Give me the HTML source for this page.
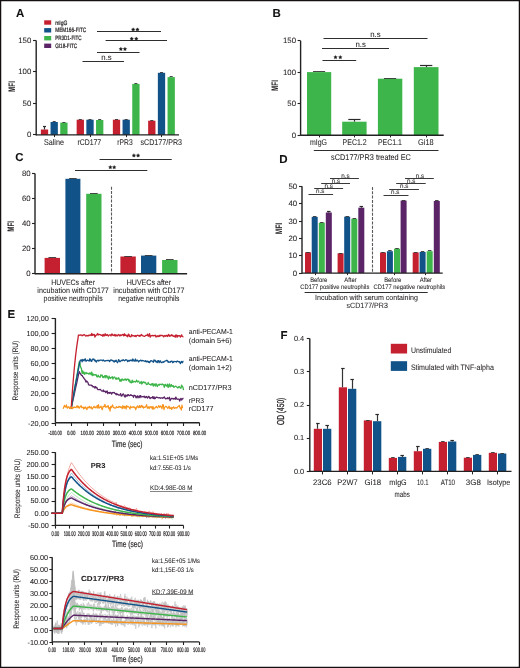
<!DOCTYPE html>
<html><head><meta charset="utf-8"><style>
html,body{margin:0;padding:0;background:#fff;}
body{width:520px;height:668px;overflow:hidden;}
svg{display:block;will-change:transform;text-rendering:geometricPrecision;font-family:"Liberation Sans",sans-serif;}
</style></head><body>
<svg width="520" height="668" viewBox="0 0 520 668">
<rect x="0" y="0" width="520" height="668" fill="#fff"/>
<text x="16" y="16.8" font-size="11.5" font-weight="bold" fill="#111" stroke="#111" stroke-width="0.06">A</text>
<rect x="44.2" y="20.3" width="7" height="4.4" fill="#c4202f"/>
<text x="55.2" y="24.6" font-size="6.3" textLength="12.2" lengthAdjust="spacingAndGlyphs" fill="#231f20" stroke="#231f20" stroke-width="0.22">mIgG</text>
<rect x="44.2" y="28.1" width="7" height="4.4" fill="#115288"/>
<text x="55.2" y="32.4" font-size="6.3" textLength="31" lengthAdjust="spacingAndGlyphs" fill="#231f20" stroke="#231f20" stroke-width="0.22">MEM166-FITC</text>
<rect x="44.2" y="36" width="7" height="4.4" fill="#3db54a"/>
<text x="55.2" y="40.3" font-size="6.3" textLength="26.3" lengthAdjust="spacingAndGlyphs" fill="#231f20" stroke="#231f20" stroke-width="0.22">PR3D1-FITC</text>
<rect x="44.2" y="43.6" width="7" height="4.4" fill="#5a2466"/>
<text x="55.2" y="47.9" font-size="6.3" textLength="22" lengthAdjust="spacingAndGlyphs" fill="#231f20" stroke="#231f20" stroke-width="0.22">GI18-FITC</text>
<line x1="36.2" y1="40.4" x2="36.2" y2="135.4" stroke="#222" stroke-width="1.4"/>
<line x1="33" y1="40.5" x2="36.2" y2="40.5" stroke="#222" stroke-width="1.1"/>
<text x="31.3" y="42.6" font-size="7.8" text-anchor="end" fill="#231f20" stroke="#231f20" stroke-width="0.06">150</text>
<line x1="33" y1="71.5" x2="36.2" y2="71.5" stroke="#222" stroke-width="1.1"/>
<text x="31.3" y="74.1" font-size="7.8" text-anchor="end" fill="#231f20" stroke="#231f20" stroke-width="0.06">100</text>
<line x1="33" y1="103.5" x2="36.2" y2="103.5" stroke="#222" stroke-width="1.1"/>
<text x="31.3" y="105.6" font-size="7.8" text-anchor="end" fill="#231f20" stroke="#231f20" stroke-width="0.06">50</text>
<line x1="33" y1="134.5" x2="36.2" y2="134.5" stroke="#222" stroke-width="1.1"/>
<text x="31.3" y="137.1" font-size="7.8" text-anchor="end" fill="#231f20" stroke="#231f20" stroke-width="0.06">0</text>
<text transform="translate(11.5 86.5) rotate(-90)" x="0" y="3.23" font-size="9.4" text-anchor="middle" font-weight="bold" textLength="10.8" lengthAdjust="spacingAndGlyphs" fill="#231f20" stroke="#231f20" stroke-width="0.06">MFI</text>
<rect x="40.85" y="129.5" width="7.3" height="5.4" fill="#c4202f"/>
<line x1="44.5" y1="129.5" x2="44.5" y2="126.4" stroke="#333" stroke-width="1.2"/>
<line x1="43" y1="126.5" x2="46" y2="126.5" stroke="#2a2a2a" stroke-width="1.2"/>
<rect x="50.55" y="122" width="7.3" height="12.9" fill="#115288"/>
<line x1="52.7" y1="121.5" x2="55.7" y2="121.5" stroke="#333" stroke-width="0.9"/>
<rect x="60.25" y="122.6" width="7.3" height="12.3" fill="#3db54a"/>
<line x1="62.4" y1="122.5" x2="65.4" y2="122.5" stroke="#333" stroke-width="0.9"/>
<line x1="54.5" y1="134.9" x2="54.5" y2="137.1" stroke="#222" stroke-width="1"/>
<text x="53.9" y="145.3" font-size="8.3" text-anchor="middle" textLength="20" lengthAdjust="spacingAndGlyphs" fill="#231f20" stroke="#231f20" stroke-width="0.06">Saline</text>
<rect x="76.65" y="119.7" width="7.3" height="15.2" fill="#c4202f"/>
<line x1="78.8" y1="119.5" x2="81.8" y2="119.5" stroke="#333" stroke-width="0.9"/>
<rect x="86.35" y="119.7" width="7.3" height="15.2" fill="#115288"/>
<line x1="88.5" y1="119.5" x2="91.5" y2="119.5" stroke="#333" stroke-width="0.9"/>
<rect x="96.05" y="120" width="7.3" height="14.9" fill="#3db54a"/>
<line x1="98.2" y1="119.5" x2="101.2" y2="119.5" stroke="#333" stroke-width="0.9"/>
<line x1="90.5" y1="134.9" x2="90.5" y2="137.1" stroke="#222" stroke-width="1"/>
<text x="89.3" y="145.3" font-size="8.3" text-anchor="middle" textLength="23.8" lengthAdjust="spacingAndGlyphs" fill="#231f20" stroke="#231f20" stroke-width="0.06">rCD177</text>
<rect x="112.85" y="119.7" width="7.3" height="15.2" fill="#c4202f"/>
<line x1="115" y1="119.5" x2="118" y2="119.5" stroke="#333" stroke-width="0.9"/>
<rect x="122.55" y="119.7" width="7.3" height="15.2" fill="#115288"/>
<line x1="124.7" y1="119.5" x2="127.7" y2="119.5" stroke="#333" stroke-width="0.9"/>
<rect x="132.25" y="83.9" width="7.3" height="51" fill="#3db54a"/>
<line x1="134.4" y1="83.5" x2="137.4" y2="83.5" stroke="#333" stroke-width="0.9"/>
<line x1="126.5" y1="134.9" x2="126.5" y2="137.1" stroke="#222" stroke-width="1"/>
<text x="125" y="145.3" font-size="8.3" text-anchor="middle" textLength="15.3" lengthAdjust="spacingAndGlyphs" fill="#231f20" stroke="#231f20" stroke-width="0.06">rPR3</text>
<rect x="148.15" y="120.7" width="7.3" height="14.2" fill="#c4202f"/>
<line x1="150.3" y1="120.5" x2="153.3" y2="120.5" stroke="#333" stroke-width="0.9"/>
<rect x="157.85" y="72.8" width="7.3" height="62.1" fill="#115288"/>
<line x1="160" y1="72.5" x2="163" y2="72.5" stroke="#333" stroke-width="0.9"/>
<rect x="167.55" y="77.1" width="7.3" height="57.8" fill="#3db54a"/>
<line x1="169.7" y1="76.5" x2="172.7" y2="76.5" stroke="#333" stroke-width="0.9"/>
<line x1="161.5" y1="134.9" x2="161.5" y2="137.1" stroke="#222" stroke-width="1"/>
<text x="161.3" y="145.3" font-size="8.3" text-anchor="middle" textLength="41.5" lengthAdjust="spacingAndGlyphs" fill="#231f20" stroke="#231f20" stroke-width="0.06">sCD177/PR3</text>
<line x1="36.2" y1="134.9" x2="179" y2="134.9" stroke="#222" stroke-width="1.4"/>
<line x1="97" y1="31.5" x2="161" y2="31.5" stroke="#2e2e2e" stroke-width="1.1"/>
<path d="M133.18 27.75 L133.74 28.82 L134.93 29.03 L134.09 29.9 L134.26 31.1 L133.18 30.56 L132.09 31.1 L132.26 29.9 L131.42 29.03 L132.61 28.82 Z" fill="#1a1a1a" stroke="#1a1a1a" stroke-width="0.35" stroke-linejoin="round"/>
<path d="M137.43 27.75 L137.99 28.82 L139.18 29.03 L138.34 29.9 L138.51 31.1 L137.43 30.56 L136.34 31.1 L136.51 29.9 L135.67 29.03 L136.86 28.82 Z" fill="#1a1a1a" stroke="#1a1a1a" stroke-width="0.35" stroke-linejoin="round"/>
<line x1="105.6" y1="40.5" x2="167" y2="40.5" stroke="#2e2e2e" stroke-width="1.1"/>
<path d="M131.7 36.95 L132.27 38.02 L133.46 38.23 L132.61 39.1 L132.79 40.3 L131.7 39.76 L130.61 40.3 L130.79 39.1 L129.94 38.23 L131.13 38.02 Z" fill="#1a1a1a" stroke="#1a1a1a" stroke-width="0.35" stroke-linejoin="round"/>
<path d="M136.3 36.95 L136.87 38.02 L138.06 38.23 L137.21 39.1 L137.39 40.3 L136.3 39.76 L135.21 40.3 L135.39 39.1 L134.54 38.23 L135.73 38.02 Z" fill="#1a1a1a" stroke="#1a1a1a" stroke-width="0.35" stroke-linejoin="round"/>
<line x1="97" y1="52.5" x2="139.5" y2="52.5" stroke="#2e2e2e" stroke-width="1.1"/>
<path d="M120.85 47.25 L121.42 48.32 L122.61 48.53 L121.76 49.4 L121.94 50.6 L120.85 50.06 L119.76 50.6 L119.94 49.4 L119.09 48.53 L120.28 48.32 Z" fill="#1a1a1a" stroke="#1a1a1a" stroke-width="0.35" stroke-linejoin="round"/>
<path d="M124.95 47.25 L125.52 48.32 L126.71 48.53 L125.86 49.4 L126.04 50.6 L124.95 50.06 L123.86 50.6 L124.04 49.4 L123.19 48.53 L124.38 48.32 Z" fill="#1a1a1a" stroke="#1a1a1a" stroke-width="0.35" stroke-linejoin="round"/>
<line x1="82.5" y1="61.5" x2="124" y2="61.5" stroke="#2e2e2e" stroke-width="1.1"/>
<text x="106.5" y="59.6" font-size="8" text-anchor="middle" textLength="10.4" lengthAdjust="spacingAndGlyphs" fill="#231f20" stroke="#231f20" stroke-width="0.06">n.s</text>
<text x="272.4" y="16.8" font-size="11.5" font-weight="bold" fill="#111" stroke="#111" stroke-width="0.06">B</text>
<line x1="300.6" y1="40.8" x2="300.6" y2="135.7" stroke="#222" stroke-width="1.4"/>
<line x1="297.6" y1="40.5" x2="300.6" y2="40.5" stroke="#222" stroke-width="1.1"/>
<text x="296" y="43.4" font-size="7.8" text-anchor="end" fill="#231f20" stroke="#231f20" stroke-width="0.06">150</text>
<line x1="297.6" y1="72.5" x2="300.6" y2="72.5" stroke="#222" stroke-width="1.1"/>
<text x="296" y="74.87" font-size="7.8" text-anchor="end" fill="#231f20" stroke="#231f20" stroke-width="0.06">100</text>
<line x1="297.6" y1="103.5" x2="300.6" y2="103.5" stroke="#222" stroke-width="1.1"/>
<text x="296" y="106.33" font-size="7.8" text-anchor="end" fill="#231f20" stroke="#231f20" stroke-width="0.06">50</text>
<line x1="297.6" y1="135.5" x2="300.6" y2="135.5" stroke="#222" stroke-width="1.1"/>
<text x="296" y="137.8" font-size="7.8" text-anchor="end" fill="#231f20" stroke="#231f20" stroke-width="0.06">0</text>
<text transform="translate(274.7 85.5) rotate(-90)" x="0" y="3.23" font-size="9.4" text-anchor="middle" font-weight="bold" textLength="10.8" lengthAdjust="spacingAndGlyphs" fill="#231f20" stroke="#231f20" stroke-width="0.06">MFI</text>
<rect x="307" y="72.1" width="24.2" height="63.1" fill="#3db54a"/>
<line x1="313.05" y1="71.5" x2="325.15" y2="71.5" stroke="#333" stroke-width="0.9"/>
<line x1="319.5" y1="135.2" x2="319.5" y2="137.4" stroke="#222" stroke-width="1"/>
<text x="318.5" y="145.4" font-size="8.3" text-anchor="middle" textLength="17" lengthAdjust="spacingAndGlyphs" fill="#231f20" stroke="#231f20" stroke-width="0.06">mIgG</text>
<rect x="342.2" y="121.7" width="24.4" height="13.5" fill="#3db54a"/>
<line x1="354.5" y1="121.7" x2="354.5" y2="119.2" stroke="#333" stroke-width="1.2"/>
<line x1="348.3" y1="119.5" x2="360.5" y2="119.5" stroke="#2a2a2a" stroke-width="1.2"/>
<line x1="354.5" y1="135.2" x2="354.5" y2="137.4" stroke="#222" stroke-width="1"/>
<text x="354.6" y="145.4" font-size="8.3" text-anchor="middle" textLength="24" lengthAdjust="spacingAndGlyphs" fill="#231f20" stroke="#231f20" stroke-width="0.06">PEC1.2</text>
<rect x="377.9" y="78.7" width="24.4" height="56.5" fill="#3db54a"/>
<line x1="384" y1="78.5" x2="396.2" y2="78.5" stroke="#333" stroke-width="0.9"/>
<line x1="390.5" y1="135.2" x2="390.5" y2="137.4" stroke="#222" stroke-width="1"/>
<text x="389.9" y="145.4" font-size="8.3" text-anchor="middle" textLength="24" lengthAdjust="spacingAndGlyphs" fill="#231f20" stroke="#231f20" stroke-width="0.06">PEC1.1</text>
<rect x="413.8" y="67.1" width="24.7" height="68.1" fill="#3db54a"/>
<line x1="426.5" y1="67.1" x2="426.5" y2="65.6" stroke="#333" stroke-width="1.2"/>
<line x1="419.97" y1="65.5" x2="432.32" y2="65.5" stroke="#2a2a2a" stroke-width="1.2"/>
<line x1="426.5" y1="135.2" x2="426.5" y2="137.4" stroke="#222" stroke-width="1"/>
<text x="425.9" y="145.4" font-size="8.3" text-anchor="middle" textLength="15.6" lengthAdjust="spacingAndGlyphs" fill="#231f20" stroke="#231f20" stroke-width="0.06">Gi18</text>
<line x1="300.6" y1="135.2" x2="443.7" y2="135.2" stroke="#222" stroke-width="1.4"/>
<line x1="313.8" y1="150.5" x2="438.5" y2="150.5" stroke="#2e2e2e" stroke-width="1.1"/>
<text x="371" y="159.9" font-size="8.3" text-anchor="middle" textLength="79.8" lengthAdjust="spacingAndGlyphs" fill="#231f20" stroke="#231f20" stroke-width="0.06">sCD177/PR3 treated EC</text>
<line x1="323.5" y1="38.5" x2="427.5" y2="38.5" stroke="#2e2e2e" stroke-width="1.1"/>
<text x="375.4" y="36.9" font-size="8" text-anchor="middle" textLength="10.4" lengthAdjust="spacingAndGlyphs" fill="#231f20" stroke="#231f20" stroke-width="0.06">n.s</text>
<line x1="322" y1="48.5" x2="389" y2="48.5" stroke="#2e2e2e" stroke-width="1.1"/>
<text x="360.6" y="47.1" font-size="8" text-anchor="middle" textLength="10.4" lengthAdjust="spacingAndGlyphs" fill="#231f20" stroke="#231f20" stroke-width="0.06">n.s</text>
<line x1="322.5" y1="60.5" x2="356.2" y2="60.5" stroke="#2e2e2e" stroke-width="1.1"/>
<path d="M335.5 55.45 L336.07 56.52 L337.26 56.73 L336.41 57.6 L336.59 58.8 L335.5 58.26 L334.41 58.8 L334.59 57.6 L333.74 56.73 L334.93 56.52 Z" fill="#1a1a1a" stroke="#1a1a1a" stroke-width="0.35" stroke-linejoin="round"/>
<path d="M340.3 55.45 L340.87 56.52 L342.06 56.73 L341.21 57.6 L341.39 58.8 L340.3 58.26 L339.21 58.8 L339.39 57.6 L338.54 56.73 L339.73 56.52 Z" fill="#1a1a1a" stroke="#1a1a1a" stroke-width="0.35" stroke-linejoin="round"/>
<text x="15.3" y="160.6" font-size="11.5" font-weight="bold" fill="#111" stroke="#111" stroke-width="0.06">C</text>
<line x1="35" y1="173.6" x2="35" y2="274.3" stroke="#222" stroke-width="1.4"/>
<line x1="32" y1="173.5" x2="35" y2="173.5" stroke="#222" stroke-width="1.1"/>
<text x="30.7" y="176.2" font-size="7.8" text-anchor="end" fill="#231f20" stroke="#231f20" stroke-width="0.06">80</text>
<line x1="32" y1="198.5" x2="35" y2="198.5" stroke="#222" stroke-width="1.1"/>
<text x="30.7" y="201.25" font-size="7.8" text-anchor="end" fill="#231f20" stroke="#231f20" stroke-width="0.06">60</text>
<line x1="32" y1="223.5" x2="35" y2="223.5" stroke="#222" stroke-width="1.1"/>
<text x="30.7" y="226.3" font-size="7.8" text-anchor="end" fill="#231f20" stroke="#231f20" stroke-width="0.06">40</text>
<line x1="32" y1="248.5" x2="35" y2="248.5" stroke="#222" stroke-width="1.1"/>
<text x="30.7" y="251.35" font-size="7.8" text-anchor="end" fill="#231f20" stroke="#231f20" stroke-width="0.06">20</text>
<line x1="32" y1="273.5" x2="35" y2="273.5" stroke="#222" stroke-width="1.1"/>
<text x="30.7" y="276.4" font-size="7.8" text-anchor="end" fill="#231f20" stroke="#231f20" stroke-width="0.06">0</text>
<text transform="translate(10.8 226.3) rotate(-90)" x="0" y="3.23" font-size="9.4" text-anchor="middle" font-weight="bold" textLength="10.8" lengthAdjust="spacingAndGlyphs" fill="#231f20" stroke="#231f20" stroke-width="0.06">MFI</text>
<rect x="44.6" y="257.9" width="15.4" height="15.9" fill="#c4202f"/>
<line x1="48.45" y1="257.5" x2="56.15" y2="257.5" stroke="#333" stroke-width="0.9"/>
<rect x="65.4" y="178.8" width="15" height="95" fill="#115288"/>
<line x1="69.15" y1="178.5" x2="76.65" y2="178.5" stroke="#333" stroke-width="0.9"/>
<rect x="86.2" y="193.8" width="15.3" height="80" fill="#3db54a"/>
<line x1="90.02" y1="193.5" x2="97.67" y2="193.5" stroke="#333" stroke-width="0.9"/>
<rect x="120.4" y="256.5" width="15.4" height="17.3" fill="#c4202f"/>
<line x1="124.25" y1="256.5" x2="131.95" y2="256.5" stroke="#333" stroke-width="0.9"/>
<rect x="141" y="255.6" width="15.3" height="18.2" fill="#115288"/>
<line x1="144.82" y1="255.5" x2="152.48" y2="255.5" stroke="#333" stroke-width="0.9"/>
<rect x="162.1" y="260" width="15.4" height="13.8" fill="#3db54a"/>
<line x1="165.95" y1="259.5" x2="173.65" y2="259.5" stroke="#333" stroke-width="0.9"/>
<line x1="35" y1="273.8" x2="187.1" y2="273.8" stroke="#222" stroke-width="1.4"/>
<line x1="111.5" y1="186.7" x2="111.5" y2="273" stroke="#5a5a5a" stroke-width="1.1" stroke-dasharray="3 1.3"/>
<line x1="99.6" y1="159.5" x2="171.7" y2="159.5" stroke="#2e2e2e" stroke-width="1.1"/>
<path d="M133.9 153.65 L134.47 154.72 L135.66 154.93 L134.81 155.8 L134.99 157 L133.9 156.46 L132.81 157 L132.99 155.8 L132.14 154.93 L133.33 154.72 Z" fill="#1a1a1a" stroke="#1a1a1a" stroke-width="0.35" stroke-linejoin="round"/>
<path d="M138.1 153.65 L138.67 154.72 L139.86 154.93 L139.01 155.8 L139.19 157 L138.1 156.46 L137.01 157 L137.19 155.8 L136.34 154.93 L137.53 154.72 Z" fill="#1a1a1a" stroke="#1a1a1a" stroke-width="0.35" stroke-linejoin="round"/>
<line x1="75" y1="170.5" x2="147.3" y2="170.5" stroke="#2e2e2e" stroke-width="1.1"/>
<path d="M110.3 165.45 L110.87 166.52 L112.06 166.73 L111.21 167.6 L111.39 168.8 L110.3 168.26 L109.21 168.8 L109.39 167.6 L108.54 166.73 L109.73 166.52 Z" fill="#1a1a1a" stroke="#1a1a1a" stroke-width="0.35" stroke-linejoin="round"/>
<path d="M114.2 165.45 L114.77 166.52 L115.96 166.73 L115.11 167.6 L115.29 168.8 L114.2 168.26 L113.11 168.8 L113.29 167.6 L112.44 166.73 L113.63 166.52 Z" fill="#1a1a1a" stroke="#1a1a1a" stroke-width="0.35" stroke-linejoin="round"/>
<text x="73.1" y="284.9" font-size="7.8" text-anchor="middle" textLength="43.8" lengthAdjust="spacingAndGlyphs" fill="#231f20" stroke="#231f20" stroke-width="0.06">HUVECs after</text>
<text x="73.1" y="293.15" font-size="7.8" text-anchor="middle" textLength="71.5" lengthAdjust="spacingAndGlyphs" fill="#231f20" stroke="#231f20" stroke-width="0.06">incubation with CD177</text>
<text x="73.1" y="301.4" font-size="7.8" text-anchor="middle" textLength="59" lengthAdjust="spacingAndGlyphs" fill="#231f20" stroke="#231f20" stroke-width="0.06">positive neutrophils</text>
<text x="148.9" y="284.9" font-size="7.8" text-anchor="middle" textLength="44.5" lengthAdjust="spacingAndGlyphs" fill="#231f20" stroke="#231f20" stroke-width="0.06">HUVECs after</text>
<text x="148.9" y="293.15" font-size="7.8" text-anchor="middle" textLength="71.1" lengthAdjust="spacingAndGlyphs" fill="#231f20" stroke="#231f20" stroke-width="0.06">incubation with CD177</text>
<text x="148.9" y="301.4" font-size="7.8" text-anchor="middle" textLength="61.3" lengthAdjust="spacingAndGlyphs" fill="#231f20" stroke="#231f20" stroke-width="0.06">negative neutrophils</text>
<text x="279.2" y="162.6" font-size="11.5" font-weight="bold" fill="#111" stroke="#111" stroke-width="0.06">D</text>
<line x1="302" y1="186.3" x2="302" y2="273.6" stroke="#222" stroke-width="1.4"/>
<line x1="299" y1="186.5" x2="302" y2="186.5" stroke="#222" stroke-width="1.1"/>
<text x="297.2" y="188.9" font-size="7.8" text-anchor="end" fill="#231f20" stroke="#231f20" stroke-width="0.06">50</text>
<line x1="299" y1="203.5" x2="302" y2="203.5" stroke="#222" stroke-width="1.1"/>
<text x="297.2" y="206.26" font-size="7.8" text-anchor="end" fill="#231f20" stroke="#231f20" stroke-width="0.06">40</text>
<line x1="299" y1="221.5" x2="302" y2="221.5" stroke="#222" stroke-width="1.1"/>
<text x="297.2" y="223.62" font-size="7.8" text-anchor="end" fill="#231f20" stroke="#231f20" stroke-width="0.06">30</text>
<line x1="299" y1="238.5" x2="302" y2="238.5" stroke="#222" stroke-width="1.1"/>
<text x="297.2" y="240.98" font-size="7.8" text-anchor="end" fill="#231f20" stroke="#231f20" stroke-width="0.06">20</text>
<line x1="299" y1="255.5" x2="302" y2="255.5" stroke="#222" stroke-width="1.1"/>
<text x="297.2" y="258.34" font-size="7.8" text-anchor="end" fill="#231f20" stroke="#231f20" stroke-width="0.06">10</text>
<line x1="299" y1="273.5" x2="302" y2="273.5" stroke="#222" stroke-width="1.1"/>
<text x="297.2" y="275.7" font-size="7.8" text-anchor="end" fill="#231f20" stroke="#231f20" stroke-width="0.06">0</text>
<text transform="translate(278.5 228.6) rotate(-90)" x="0" y="3.23" font-size="9.4" text-anchor="middle" font-weight="bold" textLength="11.2" lengthAdjust="spacingAndGlyphs" fill="#231f20" stroke="#231f20" stroke-width="0.06">MFI</text>
<rect x="305" y="252.3" width="6" height="20.8" fill="#c4202f"/>
<line x1="306.25" y1="252.5" x2="309.75" y2="252.5" stroke="#333" stroke-width="0.9"/>
<rect x="311.7" y="216.9" width="6" height="56.2" fill="#115288"/>
<line x1="312.95" y1="216.5" x2="316.45" y2="216.5" stroke="#333" stroke-width="0.9"/>
<rect x="318.8" y="222.7" width="6" height="50.4" fill="#3db54a"/>
<line x1="320.05" y1="222.5" x2="323.55" y2="222.5" stroke="#333" stroke-width="0.9"/>
<rect x="325.8" y="212.5" width="6" height="60.6" fill="#5a2466"/>
<line x1="328.5" y1="212.5" x2="328.5" y2="211.3" stroke="#333" stroke-width="1.2"/>
<line x1="327.05" y1="211.5" x2="330.55" y2="211.5" stroke="#2a2a2a" stroke-width="1.2"/>
<rect x="337.6" y="253.3" width="6" height="19.8" fill="#c4202f"/>
<line x1="338.85" y1="253.5" x2="342.35" y2="253.5" stroke="#333" stroke-width="0.9"/>
<rect x="344.2" y="216.7" width="6" height="56.4" fill="#115288"/>
<line x1="345.45" y1="216.5" x2="348.95" y2="216.5" stroke="#333" stroke-width="0.9"/>
<rect x="351.3" y="218.7" width="6" height="54.4" fill="#3db54a"/>
<line x1="352.55" y1="218.5" x2="356.05" y2="218.5" stroke="#333" stroke-width="0.9"/>
<rect x="358.3" y="207.7" width="6" height="65.4" fill="#5a2466"/>
<line x1="361.5" y1="207.7" x2="361.5" y2="206" stroke="#333" stroke-width="1.2"/>
<line x1="359.55" y1="206.5" x2="363.05" y2="206.5" stroke="#2a2a2a" stroke-width="1.2"/>
<rect x="380" y="252.5" width="6" height="20.6" fill="#c4202f"/>
<line x1="381.25" y1="252.5" x2="384.75" y2="252.5" stroke="#333" stroke-width="0.9"/>
<rect x="386.9" y="251.2" width="6" height="21.9" fill="#115288"/>
<line x1="388.15" y1="250.5" x2="391.65" y2="250.5" stroke="#333" stroke-width="0.9"/>
<rect x="394" y="248.7" width="6" height="24.4" fill="#3db54a"/>
<line x1="395.25" y1="248.5" x2="398.75" y2="248.5" stroke="#333" stroke-width="0.9"/>
<rect x="400.6" y="200.6" width="6" height="72.5" fill="#5a2466"/>
<line x1="401.85" y1="200.5" x2="405.35" y2="200.5" stroke="#333" stroke-width="0.9"/>
<rect x="412.7" y="252.5" width="6" height="20.6" fill="#c4202f"/>
<line x1="413.95" y1="252.5" x2="417.45" y2="252.5" stroke="#333" stroke-width="0.9"/>
<rect x="419.6" y="252" width="6" height="21.1" fill="#115288"/>
<line x1="420.85" y1="251.5" x2="424.35" y2="251.5" stroke="#333" stroke-width="0.9"/>
<rect x="426.7" y="251.2" width="6" height="21.9" fill="#3db54a"/>
<line x1="427.95" y1="250.5" x2="431.45" y2="250.5" stroke="#333" stroke-width="0.9"/>
<rect x="433.8" y="201" width="6" height="72.1" fill="#5a2466"/>
<line x1="435.05" y1="200.5" x2="438.55" y2="200.5" stroke="#333" stroke-width="0.9"/>
<line x1="302" y1="273.1" x2="442.7" y2="273.1" stroke="#222" stroke-width="1.4"/>
<line x1="315.5" y1="273.1" x2="315.5" y2="275.1" stroke="#222" stroke-width="1"/>
<line x1="347.5" y1="273.1" x2="347.5" y2="275.1" stroke="#222" stroke-width="1"/>
<line x1="394.5" y1="273.1" x2="394.5" y2="275.1" stroke="#222" stroke-width="1"/>
<line x1="425.5" y1="273.1" x2="425.5" y2="275.1" stroke="#222" stroke-width="1"/>
<line x1="372.5" y1="187" x2="372.5" y2="273" stroke="#5a5a5a" stroke-width="1.1" stroke-dasharray="3 1.3"/>
<line x1="308.5" y1="194.5" x2="333.1" y2="194.5" stroke="#2e2e2e" stroke-width="0.95"/>
<text x="320.2" y="193.2" font-size="6.6" text-anchor="middle" textLength="8.4" lengthAdjust="spacingAndGlyphs" fill="#231f20" stroke="#231f20" stroke-width="0.06">n.s</text>
<line x1="314.2" y1="188.5" x2="343.1" y2="188.5" stroke="#2e2e2e" stroke-width="0.95"/>
<text x="328.7" y="188" font-size="6.6" text-anchor="middle" textLength="8.4" lengthAdjust="spacingAndGlyphs" fill="#231f20" stroke="#231f20" stroke-width="0.06">n.s</text>
<line x1="321.2" y1="183.5" x2="350" y2="183.5" stroke="#2e2e2e" stroke-width="0.95"/>
<text x="336" y="182.7" font-size="6.6" text-anchor="middle" textLength="8.4" lengthAdjust="spacingAndGlyphs" fill="#231f20" stroke="#231f20" stroke-width="0.06">n.s</text>
<line x1="330" y1="178.5" x2="358.9" y2="178.5" stroke="#2e2e2e" stroke-width="0.95"/>
<text x="345.4" y="177.5" font-size="6.6" text-anchor="middle" textLength="8.4" lengthAdjust="spacingAndGlyphs" fill="#231f20" stroke="#231f20" stroke-width="0.06">n.s</text>
<line x1="383.5" y1="195.5" x2="408.5" y2="195.5" stroke="#2e2e2e" stroke-width="0.95"/>
<text x="395.1" y="194.3" font-size="6.6" text-anchor="middle" textLength="8.4" lengthAdjust="spacingAndGlyphs" fill="#231f20" stroke="#231f20" stroke-width="0.06">n.s</text>
<line x1="389.2" y1="189.5" x2="418.9" y2="189.5" stroke="#2e2e2e" stroke-width="0.95"/>
<text x="404.2" y="188.4" font-size="6.6" text-anchor="middle" textLength="8.4" lengthAdjust="spacingAndGlyphs" fill="#231f20" stroke="#231f20" stroke-width="0.06">n.s</text>
<line x1="396.2" y1="183.5" x2="425.7" y2="183.5" stroke="#2e2e2e" stroke-width="0.95"/>
<text x="411.2" y="182.7" font-size="6.6" text-anchor="middle" textLength="8.4" lengthAdjust="spacingAndGlyphs" fill="#231f20" stroke="#231f20" stroke-width="0.06">n.s</text>
<line x1="405" y1="178.5" x2="433.8" y2="178.5" stroke="#2e2e2e" stroke-width="0.95"/>
<text x="420" y="177.7" font-size="6.6" text-anchor="middle" textLength="8.4" lengthAdjust="spacingAndGlyphs" fill="#231f20" stroke="#231f20" stroke-width="0.06">n.s</text>
<text x="318.75" y="282" font-size="6.6" text-anchor="middle" textLength="17.2" lengthAdjust="spacingAndGlyphs" fill="#231f20" stroke="#231f20" stroke-width="0.06">Before</text>
<text x="350.5" y="282" font-size="6.6" text-anchor="middle" textLength="12.3" lengthAdjust="spacingAndGlyphs" fill="#231f20" stroke="#231f20" stroke-width="0.06">After</text>
<text x="334.8" y="289" font-size="6.4" text-anchor="middle" textLength="69" lengthAdjust="spacingAndGlyphs" fill="#231f20" stroke="#231f20" stroke-width="0.06">CD177 positive neutrophils</text>
<text x="392.75" y="282" font-size="6.6" text-anchor="middle" textLength="17.2" lengthAdjust="spacingAndGlyphs" fill="#231f20" stroke="#231f20" stroke-width="0.06">Before</text>
<text x="425.8" y="282" font-size="6.6" text-anchor="middle" textLength="12.3" lengthAdjust="spacingAndGlyphs" fill="#231f20" stroke="#231f20" stroke-width="0.06">After</text>
<text x="409.4" y="289" font-size="6.4" text-anchor="middle" textLength="71.6" lengthAdjust="spacingAndGlyphs" fill="#231f20" stroke="#231f20" stroke-width="0.06">CD177 negative neutrophils</text>
<line x1="304.6" y1="292.5" x2="427.7" y2="292.5" stroke="#2e2e2e" stroke-width="1.1"/>
<text x="366.5" y="300.3" font-size="7.6" text-anchor="middle" textLength="103" lengthAdjust="spacingAndGlyphs" fill="#231f20" stroke="#231f20" stroke-width="0.06">Incubation with serum containing</text>
<text x="367.2" y="308" font-size="7.6" text-anchor="middle" textLength="41.3" lengthAdjust="spacingAndGlyphs" fill="#231f20" stroke="#231f20" stroke-width="0.06">sCD177/PR3</text>
<text x="280.5" y="338.8" font-size="11.5" font-weight="bold" fill="#111" stroke="#111" stroke-width="0.06">F</text>
<line x1="309.8" y1="338.6" x2="309.8" y2="471.9" stroke="#222" stroke-width="1.4"/>
<line x1="306.8" y1="338.5" x2="309.8" y2="338.5" stroke="#222" stroke-width="1.1"/>
<text x="304.2" y="340.8" font-size="7.4" text-anchor="end" fill="#231f20" stroke="#231f20" stroke-width="0.06">0.4</text>
<line x1="306.8" y1="371.5" x2="309.8" y2="371.5" stroke="#222" stroke-width="1.1"/>
<text x="304.2" y="374" font-size="7.4" text-anchor="end" fill="#231f20" stroke="#231f20" stroke-width="0.06">0.3</text>
<line x1="306.8" y1="405.5" x2="309.8" y2="405.5" stroke="#222" stroke-width="1.1"/>
<text x="304.2" y="407.2" font-size="7.4" text-anchor="end" fill="#231f20" stroke="#231f20" stroke-width="0.06">0.2</text>
<line x1="306.8" y1="438.5" x2="309.8" y2="438.5" stroke="#222" stroke-width="1.1"/>
<text x="304.2" y="440.4" font-size="7.4" text-anchor="end" fill="#231f20" stroke="#231f20" stroke-width="0.06">0.1</text>
<line x1="306.8" y1="471.5" x2="309.8" y2="471.5" stroke="#222" stroke-width="1.1"/>
<text x="304.2" y="473.6" font-size="7.4" text-anchor="end" fill="#231f20" stroke="#231f20" stroke-width="0.06">0.0</text>
<text transform="translate(280.5 411.3) rotate(-90)" x="0" y="3.44" font-size="10" text-anchor="middle" textLength="27.2" lengthAdjust="spacingAndGlyphs" fill="#231f20" stroke="#231f20" stroke-width="0.3">OD (450)</text>
<rect x="313.8" y="428.8" width="8.2" height="42.6" fill="#c4202f"/>
<line x1="317.5" y1="428.8" x2="317.5" y2="423.1" stroke="#333" stroke-width="1.2"/>
<line x1="316.15" y1="423.5" x2="319.65" y2="423.5" stroke="#2a2a2a" stroke-width="1.2"/>
<rect x="323" y="428.8" width="8.3" height="42.6" fill="#115288"/>
<line x1="327.5" y1="428.8" x2="327.5" y2="425.6" stroke="#333" stroke-width="1.2"/>
<line x1="325.4" y1="425.5" x2="328.9" y2="425.5" stroke="#2a2a2a" stroke-width="1.2"/>
<line x1="322.5" y1="471.4" x2="322.5" y2="474.4" stroke="#222" stroke-width="1"/>
<text x="322.3" y="484.6" font-size="8" text-anchor="middle" textLength="18.5" lengthAdjust="spacingAndGlyphs" fill="#231f20" stroke="#231f20" stroke-width="0.06">23C6</text>
<rect x="338.8" y="387.3" width="8.2" height="84.1" fill="#c4202f"/>
<line x1="342.5" y1="387.3" x2="342.5" y2="368.7" stroke="#333" stroke-width="1.2"/>
<line x1="341.15" y1="368.5" x2="344.65" y2="368.5" stroke="#2a2a2a" stroke-width="1.2"/>
<rect x="348" y="388.8" width="8.3" height="82.6" fill="#115288"/>
<line x1="352.5" y1="388.8" x2="352.5" y2="379.2" stroke="#333" stroke-width="1.2"/>
<line x1="350.4" y1="379.5" x2="353.9" y2="379.5" stroke="#2a2a2a" stroke-width="1.2"/>
<line x1="347.5" y1="471.4" x2="347.5" y2="474.4" stroke="#222" stroke-width="1"/>
<text x="347.45" y="484.6" font-size="8" text-anchor="middle" textLength="20.3" lengthAdjust="spacingAndGlyphs" fill="#231f20" stroke="#231f20" stroke-width="0.06">P2W7</text>
<rect x="363.8" y="420.4" width="8.2" height="51" fill="#c4202f"/>
<line x1="366.15" y1="420.5" x2="369.65" y2="420.5" stroke="#333" stroke-width="0.9"/>
<rect x="373" y="421.2" width="8.3" height="50.2" fill="#115288"/>
<line x1="377.5" y1="421.2" x2="377.5" y2="414.4" stroke="#333" stroke-width="1.2"/>
<line x1="375.4" y1="414.5" x2="378.9" y2="414.5" stroke="#2a2a2a" stroke-width="1.2"/>
<line x1="372.5" y1="471.4" x2="372.5" y2="474.4" stroke="#222" stroke-width="1"/>
<text x="372.85" y="484.6" font-size="8" text-anchor="middle" textLength="16.5" lengthAdjust="spacingAndGlyphs" fill="#231f20" stroke="#231f20" stroke-width="0.06">Gi18</text>
<rect x="388.8" y="457.9" width="8.2" height="13.5" fill="#c4202f"/>
<line x1="391.15" y1="457.5" x2="394.65" y2="457.5" stroke="#333" stroke-width="0.9"/>
<rect x="398" y="456.9" width="8.3" height="14.5" fill="#115288"/>
<line x1="402.5" y1="456.9" x2="402.5" y2="455.4" stroke="#333" stroke-width="1.2"/>
<line x1="400.4" y1="455.5" x2="403.9" y2="455.5" stroke="#2a2a2a" stroke-width="1.2"/>
<line x1="397.5" y1="471.4" x2="397.5" y2="474.4" stroke="#222" stroke-width="1"/>
<text x="397.95" y="484.6" font-size="8" text-anchor="middle" textLength="17.5" lengthAdjust="spacingAndGlyphs" fill="#231f20" stroke="#231f20" stroke-width="0.06">mIgG</text>
<rect x="413.8" y="451.2" width="8.2" height="20.2" fill="#c4202f"/>
<line x1="417.5" y1="451.2" x2="417.5" y2="446.7" stroke="#333" stroke-width="1.2"/>
<line x1="416.15" y1="446.5" x2="419.65" y2="446.5" stroke="#2a2a2a" stroke-width="1.2"/>
<rect x="423" y="448.8" width="8.3" height="22.6" fill="#115288"/>
<line x1="425.4" y1="448.5" x2="428.9" y2="448.5" stroke="#333" stroke-width="0.9"/>
<line x1="422.5" y1="471.4" x2="422.5" y2="474.4" stroke="#222" stroke-width="1"/>
<text x="422.75" y="484.6" font-size="8" text-anchor="middle" textLength="11.5" lengthAdjust="spacingAndGlyphs" fill="#231f20" stroke="#231f20" stroke-width="0.06">10.1</text>
<rect x="438.8" y="441.9" width="8.2" height="29.5" fill="#c4202f"/>
<line x1="441.15" y1="441.5" x2="444.65" y2="441.5" stroke="#333" stroke-width="0.9"/>
<rect x="448" y="441.5" width="8.3" height="29.9" fill="#115288"/>
<line x1="452.5" y1="441.5" x2="452.5" y2="440.4" stroke="#333" stroke-width="1.2"/>
<line x1="450.4" y1="440.5" x2="453.9" y2="440.5" stroke="#2a2a2a" stroke-width="1.2"/>
<line x1="447.5" y1="471.4" x2="447.5" y2="474.4" stroke="#222" stroke-width="1"/>
<text x="447.9" y="484.6" font-size="8" text-anchor="middle" textLength="14.3" lengthAdjust="spacingAndGlyphs" fill="#231f20" stroke="#231f20" stroke-width="0.06">AT10</text>
<rect x="463.8" y="457.7" width="8.2" height="13.7" fill="#c4202f"/>
<line x1="466.15" y1="457.5" x2="469.65" y2="457.5" stroke="#333" stroke-width="0.9"/>
<rect x="473" y="454.9" width="8.3" height="16.5" fill="#115288"/>
<line x1="475.4" y1="454.5" x2="478.9" y2="454.5" stroke="#333" stroke-width="0.9"/>
<line x1="472.5" y1="471.4" x2="472.5" y2="474.4" stroke="#222" stroke-width="1"/>
<text x="473.3" y="484.6" font-size="8" text-anchor="middle" textLength="15" lengthAdjust="spacingAndGlyphs" fill="#231f20" stroke="#231f20" stroke-width="0.06">3G8</text>
<rect x="488.8" y="452.8" width="8.2" height="18.6" fill="#c4202f"/>
<line x1="491.15" y1="452.5" x2="494.65" y2="452.5" stroke="#333" stroke-width="0.9"/>
<rect x="498" y="453.5" width="8.3" height="17.9" fill="#115288"/>
<line x1="500.4" y1="453.5" x2="503.9" y2="453.5" stroke="#333" stroke-width="0.9"/>
<line x1="497.5" y1="471.4" x2="497.5" y2="474.4" stroke="#222" stroke-width="1"/>
<text x="498.7" y="484.6" font-size="8" text-anchor="middle" textLength="23.4" lengthAdjust="spacingAndGlyphs" fill="#231f20" stroke="#231f20" stroke-width="0.06">Isotype</text>
<line x1="309.8" y1="471.4" x2="511.5" y2="471.4" stroke="#222" stroke-width="1.4"/>
<text x="402.2" y="496.7" font-size="8" text-anchor="middle" textLength="15.2" lengthAdjust="spacingAndGlyphs" fill="#231f20" stroke="#231f20" stroke-width="0.06">mabs</text>
<rect x="390.8" y="343.8" width="16.3" height="9.7" fill="#c4202f"/>
<rect x="390.8" y="361.2" width="16.3" height="9.7" fill="#115288"/>
<text x="410.9" y="352.5" font-size="8" textLength="40.4" lengthAdjust="spacingAndGlyphs" fill="#231f20" stroke="#231f20" stroke-width="0.06">Unstimulated</text>
<text x="410.9" y="369.7" font-size="8" textLength="83" lengthAdjust="spacingAndGlyphs" fill="#231f20" stroke="#231f20" stroke-width="0.06">Stimulated with TNF-alpha</text>
<text x="7.6" y="318.1" font-size="11.5" font-weight="bold" fill="#111" stroke="#111" stroke-width="0.06">E</text>
<line x1="55.4" y1="318.18" x2="55.4" y2="422.8" stroke="#222" stroke-width="1.4"/>
<line x1="51.6" y1="318.5" x2="55.4" y2="318.5" stroke="#222" stroke-width="1.1"/>
<text x="48.8" y="320.68" font-size="7.3" text-anchor="end" fill="#231f20" stroke="#231f20" stroke-width="0.06">120,00</text>
<line x1="51.6" y1="333.5" x2="55.4" y2="333.5" stroke="#222" stroke-width="1.1"/>
<text x="48.8" y="335.7" font-size="7.3" text-anchor="end" fill="#231f20" stroke="#231f20" stroke-width="0.06">100,00</text>
<line x1="51.6" y1="348.5" x2="55.4" y2="348.5" stroke="#222" stroke-width="1.1"/>
<text x="48.8" y="350.72" font-size="7.3" text-anchor="end" fill="#231f20" stroke="#231f20" stroke-width="0.06">80,00</text>
<line x1="51.6" y1="363.5" x2="55.4" y2="363.5" stroke="#222" stroke-width="1.1"/>
<text x="48.8" y="365.74" font-size="7.3" text-anchor="end" fill="#231f20" stroke="#231f20" stroke-width="0.06">60,00</text>
<line x1="51.6" y1="378.5" x2="55.4" y2="378.5" stroke="#222" stroke-width="1.1"/>
<text x="48.8" y="380.76" font-size="7.3" text-anchor="end" fill="#231f20" stroke="#231f20" stroke-width="0.06">40,00</text>
<line x1="51.6" y1="393.5" x2="55.4" y2="393.5" stroke="#222" stroke-width="1.1"/>
<text x="48.8" y="395.78" font-size="7.3" text-anchor="end" fill="#231f20" stroke="#231f20" stroke-width="0.06">20,00</text>
<line x1="51.6" y1="408.5" x2="55.4" y2="408.5" stroke="#222" stroke-width="1.1"/>
<text x="48.8" y="410.8" font-size="7.3" text-anchor="end" fill="#231f20" stroke="#231f20" stroke-width="0.06">0,00</text>
<line x1="51.6" y1="423.5" x2="55.4" y2="423.5" stroke="#222" stroke-width="1.1"/>
<text x="48.8" y="425.82" font-size="7.3" text-anchor="end" fill="#231f20" stroke="#231f20" stroke-width="0.06">-20,00</text>
<line x1="55.4" y1="422.8" x2="199.6" y2="422.8" stroke="#222" stroke-width="1.4"/>
<line x1="55.5" y1="422.8" x2="55.5" y2="426" stroke="#222" stroke-width="1.1"/>
<text x="55.15" y="434.8" font-size="6.2" text-anchor="middle" textLength="13.4" lengthAdjust="spacingAndGlyphs" fill="#231f20" stroke="#231f20" stroke-width="0.2">-100.00</text>
<line x1="71.5" y1="422.8" x2="71.5" y2="426" stroke="#222" stroke-width="1.1"/>
<text x="71.2" y="434.8" font-size="6.2" text-anchor="middle" textLength="8.6" lengthAdjust="spacingAndGlyphs" fill="#231f20" stroke="#231f20" stroke-width="0.2">0.00</text>
<line x1="87.5" y1="422.8" x2="87.5" y2="426" stroke="#222" stroke-width="1.1"/>
<text x="87.25" y="434.8" font-size="6.2" text-anchor="middle" textLength="13.4" lengthAdjust="spacingAndGlyphs" fill="#231f20" stroke="#231f20" stroke-width="0.2">100.00</text>
<line x1="103.5" y1="422.8" x2="103.5" y2="426" stroke="#222" stroke-width="1.1"/>
<text x="103.3" y="434.8" font-size="6.2" text-anchor="middle" textLength="13.4" lengthAdjust="spacingAndGlyphs" fill="#231f20" stroke="#231f20" stroke-width="0.2">200.00</text>
<line x1="119.5" y1="422.8" x2="119.5" y2="426" stroke="#222" stroke-width="1.1"/>
<text x="119.35" y="434.8" font-size="6.2" text-anchor="middle" textLength="13.4" lengthAdjust="spacingAndGlyphs" fill="#231f20" stroke="#231f20" stroke-width="0.2">300.00</text>
<line x1="135.5" y1="422.8" x2="135.5" y2="426" stroke="#222" stroke-width="1.1"/>
<text x="135.4" y="434.8" font-size="6.2" text-anchor="middle" textLength="13.4" lengthAdjust="spacingAndGlyphs" fill="#231f20" stroke="#231f20" stroke-width="0.2">400.00</text>
<line x1="151.5" y1="422.8" x2="151.5" y2="426" stroke="#222" stroke-width="1.1"/>
<text x="151.45" y="434.8" font-size="6.2" text-anchor="middle" textLength="13.4" lengthAdjust="spacingAndGlyphs" fill="#231f20" stroke="#231f20" stroke-width="0.2">500.00</text>
<line x1="167.5" y1="422.8" x2="167.5" y2="426" stroke="#222" stroke-width="1.1"/>
<text x="167.5" y="434.8" font-size="6.2" text-anchor="middle" textLength="13.4" lengthAdjust="spacingAndGlyphs" fill="#231f20" stroke="#231f20" stroke-width="0.2">600.00</text>
<line x1="183.5" y1="422.8" x2="183.5" y2="426" stroke="#222" stroke-width="1.1"/>
<text x="183.55" y="434.8" font-size="6.2" text-anchor="middle" textLength="13.4" lengthAdjust="spacingAndGlyphs" fill="#231f20" stroke="#231f20" stroke-width="0.2">700.00</text>
<line x1="199.5" y1="422.8" x2="199.5" y2="426" stroke="#222" stroke-width="1.1"/>
<text x="199.6" y="434.8" font-size="6.2" text-anchor="middle" textLength="13.4" lengthAdjust="spacingAndGlyphs" fill="#231f20" stroke="#231f20" stroke-width="0.2">800.00</text>
<text x="127.1" y="446.8" font-size="9" text-anchor="middle" textLength="30.8" lengthAdjust="spacingAndGlyphs" fill="#231f20" stroke="#231f20" stroke-width="0.2">Time (sec)</text>
<text transform="translate(15.7 370.7) rotate(-90)" x="0" y="2.75" font-size="8" text-anchor="middle" textLength="59.5" lengthAdjust="spacingAndGlyphs" fill="#231f20" stroke="#231f20" stroke-width="0.06">Response units (RU)</text>
<path d="M71.2 408.3 L71.68 406.09 L72.16 403.88 L72.64 401.68 L73.13 399.47 L73.61 397.26 L74.09 395.05 L74.57 392.84 L75.05 390.64 L75.53 388.43 L76.02 386.22 L76.5 384.01 L76.98 381.8 L77.46 379.6 L77.94 377.39 L78.42 375.18 L78.9 373.03 L79.39 371.68 L79.87 372.71 L80.35 373.56 L80.83 374.48 L81.47 375.44 L82.11 375.39 L82.76 376.8 L83.4 377.19 L84.04 378.58 L84.68 379.23 L85.32 380.11 L85.97 382.18 L86.61 380.93 L87.25 381.8 L87.89 382.39 L88.53 384.59 L89.18 385.15 L89.82 385.01 L90.46 385.16 L91.1 385.04 L91.74 385.73 L92.39 385.71 L93.03 386.98 L93.67 386.64 L94.31 386.93 L94.95 388.06 L95.6 386.6 L96.24 387.78 L96.88 387.6 L97.52 389.25 L98.16 389.61 L98.81 389.58 L99.45 389.66 L100.09 389.34 L100.73 389.87 L101.37 390.61 L102.02 391.21 L102.66 391.09 L103.3 389.99 L103.94 391.7 L104.58 391.1 L105.23 391.15 L105.87 392.76 L106.51 391.77 L107.15 390.99 L107.79 393.65 L108.44 392.53 L109.08 392.52 L109.72 393.2 L110.36 392.35 L111 392.91 L111.65 394.09 L112.29 392.5 L112.93 392.75 L113.57 392.66 L114.21 392.41 L114.86 393.34 L115.5 393.64 L116.14 394.81 L116.78 393.48 L117.42 394.51 L118.07 394.5 L118.71 395.21 L119.35 395.08 L119.99 394.85 L120.63 393.58 L121.28 396.17 L121.92 395.83 L122.56 394.64 L123.2 393.83 L123.84 394.56 L124.49 396.51 L125.13 397.05 L125.77 394.97 L126.41 395.88 L127.05 396.24 L127.7 394.74 L128.34 394.73 L128.98 395.51 L129.62 395.52 L130.26 395.45 L130.91 394.64 L131.55 395.45 L132.19 395.59 L132.83 395.63 L133.47 397.29 L134.12 395.21 L134.76 395.52 L135.4 395.9 L136.04 397.85 L136.68 396.9 L137.33 395.85 L137.97 397.9 L138.61 396.74 L139.25 395.89 L139.89 397.7 L140.54 395.56 L141.18 396.41 L141.82 396.99 L142.46 396.69 L143.1 396.5 L143.75 396.94 L144.39 396.23 L145.03 397.63 L145.67 397.5 L146.31 396.45 L146.96 397.26 L147.6 397.99 L148.24 396.66 L148.88 396.32 L149.52 397.8 L150.17 398.55 L150.81 397.66 L151.45 397.71 L152.09 397.86 L152.73 396.63 L153.38 398.5 L154.02 396.82 L154.66 398.76 L155.3 398.44 L155.94 397.41 L156.59 397.08 L157.23 397.32 L157.87 397.74 L158.51 397.93 L159.15 397.96 L159.8 397.68 L160.44 398.28 L161.08 397.97 L161.72 397.78 L162.36 398.25 L163.01 397.71 L163.65 397.89 L164.29 396.84 L164.93 398.14 L165.57 398.73 L166.22 398.73 L166.86 398.49 L167.5 397.81 L168.14 398.79 L168.78 398.28 L169.43 397.22 L170.07 400.55 L170.71 399.5 L171.35 398.5 L171.99 398.41 L172.64 398.56 L173.28 399.09 L173.92 398.3 L174.56 398.61 L175.2 399.24 L175.85 397.05 L176.49 398.63 L177.13 399.34 L177.77 399.02 L178.41 399.14 L179.06 399.04 L179.7 401.07 L180.34 399.41 L180.98 398.31 L181.62 399.97 L182.27 399.16 L182.91 398.42 L183.55 398.51" fill="none" stroke="#5a2466" stroke-width="1.3" stroke-linejoin="round"/>
<path d="M71.2 408.3 L71.68 405.53 L72.16 402.75 L72.64 399.98 L73.13 397.21 L73.61 394.44 L74.09 391.66 L74.57 388.89 L75.05 386.12 L75.53 383.34 L76.02 380.57 L76.5 377.8 L76.98 375.02 L77.46 372.25 L77.94 369.48 L78.42 366.71 L78.9 363.53 L79.39 361.62 L79.87 362.48 L80.35 365.68 L80.83 367.65 L81.47 368.81 L82.11 373.45 L82.76 370.85 L83.4 373.67 L84.04 372.12 L84.68 374.35 L85.32 373.06 L85.97 372.32 L86.61 373.68 L87.25 373.52 L87.89 373.1 L88.53 373.82 L89.18 374.15 L89.82 372.81 L90.46 373.36 L91.1 374.69 L91.74 372.07 L92.39 375.69 L93.03 373.95 L93.67 375.13 L94.31 374.88 L94.95 374.48 L95.6 375.03 L96.24 374.77 L96.88 376.83 L97.52 376.93 L98.16 375.13 L98.81 376.66 L99.45 376.83 L100.09 377.34 L100.73 374.98 L101.37 375.56 L102.02 375.02 L102.66 377.3 L103.3 376.56 L103.94 377.7 L104.58 376.09 L105.23 375.46 L105.87 377.8 L106.51 375.7 L107.15 376.32 L107.79 377.48 L108.44 379.2 L109.08 376.26 L109.72 377.72 L110.36 378.28 L111 377.48 L111.65 377.58 L112.29 376.7 L112.93 379.08 L113.57 377.24 L114.21 377.02 L114.86 377.16 L115.5 378.73 L116.14 379.34 L116.78 377.85 L117.42 378.77 L118.07 378.86 L118.71 377.79 L119.35 379.41 L119.99 381.35 L120.63 379.72 L121.28 381.14 L121.92 378.84 L122.56 379.39 L123.2 380.32 L123.84 379.88 L124.49 379.22 L125.13 379.99 L125.77 378.96 L126.41 380.31 L127.05 379.42 L127.7 379.11 L128.34 379.09 L128.98 381.25 L129.62 379.94 L130.26 382.52 L130.91 381.9 L131.55 382.79 L132.19 380.15 L132.83 382.32 L133.47 381.31 L134.12 381.57 L134.76 381.51 L135.4 382.11 L136.04 381.46 L136.68 380.15 L137.33 381.81 L137.97 381.46 L138.61 381.13 L139.25 382.3 L139.89 383.35 L140.54 382.8 L141.18 381.43 L141.82 383.97 L142.46 383.11 L143.1 381.75 L143.75 382.03 L144.39 382.83 L145.03 382.2 L145.67 382.86 L146.31 384.16 L146.96 384.6 L147.6 383.85 L148.24 382.53 L148.88 383.95 L149.52 384.34 L150.17 384.31 L150.81 385.08 L151.45 383.89 L152.09 384.93 L152.73 383.63 L153.38 386.17 L154.02 383.83 L154.66 384.78 L155.3 386.04 L155.94 383.72 L156.59 384.7 L157.23 386.55 L157.87 385.41 L158.51 384.44 L159.15 385.19 L159.8 384.16 L160.44 384.27 L161.08 384.42 L161.72 384.81 L162.36 383.98 L163.01 384.67 L163.65 384.94 L164.29 387.3 L164.93 384.69 L165.57 384.4 L166.22 385.93 L166.86 386.16 L167.5 384.07 L168.14 387.48 L168.78 385.55 L169.43 383.86 L170.07 386.96 L170.71 385.58 L171.35 384.58 L171.99 386.46 L172.64 385.92 L173.28 385.69 L173.92 387.4 L174.56 386.74 L175.2 386.47 L175.85 386.06 L176.49 386.91 L177.13 387.13 L177.77 387.94 L178.41 387.43 L179.06 386.37 L179.7 387.16 L180.34 388.09 L180.98 388.15 L181.62 385.06 L182.27 386.51 L182.91 387.04 L183.55 390.02" fill="none" stroke="#3db54a" stroke-width="1.3" stroke-linejoin="round"/>
<path d="M71.2 408.3 L71.68 405.51 L72.16 402.74 L72.64 400.01 L73.13 397.3 L73.61 394.61 L74.09 391.96 L74.57 389.33 L75.05 386.72 L75.53 384.15 L76.02 381.6 L76.5 379.08 L76.98 376.58 L77.46 374.11 L77.94 371.67 L78.42 369.25 L78.9 366.72 L79.39 364.39 L79.87 361.79 L80.35 360.14 L80.83 360.26 L81.47 359.86 L82.11 361.72 L82.76 359.49 L83.4 360.03 L84.04 360.81 L84.68 359.3 L85.32 358.94 L85.97 361.36 L86.61 360.82 L87.25 360.11 L87.89 360.2 L88.53 360.64 L89.18 361.08 L89.82 358.77 L90.46 359.59 L91.1 361.27 L91.74 361.4 L92.39 359.12 L93.03 359.66 L93.67 359.04 L94.31 359.81 L94.95 361.08 L95.6 360.24 L96.24 362.07 L96.88 361.02 L97.52 360.51 L98.16 360.08 L98.81 361.03 L99.45 360.58 L100.09 360.15 L100.73 360.22 L101.37 360.03 L102.02 360.36 L102.66 360.77 L103.3 359.95 L103.94 360.51 L104.58 361.18 L105.23 361.03 L105.87 360.57 L106.51 360.66 L107.15 360.47 L107.79 360.6 L108.44 360.47 L109.08 360.71 L109.72 361.57 L110.36 360.31 L111 359.85 L111.65 360.32 L112.29 360.8 L112.93 360.33 L113.57 361.4 L114.21 362.11 L114.86 360.65 L115.5 361.4 L116.14 360.15 L116.78 361.53 L117.42 362.7 L118.07 361.51 L118.71 359.56 L119.35 361.04 L119.99 361.79 L120.63 361.34 L121.28 360.38 L121.92 360.41 L122.56 360.66 L123.2 359.69 L123.84 360.28 L124.49 360.83 L125.13 360.38 L125.77 359.59 L126.41 360.11 L127.05 360.08 L127.7 361.67 L128.34 360.98 L128.98 360.33 L129.62 361.11 L130.26 360.09 L130.91 360.45 L131.55 360.23 L132.19 361.08 L132.83 359.01 L133.47 360 L134.12 361.11 L134.76 360.88 L135.4 359.01 L136.04 361.23 L136.68 360.32 L137.33 360.25 L137.97 360.99 L138.61 361.88 L139.25 360.87 L139.89 360.75 L140.54 360.18 L141.18 360.45 L141.82 361.03 L142.46 360.41 L143.1 360.66 L143.75 360.92 L144.39 361.04 L145.03 361.27 L145.67 360.58 L146.31 361.9 L146.96 361.58 L147.6 361.12 L148.24 362.23 L148.88 361.47 L149.52 362.65 L150.17 361.67 L150.81 360.74 L151.45 360.75 L152.09 361.22 L152.73 361.36 L153.38 362.26 L154.02 359.83 L154.66 360.83 L155.3 360.4 L155.94 361.89 L156.59 361.38 L157.23 362.61 L157.87 360.67 L158.51 360.56 L159.15 362.7 L159.8 361.32 L160.44 360.82 L161.08 362.62 L161.72 362.68 L162.36 362.12 L163.01 361.8 L163.65 362.39 L164.29 361.32 L164.93 361.16 L165.57 360.88 L166.22 360.84 L166.86 360.25 L167.5 360.51 L168.14 362.38 L168.78 361.78 L169.43 362.2 L170.07 362.23 L170.71 361.49 L171.35 361.43 L171.99 361.07 L172.64 362.64 L173.28 362.39 L173.92 361.48 L174.56 361.63 L175.2 361.72 L175.85 361.54 L176.49 362.07 L177.13 360.98 L177.77 361.25 L178.41 361.59 L179.06 362.04 L179.7 361.67 L180.34 363.6 L180.98 362.3 L181.62 361.54 L182.27 362.71 L182.91 361.44 L183.55 361.48" fill="none" stroke="#115288" stroke-width="1.3" stroke-linejoin="round"/>
<path d="M71.2 408.3 L71.68 401.25 L72.16 394.52 L72.64 388.11 L73.13 382.03 L73.61 376.26 L74.09 370.81 L74.57 365.68 L75.05 360.88 L75.53 356.39 L76.02 352.23 L76.5 348.38 L76.98 344.86 L77.46 341.65 L77.94 338.77 L78.42 335.08 L78.9 335.39 L79.39 335.14 L79.87 335.16 L80.35 334.99 L80.83 334.96 L81.47 335.13 L82.11 335.75 L82.76 335.22 L83.4 335.17 L84.04 334.57 L84.68 334.91 L85.32 335.68 L85.97 336.16 L86.61 335.43 L87.25 335.71 L87.89 335.99 L88.53 335.25 L89.18 335.54 L89.82 335.1 L90.46 334.79 L91.1 335.5 L91.74 333.45 L92.39 335.44 L93.03 334.38 L93.67 335.12 L94.31 334.38 L94.95 337 L95.6 335.79 L96.24 335.05 L96.88 334.78 L97.52 333.49 L98.16 335.01 L98.81 334.29 L99.45 334.68 L100.09 334.55 L100.73 334.89 L101.37 335.39 L102.02 334.9 L102.66 336.1 L103.3 334.41 L103.94 336.06 L104.58 335.12 L105.23 333.72 L105.87 335.48 L106.51 335.31 L107.15 334.45 L107.79 335.31 L108.44 335.94 L109.08 335.15 L109.72 334.91 L110.36 334.82 L111 335.94 L111.65 334.05 L112.29 334.12 L112.93 335.36 L113.57 335.18 L114.21 335.71 L114.86 334.33 L115.5 335.93 L116.14 334.9 L116.78 335.77 L117.42 335.94 L118.07 334.88 L118.71 334.42 L119.35 335.44 L119.99 335.95 L120.63 334.83 L121.28 335.48 L121.92 335.22 L122.56 334.32 L123.2 334.61 L123.84 335.86 L124.49 333.76 L125.13 335.48 L125.77 334.9 L126.41 335.98 L127.05 335.53 L127.7 336.82 L128.34 334.17 L128.98 334.49 L129.62 336.43 L130.26 336.66 L130.91 336.75 L131.55 334.65 L132.19 335.89 L132.83 335.59 L133.47 335.79 L134.12 335.65 L134.76 336.38 L135.4 335.55 L136.04 336.66 L136.68 335.63 L137.33 335.35 L137.97 335.24 L138.61 335.77 L139.25 336.28 L139.89 335.49 L140.54 335.98 L141.18 334.44 L141.82 335.05 L142.46 335.72 L143.1 335.99 L143.75 336.17 L144.39 336.35 L145.03 335.92 L145.67 335.44 L146.31 335.28 L146.96 335.24 L147.6 334.1 L148.24 336.21 L148.88 335.68 L149.52 333.59 L150.17 337.1 L150.81 336.09 L151.45 335.58 L152.09 335.6 L152.73 335.41 L153.38 335.9 L154.02 335.46 L154.66 335.7 L155.3 335.16 L155.94 337.17 L156.59 336.42 L157.23 335.76 L157.87 336.54 L158.51 336.55 L159.15 335.3 L159.8 336.27 L160.44 335.31 L161.08 335.23 L161.72 335.57 L162.36 335.42 L163.01 335.89 L163.65 336.87 L164.29 335.84 L164.93 335.48 L165.57 336.23 L166.22 335.91 L166.86 335.28 L167.5 336.51 L168.14 335.37 L168.78 334.46 L169.43 336.28 L170.07 335.76 L170.71 335.99 L171.35 334.72 L171.99 335.65 L172.64 335.22 L173.28 336.42 L173.92 335.91 L174.56 335.92 L175.2 337.25 L175.85 334.84 L176.49 335.25 L177.13 337.24 L177.77 335.38 L178.41 336.04 L179.06 335.61 L179.7 335.68 L180.34 337.08 L180.98 336.12 L181.62 334.85 L182.27 336.41 L182.91 336.75 L183.55 337.01" fill="none" stroke="#c4202f" stroke-width="1.3" stroke-linejoin="round"/>
<path d="M63.18 408.7 L63.82 406.95 L64.46 405.42 L65.1 406.84 L65.74 407.05 L66.39 404.81 L67.03 407.91 L67.67 408.08 L68.31 406.73 L68.95 406.71 L69.59 408.47 L70.24 408.64 L70.88 407 L71.52 407.05 L72.16 408.8 L72.81 407.55 L73.45 407.94 L74.09 406.81 L74.73 407.46 L75.37 407.42 L76.02 407.72 L76.66 406.14 L77.3 405.76 L77.94 407.74 L78.58 406.37 L79.23 408.18 L79.87 407.24 L80.51 406.48 L81.15 405.62 L81.79 407.75 L82.44 407.41 L83.08 407.1 L83.72 409.01 L84.36 407.31 L85 408.09 L85.65 406.91 L86.29 408.6 L86.93 409.55 L87.57 407.28 L88.21 407.03 L88.86 407.94 L89.5 406.32 L90.14 407.63 L90.78 408.01 L91.42 406.79 L92.06 409.09 L92.71 408.09 L93.35 407.35 L93.99 406.37 L94.63 407.51 L95.28 406.98 L95.92 408.06 L96.56 406.98 L97.2 405.45 L97.84 408.1 L98.48 404.66 L99.13 408.05 L99.77 407.3 L100.41 407.13 L101.05 406.17 L101.7 408.72 L102.34 409.69 L102.98 406.64 L103.62 406.43 L104.26 406.62 L104.91 404.36 L105.55 407.09 L106.19 407.04 L106.83 406.28 L107.47 406.91 L108.12 405.45 L108.76 408.72 L109.4 407.75 L110.04 411.2 L110.68 406.41 L111.33 407.74 L111.97 406.28 L112.61 404.9 L113.25 407.33 L113.89 407.61 L114.53 407.89 L115.18 408.27 L115.82 408.03 L116.46 406.6 L117.1 407.28 L117.75 407.25 L118.39 407.52 L119.03 406.29 L119.67 406.77 L120.31 407.48 L120.96 406.57 L121.6 407.49 L122.24 408.62 L122.88 405.68 L123.52 406.8 L124.17 408.4 L124.81 406.11 L125.45 406.94 L126.09 409.09 L126.73 405.51 L127.38 406.95 L128.02 406.32 L128.66 407.1 L129.3 407.49 L129.94 409.07 L130.59 406.23 L131.23 407.29 L131.87 407.65 L132.51 406.93 L133.15 407.24 L133.8 406.56 L134.44 407.74 L135.08 407.36 L135.72 409.73 L136.36 407.8 L137 406.56 L137.65 405.82 L138.29 407.73 L138.93 407.46 L139.57 405.54 L140.22 407.69 L140.86 406.5 L141.5 405.43 L142.14 407.28 L142.78 405.94 L143.43 408.12 L144.07 407.09 L144.71 407.41 L145.35 407.19 L145.99 406.05 L146.63 404.63 L147.28 408.07 L147.92 407.97 L148.56 406.76 L149.2 408.51 L149.84 406.76 L150.49 406.68 L151.13 407.64 L151.77 406.73 L152.41 409.07 L153.06 406.47 L153.7 409.06 L154.34 408.11 L154.98 407.95 L155.62 407.78 L156.26 406.36 L156.91 407.23 L157.55 407.77 L158.19 406.71 L158.83 405.54 L159.48 407.32 L160.12 406.91 L160.76 405.93 L161.4 407.02 L162.04 408.77 L162.69 404.52 L163.33 404.84 L163.97 409.56 L164.61 407.37 L165.25 406.85 L165.9 406.24 L166.54 406.57 L167.18 407.63 L167.82 408.51 L168.46 407.21 L169.11 406.16 L169.75 408.55 L170.39 408.48 L171.03 407.35 L171.67 409.51 L172.31 407.62 L172.96 407.82 L173.6 406.82 L174.24 408.11 L174.88 408.32 L175.53 407.77 L176.17 407.38 L176.81 408.07 L177.45 407.31 L178.09 406.48 L178.74 405.99 L179.38 405.4 L180.02 408.21 L180.66 407.8 L181.3 410.12 L181.94 405.18 L182.59 408.14" fill="none" stroke="#f7941d" stroke-width="1.2" stroke-linejoin="round"/>
<text x="188.8" y="334.3" font-size="7.2" textLength="44" lengthAdjust="spacingAndGlyphs" fill="#231f20" stroke="#231f20" stroke-width="0.06">anti-PECAM-1</text>
<text x="188.8" y="342.8" font-size="7.2" textLength="43" lengthAdjust="spacingAndGlyphs" fill="#231f20" stroke="#231f20" stroke-width="0.06">(domain 5+6)</text>
<text x="188.8" y="361.4" font-size="7.2" textLength="44" lengthAdjust="spacingAndGlyphs" fill="#231f20" stroke="#231f20" stroke-width="0.06">anti-PECAM-1</text>
<text x="188.8" y="369.9" font-size="7.2" textLength="43" lengthAdjust="spacingAndGlyphs" fill="#231f20" stroke="#231f20" stroke-width="0.06">(domain 1+2)</text>
<text x="188.8" y="390.3" font-size="7.2" textLength="42.7" lengthAdjust="spacingAndGlyphs" fill="#231f20" stroke="#231f20" stroke-width="0.06">nCD177/PR3</text>
<text x="188.8" y="402.5" font-size="7.2" textLength="15.2" lengthAdjust="spacingAndGlyphs" fill="#231f20" stroke="#231f20" stroke-width="0.06">rPR3</text>
<text x="188.8" y="411.1" font-size="7.2" textLength="24.7" lengthAdjust="spacingAndGlyphs" fill="#231f20" stroke="#231f20" stroke-width="0.06">rCD177</text>
<line x1="55.4" y1="452.2" x2="55.4" y2="525.4" stroke="#222" stroke-width="1.4"/>
<line x1="51.6" y1="452.5" x2="55.4" y2="452.5" stroke="#222" stroke-width="1.1"/>
<text x="48.8" y="454.6" font-size="7.3" text-anchor="end" fill="#231f20" stroke="#231f20" stroke-width="0.06">250.00</text>
<line x1="51.6" y1="464.5" x2="55.4" y2="464.5" stroke="#222" stroke-width="1.1"/>
<text x="48.8" y="466.82" font-size="7.3" text-anchor="end" fill="#231f20" stroke="#231f20" stroke-width="0.06">200.00</text>
<line x1="51.6" y1="476.5" x2="55.4" y2="476.5" stroke="#222" stroke-width="1.1"/>
<text x="48.8" y="479.04" font-size="7.3" text-anchor="end" fill="#231f20" stroke="#231f20" stroke-width="0.06">150.00</text>
<line x1="51.6" y1="488.5" x2="55.4" y2="488.5" stroke="#222" stroke-width="1.1"/>
<text x="48.8" y="491.26" font-size="7.3" text-anchor="end" fill="#231f20" stroke="#231f20" stroke-width="0.06">100.00</text>
<line x1="51.6" y1="501.5" x2="55.4" y2="501.5" stroke="#222" stroke-width="1.1"/>
<text x="48.8" y="503.48" font-size="7.3" text-anchor="end" fill="#231f20" stroke="#231f20" stroke-width="0.06">50.00</text>
<line x1="51.6" y1="513.5" x2="55.4" y2="513.5" stroke="#222" stroke-width="1.1"/>
<text x="48.8" y="515.7" font-size="7.3" text-anchor="end" fill="#231f20" stroke="#231f20" stroke-width="0.06">0.00</text>
<line x1="51.6" y1="525.5" x2="55.4" y2="525.5" stroke="#222" stroke-width="1.1"/>
<text x="48.8" y="527.92" font-size="7.3" text-anchor="end" fill="#231f20" stroke="#231f20" stroke-width="0.06">-50.00</text>
<line x1="55.4" y1="525.4" x2="183.5" y2="525.4" stroke="#222" stroke-width="1.4"/>
<line x1="55.5" y1="525.4" x2="55.5" y2="528.6" stroke="#222" stroke-width="1.1"/>
<text x="55.4" y="535.5" font-size="6.8" text-anchor="middle" textLength="7.8" lengthAdjust="spacingAndGlyphs" fill="#231f20" stroke="#231f20" stroke-width="0.2">0.00</text>
<line x1="69.5" y1="525.4" x2="69.5" y2="528.6" stroke="#222" stroke-width="1.1"/>
<text x="69.63" y="535.5" font-size="6.8" text-anchor="middle" textLength="12" lengthAdjust="spacingAndGlyphs" fill="#231f20" stroke="#231f20" stroke-width="0.2">100.00</text>
<line x1="83.5" y1="525.4" x2="83.5" y2="528.6" stroke="#222" stroke-width="1.1"/>
<text x="83.86" y="535.5" font-size="6.8" text-anchor="middle" textLength="12" lengthAdjust="spacingAndGlyphs" fill="#231f20" stroke="#231f20" stroke-width="0.2">200.00</text>
<line x1="98.5" y1="525.4" x2="98.5" y2="528.6" stroke="#222" stroke-width="1.1"/>
<text x="98.09" y="535.5" font-size="6.8" text-anchor="middle" textLength="12" lengthAdjust="spacingAndGlyphs" fill="#231f20" stroke="#231f20" stroke-width="0.2">300.00</text>
<line x1="112.5" y1="525.4" x2="112.5" y2="528.6" stroke="#222" stroke-width="1.1"/>
<text x="112.32" y="535.5" font-size="6.8" text-anchor="middle" textLength="12" lengthAdjust="spacingAndGlyphs" fill="#231f20" stroke="#231f20" stroke-width="0.2">400.00</text>
<line x1="126.5" y1="525.4" x2="126.5" y2="528.6" stroke="#222" stroke-width="1.1"/>
<text x="126.55" y="535.5" font-size="6.8" text-anchor="middle" textLength="12" lengthAdjust="spacingAndGlyphs" fill="#231f20" stroke="#231f20" stroke-width="0.2">500.00</text>
<line x1="140.5" y1="525.4" x2="140.5" y2="528.6" stroke="#222" stroke-width="1.1"/>
<text x="140.78" y="535.5" font-size="6.8" text-anchor="middle" textLength="12" lengthAdjust="spacingAndGlyphs" fill="#231f20" stroke="#231f20" stroke-width="0.2">600.00</text>
<line x1="155.5" y1="525.4" x2="155.5" y2="528.6" stroke="#222" stroke-width="1.1"/>
<text x="155.01" y="535.5" font-size="6.8" text-anchor="middle" textLength="12" lengthAdjust="spacingAndGlyphs" fill="#231f20" stroke="#231f20" stroke-width="0.2">700.00</text>
<line x1="169.5" y1="525.4" x2="169.5" y2="528.6" stroke="#222" stroke-width="1.1"/>
<text x="169.24" y="535.5" font-size="6.8" text-anchor="middle" textLength="12" lengthAdjust="spacingAndGlyphs" fill="#231f20" stroke="#231f20" stroke-width="0.2">800.00</text>
<line x1="183.5" y1="525.4" x2="183.5" y2="528.6" stroke="#222" stroke-width="1.1"/>
<text x="183.47" y="535.5" font-size="6.8" text-anchor="middle" textLength="12" lengthAdjust="spacingAndGlyphs" fill="#231f20" stroke="#231f20" stroke-width="0.2">900.00</text>
<text x="127.5" y="547.3" font-size="9" text-anchor="middle" textLength="30.8" lengthAdjust="spacingAndGlyphs" fill="#231f20" stroke="#231f20" stroke-width="0.2">Time (sec)</text>
<text transform="translate(16.8 488.5) rotate(-90)" x="0" y="2.75" font-size="8" text-anchor="middle" textLength="59.3" lengthAdjust="spacingAndGlyphs" fill="#231f20" stroke="#231f20" stroke-width="0.06">Response units (RU)</text>
<text x="90.8" y="468" font-size="7.2" font-weight="bold" textLength="14.6" lengthAdjust="spacingAndGlyphs" fill="#231f20" stroke="#231f20" stroke-width="0.06">PR3</text>
<text x="150" y="459.5" font-size="6.6" textLength="48.2" lengthAdjust="spacingAndGlyphs" fill="#231f20" stroke="#231f20" stroke-width="0.06">ka:1.51E+05 1/Ms</text>
<text x="150" y="469.6" font-size="6.6" textLength="40.8" lengthAdjust="spacingAndGlyphs" fill="#231f20" stroke="#231f20" stroke-width="0.06">kd:7.55E-03 1/s</text>
<text x="150" y="490.2" font-size="6.6" textLength="42.3" lengthAdjust="spacingAndGlyphs" fill="#231f20" stroke="#231f20" stroke-width="0.06">KD:4.98E-08 M</text>
<line x1="150" y1="491.5" x2="192.3" y2="491.5" stroke="#333" stroke-width="0.6"/>
<path d="M51.42 513.3 L62.23 513.3 L62.66 512.32 L63.08 511.42 L63.51 510.59 L63.94 509.82 L64.36 509.12 L64.79 508.47 L65.22 507.88 L65.65 507.33 L66.07 506.82 L66.5 506.36 L66.93 505.93 L67.35 505.54 L67.78 505.18 L68.21 504.85 L68.63 504.54 L69.06 504.26 L69.49 504 L69.91 503.76 L70.34 503.54 L70.77 503.34 L71.2 503.15 L71.62 503.1 L72.05 503.29 L72.48 503.47 L72.9 503.65 L73.33 503.83 L73.76 504.01 L74.18 504.19 L75.04 504.53 L75.89 504.87 L76.75 505.2 L77.6 505.52 L78.45 505.83 L79.31 506.14 L80.16 506.44 L81.01 506.73 L81.87 507.01 L82.72 507.29 L83.58 507.55 L84.43 507.82 L85.28 508.07 L86.14 508.32 L86.99 508.57 L87.84 508.8 L88.7 509.04 L89.55 509.26 L90.41 509.48 L91.26 509.7 L92.11 509.91 L92.97 510.11 L93.82 510.31 L94.67 510.5 L95.53 510.69 L96.38 510.88 L97.24 511.06 L98.09 511.24 L98.94 511.41 L99.8 511.58 L100.65 511.74 L101.51 511.9 L102.36 512.05 L103.21 512.2 L104.07 512.35 L104.92 512.5 L105.77 512.64 L106.63 512.77 L107.48 512.91 L108.34 513.04 L109.19 513.17 L110.04 513.29 L110.9 513.41 L111.75 513.53 L112.6 513.67 L113.46 513.31 L114.31 515.03 L115.17 513.57 L116.02 514.1 L116.87 515.74 L117.73 514.03 L118.58 513.35 L119.44 516.06 L120.29 513.87 L121.14 514.47 L122 514.33 L122.85 514.44 L123.7 513.79 L124.56 515.18 L125.41 514.32 L126.27 515.49 L127.12 514.59 L127.97 515.99 L128.83 515.45 L129.68 513.95 L130.53 515.12 L131.39 515.7 L132.24 516.61 L133.1 516.37 L133.95 515.59 L134.8 515.01 L135.66 515.51 L136.51 515.48 L137.36 516.02 L138.22 514.88 L139.07 516.43 L139.93 516.62 L140.78 515.44 L141.63 516.19 L142.49 516.53 L143.34 516.83 L144.2 516.61 L145.05 515.9 L145.9 516.17 L146.76 517.55 L147.61 516.19 L148.46 516.44 L149.32 517.49 L150.17 516.01 L151.03 516.95 L151.88 517.04 L152.73 516.1 L153.59 515.69 L154.44 517.44 L155.29 516.51 L156.15 517.67 L157 514.97 L157.86 517.4 L158.71 515.99 L159.56 517.59 L160.42 516.37 L161.27 515.2 L162.12 519.3 L162.98 517.52 L163.83 516.75 L164.69 517.28 L165.54 517.8 L166.39 515.41 L167.25 517.2 L168.1 518.7 L168.96 516.58 L169.81 518.81 L170.66 516.37 L171.52 517.87 L172.37 517.27 L173.22 516.34" fill="none" stroke="#fbc08a" stroke-width="0.8" stroke-linejoin="round"/>
<path d="M51.42 513.3 L62.23 513.3 L62.66 511.62 L63.08 510.07 L63.51 508.65 L63.94 507.34 L64.36 506.13 L64.79 505.02 L65.22 504 L65.65 503.06 L66.07 502.2 L66.5 501.4 L66.93 500.67 L67.35 500 L67.78 499.38 L68.21 498.81 L68.63 498.28 L69.06 497.8 L69.49 497.35 L69.91 496.94 L70.34 496.57 L70.77 496.22 L71.2 495.9 L71.62 495.81 L72.05 496.11 L72.48 496.41 L72.9 496.7 L73.33 496.99 L73.76 497.28 L74.18 497.56 L75.04 498.12 L75.89 498.66 L76.75 499.18 L77.6 499.7 L78.45 500.19 L79.31 500.68 L80.16 501.15 L81.01 501.61 L81.87 502.05 L82.72 502.49 L83.58 502.91 L84.43 503.32 L85.28 503.72 L86.14 504.11 L86.99 504.49 L87.84 504.86 L88.7 505.22 L89.55 505.56 L90.41 505.9 L91.26 506.23 L92.11 506.56 L92.97 506.87 L93.82 507.17 L94.67 507.47 L95.53 507.76 L96.38 508.04 L97.24 508.31 L98.09 508.58 L98.94 508.84 L99.8 509.09 L100.65 509.33 L101.51 509.57 L102.36 509.8 L103.21 510.03 L104.07 510.25 L104.92 510.46 L105.77 510.67 L106.63 510.87 L107.48 511.07 L108.34 511.26 L109.19 511.45 L110.04 511.63 L110.9 511.8 L111.75 511.98 L112.6 512.04 L113.46 513.5 L114.31 513.91 L115.17 511.61 L116.02 512.13 L116.87 513.61 L117.73 512.32 L118.58 512.77 L119.44 512.77 L120.29 515.39 L121.14 513.84 L122 512.94 L122.85 513.2 L123.7 513.19 L124.56 516.16 L125.41 514.03 L126.27 513.86 L127.12 512.2 L127.97 515.3 L128.83 514.87 L129.68 514.65 L130.53 514.02 L131.39 515.25 L132.24 513.98 L133.1 515.72 L133.95 514.9 L134.8 515.66 L135.66 515.16 L136.51 515.96 L137.36 516.81 L138.22 514.59 L139.07 515.33 L139.93 516.14 L140.78 515.56 L141.63 514.95 L142.49 516.7 L143.34 516.02 L144.2 515.52 L145.05 515.59 L145.9 516.39 L146.76 517.96 L147.61 515.15 L148.46 515.98 L149.32 516.31 L150.17 516.61 L151.03 516.19 L151.88 516.83 L152.73 517.39 L153.59 517.19 L154.44 517.11 L155.29 517.17 L156.15 517.67 L157 516.18 L157.86 517.88 L158.71 516.24 L159.56 517.71 L160.42 516.57 L161.27 515.74 L162.12 516.77 L162.98 517.6 L163.83 516.97 L164.69 516.92 L165.54 518.56 L166.39 517.62 L167.25 516.99 L168.1 517.56 L168.96 517.12 L169.81 516.59 L170.66 516.59 L171.52 516.49 L172.37 516.79 L173.22 517.56" fill="none" stroke="#a88bb5" stroke-width="0.8" stroke-linejoin="round"/>
<path d="M51.42 513.3 L62.23 513.3 L62.66 511.32 L63.08 509.49 L63.51 507.81 L63.94 506.26 L64.36 504.84 L64.79 503.53 L65.22 502.33 L65.65 501.22 L66.07 500.2 L66.5 499.26 L66.93 498.39 L67.35 497.6 L67.78 496.86 L68.21 496.19 L68.63 495.57 L69.06 495 L69.49 494.47 L69.91 493.99 L70.34 493.55 L70.77 493.14 L71.2 492.76 L71.62 492.65 L72.05 493 L72.48 493.35 L72.9 493.69 L73.33 494.03 L73.76 494.37 L74.18 494.7 L75.04 495.34 L75.89 495.97 L76.75 496.58 L77.6 497.18 L78.45 497.76 L79.31 498.32 L80.16 498.87 L81.01 499.4 L81.87 499.91 L82.72 500.42 L83.58 500.91 L84.43 501.38 L85.28 501.84 L86.14 502.29 L86.99 502.73 L87.84 503.16 L88.7 503.57 L89.55 503.97 L90.41 504.36 L91.26 504.74 L92.11 505.11 L92.97 505.47 L93.82 505.82 L94.67 506.16 L95.53 506.5 L96.38 506.82 L97.24 507.13 L98.09 507.43 L98.94 507.73 L99.8 508.02 L100.65 508.3 L101.51 508.57 L102.36 508.83 L103.21 509.09 L104.07 509.34 L104.92 509.59 L105.77 509.82 L106.63 510.05 L107.48 510.28 L108.34 510.49 L109.19 510.71 L110.04 510.91 L110.9 511.11 L111.75 511.31 L112.6 511.51 L113.46 511.91 L114.31 512.13 L115.17 512.19 L116.02 513.68 L116.87 512.65 L117.73 512.55 L118.58 513.52 L119.44 512.86 L120.29 512.54 L121.14 513.27 L122 511.49 L122.85 515.63 L123.7 513.71 L124.56 515.22 L125.41 512.95 L126.27 511.64 L127.12 516.16 L127.97 514.03 L128.83 513.81 L129.68 514.62 L130.53 513.99 L131.39 516.49 L132.24 513.94 L133.1 514.44 L133.95 514.84 L134.8 515.45 L135.66 514.49 L136.51 515.54 L137.36 515.02 L138.22 515.73 L139.07 517.29 L139.93 515.48 L140.78 515.35 L141.63 514.95 L142.49 516.42 L143.34 515.77 L144.2 515.28 L145.05 515.75 L145.9 514.87 L146.76 514.29 L147.61 516.83 L148.46 517.76 L149.32 515.44 L150.17 514.92 L151.03 515.49 L151.88 515.64 L152.73 516.91 L153.59 517.05 L154.44 515.72 L155.29 517.31 L156.15 518.13 L157 517.47 L157.86 514.53 L158.71 515.06 L159.56 517.33 L160.42 517.41 L161.27 516.63 L162.12 517.5 L162.98 515.78 L163.83 517 L164.69 517.9 L165.54 515.88 L166.39 517.53 L167.25 516.88 L168.1 517.11 L168.96 517.4 L169.81 516.88 L170.66 517.78 L171.52 518.79 L172.37 519.13 L173.22 518.35" fill="none" stroke="#9ed9a4" stroke-width="0.8" stroke-linejoin="round"/>
<path d="M51.42 513.3 L62.23 513.3 L62.66 509.45 L63.08 505.9 L63.51 502.64 L63.94 499.64 L64.36 496.88 L64.79 494.34 L65.22 492 L65.65 489.84 L66.07 487.86 L66.5 486.04 L66.93 484.36 L67.35 482.82 L67.78 481.39 L68.21 480.09 L68.63 478.88 L69.06 477.78 L69.49 476.76 L69.91 475.82 L70.34 474.95 L70.77 474.16 L71.2 473.43 L71.62 473.17 L72.05 473.75 L72.48 474.33 L72.9 474.9 L73.33 475.46 L73.76 476.01 L74.18 476.56 L75.04 477.63 L75.89 478.68 L76.75 479.69 L77.6 480.68 L78.45 481.65 L79.31 482.59 L80.16 483.51 L81.01 484.4 L81.87 485.27 L82.72 486.12 L83.58 486.94 L84.43 487.75 L85.28 488.53 L86.14 489.3 L86.99 490.04 L87.84 490.76 L88.7 491.47 L89.55 492.16 L90.41 492.83 L91.26 493.48 L92.11 494.12 L92.97 494.74 L93.82 495.34 L94.67 495.93 L95.53 496.5 L96.38 497.06 L97.24 497.61 L98.09 498.14 L98.94 498.65 L99.8 499.15 L100.65 499.64 L101.51 500.12 L102.36 500.59 L103.21 501.04 L104.07 501.48 L104.92 501.91 L105.77 502.33 L106.63 502.74 L107.48 503.14 L108.34 503.53 L109.19 503.9 L110.04 504.27 L110.9 504.63 L111.75 504.98 L112.6 505.97 L113.46 505.67 L114.31 505.93 L115.17 505.81 L116.02 506.49 L116.87 507.57 L117.73 507.79 L118.58 509.28 L119.44 507.89 L120.29 507.6 L121.14 507.82 L122 508.63 L122.85 508.93 L123.7 508.22 L124.56 509.24 L125.41 508.85 L126.27 509.21 L127.12 509.75 L127.97 509.02 L128.83 510.84 L129.68 510.86 L130.53 511.44 L131.39 511.62 L132.24 509.79 L133.1 509.8 L133.95 511.46 L134.8 511.17 L135.66 510.82 L136.51 511.3 L137.36 511.12 L138.22 513.38 L139.07 513 L139.93 512.22 L140.78 511.52 L141.63 512.8 L142.49 513.76 L143.34 513.46 L144.2 513.85 L145.05 514.15 L145.9 512.25 L146.76 514.19 L147.61 513.75 L148.46 512.04 L149.32 512.98 L150.17 513.82 L151.03 514.73 L151.88 513.96 L152.73 513.02 L153.59 513.98 L154.44 513.52 L155.29 514.61 L156.15 514.34 L157 515.05 L157.86 514.59 L158.71 513.93 L159.56 516.35 L160.42 515.26 L161.27 515.07 L162.12 515.84 L162.98 515.69 L163.83 514.82 L164.69 513.85 L165.54 515.1 L166.39 515.42 L167.25 517.09 L168.1 514.18 L168.96 515.82 L169.81 515.98 L170.66 516.96 L171.52 516.11 L172.37 517.05 L173.22 516.11" fill="none" stroke="#7fa3c8" stroke-width="0.8" stroke-linejoin="round"/>
<path d="M51.42 513.3 L62.23 513.3 L62.66 508.44 L63.08 503.98 L63.51 499.86 L63.94 496.08 L64.36 492.6 L64.79 489.39 L65.22 486.44 L65.65 483.73 L66.07 481.23 L66.5 478.93 L66.93 476.82 L67.35 474.87 L67.78 473.08 L68.21 471.43 L68.63 469.91 L69.06 468.52 L69.49 467.23 L69.91 466.05 L70.34 464.96 L70.77 463.96 L71.2 463.04 L71.62 462.7 L72.05 463.41 L72.48 464.1 L72.9 464.79 L73.33 465.46 L73.76 466.13 L74.18 466.79 L75.04 468.09 L75.89 469.35 L76.75 470.58 L77.6 471.78 L78.45 472.95 L79.31 474.09 L80.16 475.2 L81.01 476.29 L81.87 477.34 L82.72 478.37 L83.58 479.38 L84.43 480.36 L85.28 481.31 L86.14 482.24 L86.99 483.15 L87.84 484.03 L88.7 484.89 L89.55 485.73 L90.41 486.55 L91.26 487.35 L92.11 488.12 L92.97 488.88 L93.82 489.62 L94.67 490.34 L95.53 491.04 L96.38 491.73 L97.24 492.39 L98.09 493.04 L98.94 493.68 L99.8 494.29 L100.65 494.9 L101.51 495.48 L102.36 496.06 L103.21 496.61 L104.07 497.16 L104.92 497.69 L105.77 498.21 L106.63 498.71 L107.48 499.2 L108.34 499.68 L109.19 500.15 L110.04 500.6 L110.9 501.04 L111.75 501.48 L112.6 501.5 L113.46 502.28 L114.31 502.47 L115.17 503.83 L116.02 502.26 L116.87 504.41 L117.73 505.77 L118.58 504.72 L119.44 505.56 L120.29 506.11 L121.14 505.87 L122 505.64 L122.85 507.21 L123.7 506.62 L124.56 505.57 L125.41 506.5 L126.27 507.49 L127.12 507.52 L127.97 508 L128.83 508.2 L129.68 507.79 L130.53 508.74 L131.39 510.96 L132.24 509.15 L133.1 510.12 L133.95 509.03 L134.8 510.32 L135.66 509.88 L136.51 508.36 L137.36 511.31 L138.22 511.58 L139.07 512.01 L139.93 513.04 L140.78 512.78 L141.63 511.04 L142.49 512.07 L143.34 513.29 L144.2 513.12 L145.05 511.49 L145.9 512.83 L146.76 512.63 L147.61 512.19 L148.46 511.45 L149.32 511.09 L150.17 512.01 L151.03 512.9 L151.88 513 L152.73 511.74 L153.59 512.18 L154.44 513.79 L155.29 513.25 L156.15 513.51 L157 513.82 L157.86 514.41 L158.71 515.22 L159.56 514.64 L160.42 515.61 L161.27 513.34 L162.12 514.02 L162.98 515.61 L163.83 513.47 L164.69 513.99 L165.54 516.48 L166.39 513.35 L167.25 514.32 L168.1 513.32 L168.96 516.22 L169.81 514.79 L170.66 514.96 L171.52 515.22 L172.37 515.31 L173.22 514.63" fill="none" stroke="#ef8a7f" stroke-width="0.8" stroke-linejoin="round"/>
<path d="M51.42 513.3 L62.23 513.3 L62.8 511.78 L63.37 510.52 L63.94 509.47 L64.51 508.6 L65.08 507.87 L65.65 507.27 L66.21 506.77 L66.78 506.35 L67.35 506.01 L67.92 505.72 L68.49 505.48 L69.06 505.28 L69.63 505.11 L70.2 504.98 L70.77 504.86 L71.34 504.77 L71.91 504.89 L72.48 505.09 L73.05 505.28 L73.61 505.47 L74.18 505.66 L74.75 505.84 L75.32 506.03 L75.89 506.2 L76.46 506.38 L77.03 506.55 L77.6 506.72 L78.17 506.89 L78.74 507.06 L79.31 507.22 L79.88 507.38 L80.44 507.54 L81.01 507.7 L81.58 507.85 L82.15 508.01 L82.72 508.16 L83.29 508.3 L83.86 508.45 L84.43 508.59 L85 508.73 L85.57 508.87 L86.14 509.01 L86.71 509.14 L87.28 509.28 L87.84 509.41 L88.41 509.54 L88.98 509.66 L89.55 509.79 L90.12 509.91 L90.69 510.04 L91.26 510.15 L91.83 510.27 L92.4 510.39 L92.97 510.5 L93.54 510.62 L94.11 510.73 L94.67 510.84 L95.24 510.95 L95.81 511.05 L96.38 511.16 L96.95 511.26 L97.52 511.36 L98.09 511.46 L98.66 511.56 L99.23 511.66 L99.8 511.76 L100.37 511.85 L100.94 511.94 L101.51 512.04 L102.07 512.13 L102.64 512.21 L103.21 512.3 L103.78 512.39 L104.35 512.47 L104.92 512.56 L105.49 512.64 L106.06 512.72 L106.63 512.8 L107.2 512.88 L107.77 512.96 L108.34 513.04 L108.9 513.11 L109.47 513.19 L110.04 513.26 L110.61 513.33 L111.18 513.41 L111.75 513.48 L112.32 513.54 L112.89 513.61 L113.46 513.68 L114.03 513.75 L114.6 513.81 L115.17 513.88 L115.74 513.94 L116.3 514 L116.87 514.06 L117.44 514.12 L118.01 514.18 L118.58 514.24 L119.15 514.3 L119.72 514.36 L120.29 514.41 L120.86 514.47 L121.43 514.52 L122 514.58 L122.57 514.63 L123.13 514.68 L123.7 514.74 L124.27 514.79 L124.84 514.84 L125.41 514.89 L125.98 514.93 L126.55 514.98 L127.12 515.03 L127.69 515.08 L128.26 515.12 L128.83 515.17 L129.4 515.21 L129.97 515.25 L130.53 515.3 L131.1 515.34 L131.67 515.38 L132.24 515.42 L132.81 515.46 L133.38 515.5 L133.95 515.54 L134.52 515.58 L135.09 515.62 L135.66 515.66 L136.23 515.7 L136.8 515.73 L137.36 515.77 L137.93 515.8 L138.5 515.84 L139.07 515.87 L139.64 515.91 L140.21 515.94 L140.78 515.97 L141.35 516.01 L141.92 516.04 L142.49 516.07 L143.06 516.1 L143.63 516.13 L144.2 516.16 L144.76 516.19 L145.33 516.22 L145.9 516.25 L146.47 516.28 L147.04 516.31 L147.61 516.33 L148.18 516.36 L148.75 516.39 L149.32 516.42 L149.89 516.44 L150.46 516.47 L151.03 516.49 L151.59 516.52 L152.16 516.54 L152.73 516.57 L153.3 516.59 L153.87 516.61 L154.44 516.64 L155.01 516.66 L155.58 516.68 L156.15 516.7 L156.72 516.73 L157.29 516.75 L157.86 516.77 L158.43 516.79 L158.99 516.81 L159.56 516.83 L160.13 516.85 L160.7 516.87 L161.27 516.89 L161.84 516.91 L162.41 516.93 L162.98 516.95 L163.55 516.96 L164.12 516.98 L164.69 517 L165.26 517.02 L165.82 517.03 L166.39 517.05 L166.96 517.07 L167.53 517.08 L168.1 517.1 L168.67 517.12 L169.24 517.13 L169.81 517.15 L170.38 517.16 L170.95 517.18 L171.52 517.19 L172.09 517.21 L172.66 517.22 L173.22 517.24 L173.79 517.25" fill="none" stroke="#f7941d" stroke-width="1.5" stroke-linejoin="round"/>
<path d="M51.42 513.3 L62.23 513.3 L62.8 510.57 L63.37 508.3 L63.94 506.41 L64.51 504.84 L65.08 503.53 L65.65 502.45 L66.21 501.55 L66.78 500.8 L67.35 500.17 L67.92 499.65 L68.49 499.22 L69.06 498.86 L69.63 498.57 L70.2 498.32 L70.77 498.11 L71.34 497.94 L71.91 498.14 L72.48 498.46 L73.05 498.78 L73.61 499.08 L74.18 499.39 L74.75 499.69 L75.32 499.98 L75.89 500.27 L76.46 500.55 L77.03 500.83 L77.6 501.11 L78.17 501.38 L78.74 501.65 L79.31 501.91 L79.88 502.17 L80.44 502.42 L81.01 502.67 L81.58 502.92 L82.15 503.16 L82.72 503.4 L83.29 503.63 L83.86 503.86 L84.43 504.09 L85 504.32 L85.57 504.54 L86.14 504.75 L86.71 504.97 L87.28 505.18 L87.84 505.38 L88.41 505.59 L88.98 505.79 L89.55 505.98 L90.12 506.18 L90.69 506.37 L91.26 506.55 L91.83 506.74 L92.4 506.92 L92.97 507.1 L93.54 507.28 L94.11 507.45 L94.67 507.62 L95.24 507.79 L95.81 507.95 L96.38 508.11 L96.95 508.27 L97.52 508.43 L98.09 508.59 L98.66 508.74 L99.23 508.89 L99.8 509.04 L100.37 509.18 L100.94 509.32 L101.51 509.47 L102.07 509.6 L102.64 509.74 L103.21 509.87 L103.78 510.01 L104.35 510.14 L104.92 510.26 L105.49 510.39 L106.06 510.51 L106.63 510.64 L107.2 510.76 L107.77 510.87 L108.34 510.99 L108.9 511.1 L109.47 511.22 L110.04 511.33 L110.61 511.44 L111.18 511.54 L111.75 511.65 L112.32 511.75 L112.89 511.85 L113.46 511.95 L114.03 512.05 L114.6 512.15 L115.17 512.25 L115.74 512.34 L116.3 512.43 L116.87 512.53 L117.44 512.62 L118.01 512.7 L118.58 512.79 L119.15 512.88 L119.72 512.96 L120.29 513.04 L120.86 513.13 L121.43 513.21 L122 513.28 L122.57 513.36 L123.13 513.44 L123.7 513.51 L124.27 513.59 L124.84 513.66 L125.41 513.73 L125.98 513.8 L126.55 513.87 L127.12 513.94 L127.69 514.01 L128.26 514.08 L128.83 514.14 L129.4 514.21 L129.97 514.27 L130.53 514.33 L131.1 514.39 L131.67 514.45 L132.24 514.51 L132.81 514.57 L133.38 514.63 L133.95 514.68 L134.52 514.74 L135.09 514.79 L135.66 514.85 L136.23 514.9 L136.8 514.95 L137.36 515 L137.93 515.06 L138.5 515.11 L139.07 515.15 L139.64 515.2 L140.21 515.25 L140.78 515.3 L141.35 515.34 L141.92 515.39 L142.49 515.43 L143.06 515.48 L143.63 515.52 L144.2 515.56 L144.76 515.6 L145.33 515.64 L145.9 515.68 L146.47 515.72 L147.04 515.76 L147.61 515.8 L148.18 515.84 L148.75 515.88 L149.32 515.91 L149.89 515.95 L150.46 515.98 L151.03 516.02 L151.59 516.05 L152.16 516.09 L152.73 516.12 L153.3 516.15 L153.87 516.19 L154.44 516.22 L155.01 516.25 L155.58 516.28 L156.15 516.31 L156.72 516.34 L157.29 516.37 L157.86 516.4 L158.43 516.43 L158.99 516.45 L159.56 516.48 L160.13 516.51 L160.7 516.54 L161.27 516.56 L161.84 516.59 L162.41 516.61 L162.98 516.64 L163.55 516.66 L164.12 516.69 L164.69 516.71 L165.26 516.73 L165.82 516.76 L166.39 516.78 L166.96 516.8 L167.53 516.82 L168.1 516.85 L168.67 516.87 L169.24 516.89 L169.81 516.91 L170.38 516.93 L170.95 516.95 L171.52 516.97 L172.09 516.99 L172.66 517.01 L173.22 517.03 L173.79 517.04" fill="none" stroke="#5a2466" stroke-width="1.5" stroke-linejoin="round"/>
<path d="M51.42 513.3 L62.23 513.3 L62.8 508.96 L63.37 505.36 L63.94 502.36 L64.51 499.87 L65.08 497.8 L65.65 496.08 L66.21 494.64 L66.78 493.45 L67.35 492.46 L67.92 491.64 L68.49 490.95 L69.06 490.39 L69.63 489.91 L70.2 489.52 L70.77 489.19 L71.34 488.92 L71.91 489.22 L72.48 489.69 L73.05 490.15 L73.61 490.6 L74.18 491.05 L74.75 491.49 L75.32 491.92 L75.89 492.35 L76.46 492.76 L77.03 493.18 L77.6 493.58 L78.17 493.98 L78.74 494.37 L79.31 494.76 L79.88 495.14 L80.44 495.51 L81.01 495.88 L81.58 496.24 L82.15 496.59 L82.72 496.94 L83.29 497.29 L83.86 497.63 L84.43 497.96 L85 498.29 L85.57 498.61 L86.14 498.93 L86.71 499.24 L87.28 499.54 L87.84 499.85 L88.41 500.14 L88.98 500.44 L89.55 500.72 L90.12 501.01 L90.69 501.28 L91.26 501.56 L91.83 501.83 L92.4 502.09 L92.97 502.35 L93.54 502.61 L94.11 502.86 L94.67 503.11 L95.24 503.35 L95.81 503.59 L96.38 503.83 L96.95 504.06 L97.52 504.29 L98.09 504.52 L98.66 504.74 L99.23 504.96 L99.8 505.17 L100.37 505.38 L100.94 505.59 L101.51 505.79 L102.07 505.99 L102.64 506.19 L103.21 506.39 L103.78 506.58 L104.35 506.76 L104.92 506.95 L105.49 507.13 L106.06 507.31 L106.63 507.49 L107.2 507.66 L107.77 507.83 L108.34 508 L108.9 508.16 L109.47 508.33 L110.04 508.49 L110.61 508.64 L111.18 508.8 L111.75 508.95 L112.32 509.1 L112.89 509.25 L113.46 509.39 L114.03 509.53 L114.6 509.67 L115.17 509.81 L115.74 509.95 L116.3 510.08 L116.87 510.21 L117.44 510.34 L118.01 510.47 L118.58 510.59 L119.15 510.72 L119.72 510.84 L120.29 510.96 L120.86 511.07 L121.43 511.19 L122 511.3 L122.57 511.41 L123.13 511.52 L123.7 511.63 L124.27 511.74 L124.84 511.84 L125.41 511.94 L125.98 512.05 L126.55 512.14 L127.12 512.24 L127.69 512.34 L128.26 512.43 L128.83 512.53 L129.4 512.62 L129.97 512.71 L130.53 512.8 L131.1 512.88 L131.67 512.97 L132.24 513.06 L132.81 513.14 L133.38 513.22 L133.95 513.3 L134.52 513.38 L135.09 513.46 L135.66 513.53 L136.23 513.61 L136.8 513.68 L137.36 513.76 L137.93 513.83 L138.5 513.9 L139.07 513.97 L139.64 514.04 L140.21 514.1 L140.78 514.17 L141.35 514.24 L141.92 514.3 L142.49 514.36 L143.06 514.42 L143.63 514.48 L144.2 514.54 L144.76 514.6 L145.33 514.66 L145.9 514.72 L146.47 514.78 L147.04 514.83 L147.61 514.88 L148.18 514.94 L148.75 514.99 L149.32 515.04 L149.89 515.09 L150.46 515.14 L151.03 515.19 L151.59 515.24 L152.16 515.29 L152.73 515.34 L153.3 515.38 L153.87 515.43 L154.44 515.47 L155.01 515.52 L155.58 515.56 L156.15 515.6 L156.72 515.64 L157.29 515.69 L157.86 515.73 L158.43 515.77 L158.99 515.81 L159.56 515.84 L160.13 515.88 L160.7 515.92 L161.27 515.96 L161.84 515.99 L162.41 516.03 L162.98 516.06 L163.55 516.1 L164.12 516.13 L164.69 516.16 L165.26 516.2 L165.82 516.23 L166.39 516.26 L166.96 516.29 L167.53 516.32 L168.1 516.35 L168.67 516.38 L169.24 516.41 L169.81 516.44 L170.38 516.47 L170.95 516.5 L171.52 516.52 L172.09 516.55 L172.66 516.58 L173.22 516.6 L173.79 516.63" fill="none" stroke="#3db54a" stroke-width="1.5" stroke-linejoin="round"/>
<path d="M51.42 513.3 L62.23 513.3 L62.8 506.8 L63.37 501.39 L63.94 496.89 L64.51 493.15 L65.08 490.05 L65.65 487.46 L66.21 485.31 L66.78 483.53 L67.35 482.04 L67.92 480.81 L68.49 479.78 L69.06 478.93 L69.63 478.22 L70.2 477.63 L70.77 477.14 L71.34 476.73 L71.91 477.16 L72.48 477.83 L73.05 478.5 L73.61 479.16 L74.18 479.8 L74.75 480.44 L75.32 481.06 L75.89 481.67 L76.46 482.28 L77.03 482.87 L77.6 483.46 L78.17 484.03 L78.74 484.59 L79.31 485.15 L79.88 485.7 L80.44 486.23 L81.01 486.76 L81.58 487.28 L82.15 487.79 L82.72 488.29 L83.29 488.79 L83.86 489.27 L84.43 489.75 L85 490.22 L85.57 490.68 L86.14 491.14 L86.71 491.59 L87.28 492.02 L87.84 492.46 L88.41 492.88 L88.98 493.3 L89.55 493.71 L90.12 494.12 L90.69 494.51 L91.26 494.91 L91.83 495.29 L92.4 495.67 L92.97 496.04 L93.54 496.41 L94.11 496.77 L94.67 497.12 L95.24 497.47 L95.81 497.81 L96.38 498.15 L96.95 498.48 L97.52 498.81 L98.09 499.13 L98.66 499.44 L99.23 499.75 L99.8 500.06 L100.37 500.36 L100.94 500.65 L101.51 500.94 L102.07 501.23 L102.64 501.51 L103.21 501.78 L103.78 502.05 L104.35 502.32 L104.92 502.58 L105.49 502.84 L106.06 503.09 L106.63 503.34 L107.2 503.59 L107.77 503.83 L108.34 504.07 L108.9 504.3 L109.47 504.53 L110.04 504.76 L110.61 504.98 L111.18 505.2 L111.75 505.41 L112.32 505.62 L112.89 505.83 L113.46 506.03 L114.03 506.23 L114.6 506.43 L115.17 506.63 L115.74 506.82 L116.3 507.01 L116.87 507.19 L117.44 507.37 L118.01 507.55 L118.58 507.73 L119.15 507.9 L119.72 508.07 L120.29 508.24 L120.86 508.4 L121.43 508.56 L122 508.72 L122.57 508.88 L123.13 509.03 L123.7 509.18 L124.27 509.33 L124.84 509.48 L125.41 509.62 L125.98 509.76 L126.55 509.9 L127.12 510.04 L127.69 510.18 L128.26 510.31 L128.83 510.44 L129.4 510.57 L129.97 510.69 L130.53 510.82 L131.1 510.94 L131.67 511.06 L132.24 511.18 L132.81 511.29 L133.38 511.41 L133.95 511.52 L134.52 511.63 L135.09 511.74 L135.66 511.84 L136.23 511.95 L136.8 512.05 L137.36 512.15 L137.93 512.25 L138.5 512.35 L139.07 512.45 L139.64 512.54 L140.21 512.63 L140.78 512.73 L141.35 512.82 L141.92 512.91 L142.49 512.99 L143.06 513.08 L143.63 513.16 L144.2 513.25 L144.76 513.33 L145.33 513.41 L145.9 513.49 L146.47 513.57 L147.04 513.64 L147.61 513.72 L148.18 513.79 L148.75 513.86 L149.32 513.93 L149.89 514.01 L150.46 514.07 L151.03 514.14 L151.59 514.21 L152.16 514.27 L152.73 514.34 L153.3 514.4 L153.87 514.47 L154.44 514.53 L155.01 514.59 L155.58 514.65 L156.15 514.71 L156.72 514.76 L157.29 514.82 L157.86 514.88 L158.43 514.93 L158.99 514.98 L159.56 515.04 L160.13 515.09 L160.7 515.14 L161.27 515.19 L161.84 515.24 L162.41 515.29 L162.98 515.34 L163.55 515.38 L164.12 515.43 L164.69 515.48 L165.26 515.52 L165.82 515.56 L166.39 515.61 L166.96 515.65 L167.53 515.69 L168.1 515.73 L168.67 515.77 L169.24 515.81 L169.81 515.85 L170.38 515.89 L170.95 515.93 L171.52 515.97 L172.09 516 L172.66 516.04 L173.22 516.08 L173.79 516.11" fill="none" stroke="#115288" stroke-width="1.5" stroke-linejoin="round"/>
<path d="M51.42 513.3 L62.23 513.3 L62.8 505.5 L63.37 499.01 L63.94 493.61 L64.51 489.13 L65.08 485.4 L65.65 482.3 L66.21 479.72 L66.78 477.57 L67.35 475.79 L67.92 474.31 L68.49 473.08 L69.06 472.05 L69.63 471.2 L70.2 470.49 L70.77 469.91 L71.34 469.42 L71.91 469.91 L72.48 470.7 L73.05 471.47 L73.61 472.23 L74.18 472.98 L74.75 473.72 L75.32 474.45 L75.89 475.16 L76.46 475.86 L77.03 476.56 L77.6 477.24 L78.17 477.9 L78.74 478.56 L79.31 479.21 L79.88 479.85 L80.44 480.47 L81.01 481.09 L81.58 481.69 L82.15 482.29 L82.72 482.87 L83.29 483.45 L83.86 484.02 L84.43 484.58 L85 485.12 L85.57 485.66 L86.14 486.2 L86.71 486.72 L87.28 487.23 L87.84 487.74 L88.41 488.23 L88.98 488.72 L89.55 489.2 L90.12 489.68 L90.69 490.14 L91.26 490.6 L91.83 491.05 L92.4 491.49 L92.97 491.93 L93.54 492.36 L94.11 492.78 L94.67 493.2 L95.24 493.6 L95.81 494 L96.38 494.4 L96.95 494.79 L97.52 495.17 L98.09 495.55 L98.66 495.92 L99.23 496.28 L99.8 496.64 L100.37 496.99 L100.94 497.33 L101.51 497.68 L102.07 498.01 L102.64 498.34 L103.21 498.66 L103.78 498.98 L104.35 499.3 L104.92 499.6 L105.49 499.91 L106.06 500.21 L106.63 500.5 L107.2 500.79 L107.77 501.07 L108.34 501.35 L108.9 501.63 L109.47 501.9 L110.04 502.16 L110.61 502.42 L111.18 502.68 L111.75 502.94 L112.32 503.18 L112.89 503.43 L113.46 503.67 L114.03 503.91 L114.6 504.14 L115.17 504.37 L115.74 504.6 L116.3 504.82 L116.87 505.04 L117.44 505.25 L118.01 505.46 L118.58 505.67 L119.15 505.87 L119.72 506.07 L120.29 506.27 L120.86 506.47 L121.43 506.66 L122 506.85 L122.57 507.03 L123.13 507.21 L123.7 507.39 L124.27 507.57 L124.84 507.74 L125.41 507.91 L125.98 508.08 L126.55 508.25 L127.12 508.41 L127.69 508.57 L128.26 508.72 L128.83 508.88 L129.4 509.03 L129.97 509.18 L130.53 509.33 L131.1 509.47 L131.67 509.61 L132.24 509.75 L132.81 509.89 L133.38 510.03 L133.95 510.16 L134.52 510.29 L135.09 510.42 L135.66 510.55 L136.23 510.67 L136.8 510.8 L137.36 510.92 L137.93 511.03 L138.5 511.15 L139.07 511.27 L139.64 511.38 L140.21 511.49 L140.78 511.6 L141.35 511.71 L141.92 511.81 L142.49 511.92 L143.06 512.02 L143.63 512.12 L144.2 512.22 L144.76 512.32 L145.33 512.41 L145.9 512.51 L146.47 512.6 L147.04 512.69 L147.61 512.78 L148.18 512.87 L148.75 512.96 L149.32 513.04 L149.89 513.13 L150.46 513.21 L151.03 513.29 L151.59 513.37 L152.16 513.45 L152.73 513.53 L153.3 513.6 L153.87 513.68 L154.44 513.75 L155.01 513.82 L155.58 513.89 L156.15 513.96 L156.72 514.03 L157.29 514.1 L157.86 514.17 L158.43 514.23 L158.99 514.3 L159.56 514.36 L160.13 514.42 L160.7 514.49 L161.27 514.55 L161.84 514.61 L162.41 514.66 L162.98 514.72 L163.55 514.78 L164.12 514.83 L164.69 514.89 L165.26 514.94 L165.82 514.99 L166.39 515.05 L166.96 515.1 L167.53 515.15 L168.1 515.2 L168.67 515.25 L169.24 515.3 L169.81 515.34 L170.38 515.39 L170.95 515.43 L171.52 515.48 L172.09 515.52 L172.66 515.57 L173.22 515.61 L173.79 515.65" fill="none" stroke="#c4202f" stroke-width="1.5" stroke-linejoin="round"/>
<line x1="52.2" y1="557.32" x2="52.2" y2="641.9" stroke="#222" stroke-width="1.4"/>
<line x1="49.4" y1="557.5" x2="52.2" y2="557.5" stroke="#222" stroke-width="1.1"/>
<text x="48.2" y="559.72" font-size="7.3" text-anchor="end" fill="#231f20" stroke="#231f20" stroke-width="0.06">60.00</text>
<line x1="49.4" y1="569.5" x2="52.2" y2="569.5" stroke="#222" stroke-width="1.1"/>
<text x="48.2" y="571.9" font-size="7.3" text-anchor="end" fill="#231f20" stroke="#231f20" stroke-width="0.06">50.00</text>
<line x1="49.4" y1="581.5" x2="52.2" y2="581.5" stroke="#222" stroke-width="1.1"/>
<text x="48.2" y="584.08" font-size="7.3" text-anchor="end" fill="#231f20" stroke="#231f20" stroke-width="0.06">40.00</text>
<line x1="49.4" y1="593.5" x2="52.2" y2="593.5" stroke="#222" stroke-width="1.1"/>
<text x="48.2" y="596.26" font-size="7.3" text-anchor="end" fill="#231f20" stroke="#231f20" stroke-width="0.06">30.00</text>
<line x1="49.4" y1="606.5" x2="52.2" y2="606.5" stroke="#222" stroke-width="1.1"/>
<text x="48.2" y="608.44" font-size="7.3" text-anchor="end" fill="#231f20" stroke="#231f20" stroke-width="0.06">20.00</text>
<line x1="49.4" y1="618.5" x2="52.2" y2="618.5" stroke="#222" stroke-width="1.1"/>
<text x="48.2" y="620.62" font-size="7.3" text-anchor="end" fill="#231f20" stroke="#231f20" stroke-width="0.06">10.00</text>
<line x1="49.4" y1="630.5" x2="52.2" y2="630.5" stroke="#222" stroke-width="1.1"/>
<text x="48.2" y="632.8" font-size="7.3" text-anchor="end" fill="#231f20" stroke="#231f20" stroke-width="0.06">0.00</text>
<line x1="49.4" y1="642.5" x2="52.2" y2="642.5" stroke="#222" stroke-width="1.1"/>
<text x="48.2" y="644.98" font-size="7.3" text-anchor="end" fill="#231f20" stroke="#231f20" stroke-width="0.06">-10.00</text>
<line x1="52.2" y1="641.9" x2="199.3" y2="641.9" stroke="#222" stroke-width="1.4"/>
<line x1="52.5" y1="641.9" x2="52.5" y2="645" stroke="#222" stroke-width="1.1"/>
<text x="52.2" y="651.5" font-size="6.6" text-anchor="middle" textLength="7.8" lengthAdjust="spacingAndGlyphs" fill="#231f20" stroke="#231f20" stroke-width="0.2">0.00</text>
<line x1="68.5" y1="641.9" x2="68.5" y2="645" stroke="#222" stroke-width="1.1"/>
<text x="68.55" y="651.5" font-size="6.6" text-anchor="middle" textLength="12" lengthAdjust="spacingAndGlyphs" fill="#231f20" stroke="#231f20" stroke-width="0.2">100.00</text>
<line x1="84.5" y1="641.9" x2="84.5" y2="645" stroke="#222" stroke-width="1.1"/>
<text x="84.9" y="651.5" font-size="6.6" text-anchor="middle" textLength="12" lengthAdjust="spacingAndGlyphs" fill="#231f20" stroke="#231f20" stroke-width="0.2">200.00</text>
<line x1="101.5" y1="641.9" x2="101.5" y2="645" stroke="#222" stroke-width="1.1"/>
<text x="101.25" y="651.5" font-size="6.6" text-anchor="middle" textLength="12" lengthAdjust="spacingAndGlyphs" fill="#231f20" stroke="#231f20" stroke-width="0.2">300.00</text>
<line x1="117.5" y1="641.9" x2="117.5" y2="645" stroke="#222" stroke-width="1.1"/>
<text x="117.6" y="651.5" font-size="6.6" text-anchor="middle" textLength="12" lengthAdjust="spacingAndGlyphs" fill="#231f20" stroke="#231f20" stroke-width="0.2">400.00</text>
<line x1="133.5" y1="641.9" x2="133.5" y2="645" stroke="#222" stroke-width="1.1"/>
<text x="133.95" y="651.5" font-size="6.6" text-anchor="middle" textLength="12" lengthAdjust="spacingAndGlyphs" fill="#231f20" stroke="#231f20" stroke-width="0.2">500.00</text>
<line x1="150.5" y1="641.9" x2="150.5" y2="645" stroke="#222" stroke-width="1.1"/>
<text x="150.3" y="651.5" font-size="6.6" text-anchor="middle" textLength="12" lengthAdjust="spacingAndGlyphs" fill="#231f20" stroke="#231f20" stroke-width="0.2">600.00</text>
<line x1="166.5" y1="641.9" x2="166.5" y2="645" stroke="#222" stroke-width="1.1"/>
<text x="166.65" y="651.5" font-size="6.6" text-anchor="middle" textLength="12" lengthAdjust="spacingAndGlyphs" fill="#231f20" stroke="#231f20" stroke-width="0.2">700.00</text>
<line x1="183.5" y1="641.9" x2="183.5" y2="645" stroke="#222" stroke-width="1.1"/>
<text x="183" y="651.5" font-size="6.6" text-anchor="middle" textLength="12" lengthAdjust="spacingAndGlyphs" fill="#231f20" stroke="#231f20" stroke-width="0.2">800.00</text>
<line x1="199.5" y1="641.9" x2="199.5" y2="645" stroke="#222" stroke-width="1.1"/>
<text x="199.35" y="651.5" font-size="6.6" text-anchor="middle" textLength="12" lengthAdjust="spacingAndGlyphs" fill="#231f20" stroke="#231f20" stroke-width="0.2">900.00</text>
<text x="127.4" y="662.3" font-size="9" text-anchor="middle" textLength="30.6" lengthAdjust="spacingAndGlyphs" fill="#231f20" stroke="#231f20" stroke-width="0.2">Time (sec)</text>
<text transform="translate(16.6 599) rotate(-90)" x="0" y="2.75" font-size="8" text-anchor="middle" textLength="59.6" lengthAdjust="spacingAndGlyphs" fill="#231f20" stroke="#231f20" stroke-width="0.06">Response units (RU)</text>
<text x="81" y="581.4" font-size="7.4" font-weight="bold" textLength="43.1" lengthAdjust="spacingAndGlyphs" fill="#231f20" stroke="#231f20" stroke-width="0.06">CD177/PR3</text>
<text x="152" y="562.7" font-size="6.6" textLength="48" lengthAdjust="spacingAndGlyphs" fill="#231f20" stroke="#231f20" stroke-width="0.06">ka:1,56E+05 1/Ms</text>
<text x="152" y="572" font-size="6.6" textLength="41.8" lengthAdjust="spacingAndGlyphs" fill="#231f20" stroke="#231f20" stroke-width="0.06">kd:1,15E-03 1/s</text>
<text x="152" y="593.6" font-size="6.6" textLength="41.3" lengthAdjust="spacingAndGlyphs" fill="#231f20" stroke="#231f20" stroke-width="0.06">KD:7.39E-09 M</text>
<line x1="152" y1="594.5" x2="193.3" y2="594.5" stroke="#333" stroke-width="0.6"/>
<path d="M53.84 630.76 L54.33 631.88 L54.82 627.92 L55.31 628.67 L55.8 622.56 L56.29 628.33 L56.78 630.54 L57.27 631.92 L57.76 631.15 L58.25 629.57 L58.74 625.96 L59.23 627.59 L59.72 628.56 L60.21 626.88 L60.7 628.53 L61.19 627.89 L61.68 627.01 L62.17 628.66 L62.66 624.48 L63.15 628.09 L63.65 628.76 L64.14 624.47 L64.63 625.06 L65.12 626.86 L65.61 626.51 L66.1 624.67 L66.59 628.34 L67.08 626.06 L67.57 623.25 L68.06 626 L68.55 625.18 L69.04 617.95 L69.53 620.28 L70.02 616.89 L70.51 610.37 L71 606.27 L71.49 600.86 L71.98 594.23 L72.47 586.6 L72.96 575.75 L73.46 577.95 L73.95 588.6 L74.44 603.42 L74.93 611.46 L75.42 613.69 L75.91 619.12 L76.4 620.44 L76.89 619.95 L77.38 619.77 L77.87 620.56 L78.36 619.78 L78.85 615.14 L79.34 621.58 L79.83 621.61 L80.32 621.74 L80.81 622.53 L81.3 619.21 L81.79 622.75 L82.28 621.68 L82.77 621.13 L83.27 623.58 L83.76 619.31 L84.25 622.41 L84.74 618.43 L85.23 618.78 L85.72 620.89 L86.21 621.53 L86.7 617.85 L87.19 620.38 L87.68 618.58 L88.17 618.33 L88.66 619.9 L89.15 620.1 L89.64 619.87 L90.13 621.11 L90.62 621.79 L91.11 616.88 L91.6 623.87 L92.09 618.98 L92.58 622.83 L93.08 619.36 L93.57 621.23 L94.06 620.54 L94.55 619.43 L95.04 620.84 L95.53 621.66 L96.02 620.07 L96.51 619.34 L97 621.68 L97.49 621.82 L97.98 620.42 L98.47 620.31 L98.96 623.01 L99.45 620.53 L99.94 617.38 L100.43 620 L100.92 623.58 L101.41 621.87 L101.9 621.39 L102.39 620.5 L102.89 622.12 L103.38 618.74 L103.87 620.8 L104.36 621.96 L104.85 616.92 L105.34 617.39 L105.83 619.92 L106.32 623.23 L106.81 620.07 L107.3 620.67 L107.79 620.85 L108.28 621.83 L108.77 620.67 L109.26 619.86 L109.75 618.72 L110.24 622.93 L110.73 624.12 L111.22 620.71 L111.71 619.33 L112.2 624.27 L112.7 620.34 L113.19 621.42 L113.68 616.07 L114.17 621.86 L114.66 622.59 L115.15 621.64 L115.64 622.43 L116.13 622.81 L116.62 621.58 L117.11 619.42 L117.6 621.63 L118.09 617.41 L118.58 618.28 L119.07 621.36 L119.56 621.91 L120.05 623.23 L120.54 619.24 L121.03 624.2 L121.52 622.14 L122.01 623.4 L122.51 620.9 L123 621.09 L123.49 623.11 L123.98 625.78 L124.47 621.99 L124.96 622.46 L125.45 620.74 L125.94 619.8 L126.43 621.1 L126.92 619.3 L127.41 621.13 L127.9 620.33 L128.39 621.31 L128.88 620.64 L129.37 620.23 L129.86 621.63 L130.35 621.79 L130.84 621.02 L131.33 620.11 L131.82 623.67 L132.31 620.06 L132.81 622.13 L133.3 620.85 L133.79 624 L134.28 625.68 L134.77 621.9 L135.26 623.66 L135.75 620.15 L136.24 621.27 L136.73 622.65 L137.22 622.92 L137.71 620.78 L138.2 621.41 L138.69 622.42 L139.18 622.17 L139.67 621.63 L140.16 623.09 L140.65 622.6 L141.14 620.45 L141.63 621.1 L142.12 623 L142.62 620.85 L143.11 620.43 L143.6 624.56 L144.09 622.38 L144.58 625.45 L145.07 622.31 L145.56 625.42 L146.05 624.62 L146.54 623.92 L147.03 619.23 L147.52 620.6 L148.01 619.22 L148.5 621.18 L148.99 620.29 L149.48 623.68 L149.97 622.24 L150.46 622.97 L150.95 620.6 L151.44 625.01 L151.94 628.27 L152.43 623.21 L152.92 621.22 L153.41 623.47 L153.9 624.51 L154.39 622.72 L154.88 622.64 L155.37 625.04 L155.86 628.56 L156.35 621.49 L156.84 624.19 L157.33 622.01 L157.82 624.89 L158.31 621.22 L158.8 621.89 L159.29 622.85 L159.78 626.25 L160.27 623.6 L160.76 624.36 L161.25 622.89 L161.75 621.19 L162.24 622.73 L162.73 621.04 L163.22 624.61 L163.71 623.21 L164.2 622.67 L164.69 622.15 L165.18 624.39 L165.67 623.62 L166.16 618.24 L166.65 621.68 L167.14 624.81 L167.63 625 L168.12 627.04 L168.61 621.66 L169.1 624.92 L169.59 623.93 L170.08 623.29 L170.57 622.53 L171.06 623.8 L171.56 623.7 L172.05 625.59 L172.54 623.29 L173.03 626.68 L173.52 617.67 L174.01 623.45 L174.5 623.91 L174.99 620.53 L175.48 621.57 L175.97 622.52 L176.46 624.49 L176.95 621.73 L177.44 624.78 L177.93 620.94 L178.42 622.66 L178.91 622.93 L179.4 623.49 L179.89 621.42 L180.38 624.29 L180.87 623.45 L181.37 624.19 L181.86 622.32 L182.35 622.35 L182.84 626.56 L183.33 621.83 L183.82 623.28 L184.31 624.1 L184.8 623.61 L185.29 626.15 L185.78 620.64 L186.27 623.44 L186.76 622.61 L187.25 622.74" fill="none" stroke="#bdbdbd" stroke-width="0.6" stroke-linejoin="round"/>
<path d="M53.84 627.37 L54.33 629.58 L54.82 628.57 L55.31 628.24 L55.8 628.19 L56.29 629.64 L56.78 629.41 L57.27 628.48 L57.76 627.79 L58.25 631.81 L58.74 626.78 L59.23 626.9 L59.72 628.65 L60.21 627.5 L60.7 629.32 L61.19 628.13 L61.68 627.29 L62.17 626.8 L62.66 629.64 L63.15 627.8 L63.65 624.67 L64.14 625.62 L64.63 626.02 L65.12 625.57 L65.61 621.45 L66.1 625.05 L66.59 623.87 L67.08 623.32 L67.57 624.74 L68.06 624.11 L68.55 622.25 L69.04 623.43 L69.53 620.77 L70.02 619.69 L70.51 616.83 L71 615.1 L71.49 613.78 L71.98 606.01 L72.47 600.85 L72.96 609.69 L73.46 597.49 L73.95 612.59 L74.44 615.22 L74.93 619.14 L75.42 621.23 L75.91 622.6 L76.4 621.01 L76.89 620.47 L77.38 620.96 L77.87 621.08 L78.36 621.41 L78.85 620.54 L79.34 620.29 L79.83 619.45 L80.32 621.93 L80.81 618.6 L81.3 621.56 L81.79 620.33 L82.28 620.58 L82.77 624.72 L83.27 620.03 L83.76 621.12 L84.25 621.71 L84.74 620.2 L85.23 622.29 L85.72 621.86 L86.21 620.97 L86.7 621.68 L87.19 619.88 L87.68 622.6 L88.17 621.53 L88.66 622.09 L89.15 622.35 L89.64 622.91 L90.13 622.67 L90.62 622.65 L91.11 620.75 L91.6 622.27 L92.09 620.49 L92.58 620.59 L93.08 622.14 L93.57 620.33 L94.06 621.42 L94.55 621.44 L95.04 617.78 L95.53 620.95 L96.02 623.94 L96.51 622.94 L97 623.84 L97.49 621.61 L97.98 622.48 L98.47 621.08 L98.96 620.71 L99.45 620.81 L99.94 622.71 L100.43 620.98 L100.92 625.96 L101.41 621.67 L101.9 623.14 L102.39 623.66 L102.89 622.06 L103.38 623.98 L103.87 620.84 L104.36 622.85 L104.85 621.66 L105.34 620.35 L105.83 619.9 L106.32 620.67 L106.81 622.55 L107.3 620.27 L107.79 622.91 L108.28 621.99 L108.77 621.27 L109.26 621.38 L109.75 621.69 L110.24 623.35 L110.73 621.07 L111.22 624.22 L111.71 623.51 L112.2 621.02 L112.7 620.04 L113.19 622.37 L113.68 623.04 L114.17 620.77 L114.66 623.27 L115.15 621.78 L115.64 620.57 L116.13 622.93 L116.62 619.53 L117.11 619.3 L117.6 625.87 L118.09 622.54 L118.58 620.85 L119.07 622.64 L119.56 623.69 L120.05 621.77 L120.54 620.58 L121.03 619.72 L121.52 624.69 L122.01 625.4 L122.51 624.02 L123 622.02 L123.49 624.65 L123.98 620.71 L124.47 620.06 L124.96 623.15 L125.45 621.03 L125.94 624.18 L126.43 621.65 L126.92 623.82 L127.41 624.57 L127.9 622.98 L128.39 624.23 L128.88 624.33 L129.37 623.17 L129.86 623.23 L130.35 620.29 L130.84 624.9 L131.33 622.38 L131.82 621.34 L132.31 624.06 L132.81 624.42 L133.3 623.63 L133.79 622.61 L134.28 622.49 L134.77 622.62 L135.26 622.15 L135.75 628.97 L136.24 623.79 L136.73 623.47 L137.22 621.08 L137.71 622.69 L138.2 622.24 L138.69 627.37 L139.18 626.36 L139.67 625 L140.16 623.17 L140.65 622.75 L141.14 624.44 L141.63 620.34 L142.12 626.19 L142.62 625.47 L143.11 623.19 L143.6 621.81 L144.09 624.36 L144.58 620.51 L145.07 623.26 L145.56 622.41 L146.05 622.13 L146.54 623.55 L147.03 624.76 L147.52 627.13 L148.01 621.79 L148.5 624.36 L148.99 624.28 L149.48 625.15 L149.97 622.77 L150.46 622.74 L150.95 625 L151.44 624.02 L151.94 624.17 L152.43 622.74 L152.92 624.58 L153.41 624.11 L153.9 622.15 L154.39 625.25 L154.88 624.85 L155.37 624.46 L155.86 625.02 L156.35 622.61 L156.84 623.89 L157.33 624.2 L157.82 623.6 L158.31 624 L158.8 621.37 L159.29 623.46 L159.78 623.58 L160.27 618.36 L160.76 623.66 L161.25 621.94 L161.75 623.98 L162.24 624.91 L162.73 623.29 L163.22 626.76 L163.71 623.85 L164.2 623.45 L164.69 624.71 L165.18 622.61 L165.67 623.81 L166.16 621.02 L166.65 623.56 L167.14 623.22 L167.63 627.47 L168.12 624.31 L168.61 622.58 L169.1 621.94 L169.59 622.18 L170.08 624.63 L170.57 627.27 L171.06 624.41 L171.56 623.34 L172.05 624.28 L172.54 621.59 L173.03 625.77 L173.52 618.91 L174.01 624.41 L174.5 624.07 L174.99 624.7 L175.48 624.14 L175.97 623.34 L176.46 625.05 L176.95 622.67 L177.44 625.37 L177.93 625.4 L178.42 625.48 L178.91 626.69 L179.4 622.85 L179.89 620.86 L180.38 623.82 L180.87 623.46 L181.37 624.49 L181.86 620.51 L182.35 622.53 L182.84 623.14 L183.33 625.97 L183.82 621.41 L184.31 625.76 L184.8 626.09 L185.29 625.27 L185.78 624.93 L186.27 627.47 L186.76 622.8 L187.25 621.63" fill="none" stroke="#bdbdbd" stroke-width="0.6" stroke-linejoin="round"/>
<path d="M53.84 626 L54.33 627.47 L54.82 628.13 L55.31 629.25 L55.8 628.34 L56.29 632.73 L56.78 627.9 L57.27 630.99 L57.76 628.35 L58.25 628.76 L58.74 626.48 L59.23 628.3 L59.72 625.87 L60.21 626.62 L60.7 629.41 L61.19 628.35 L61.68 628.31 L62.17 628.71 L62.66 627.16 L63.15 626.89 L63.65 627.71 L64.14 627.01 L64.63 627.89 L65.12 626.85 L65.61 624.64 L66.1 620.41 L66.59 626.2 L67.08 626.66 L67.57 624.57 L68.06 624.81 L68.55 623.87 L69.04 622.62 L69.53 621.94 L70.02 618.51 L70.51 619.76 L71 617.28 L71.49 610.65 L71.98 609.11 L72.47 607.77 L72.96 601.79 L73.46 594.96 L73.95 604.46 L74.44 618.85 L74.93 618.25 L75.42 621.85 L75.91 621.94 L76.4 625.4 L76.89 621.75 L77.38 622.23 L77.87 620.18 L78.36 621.96 L78.85 621.57 L79.34 620.46 L79.83 621.52 L80.32 622.56 L80.81 620.7 L81.3 619.54 L81.79 623.32 L82.28 621.1 L82.77 619.99 L83.27 622.61 L83.76 621.36 L84.25 622.36 L84.74 619.75 L85.23 624.66 L85.72 623.26 L86.21 621.81 L86.7 620.74 L87.19 617.54 L87.68 620.69 L88.17 624.88 L88.66 621.14 L89.15 624.99 L89.64 619.17 L90.13 623.21 L90.62 623.11 L91.11 619.69 L91.6 620.77 L92.09 620.81 L92.58 621.88 L93.08 617.85 L93.57 619.3 L94.06 619.67 L94.55 621.29 L95.04 620.37 L95.53 621.64 L96.02 621.68 L96.51 621.16 L97 620.2 L97.49 622.51 L97.98 621.37 L98.47 622.92 L98.96 619.55 L99.45 626.25 L99.94 621.83 L100.43 623.2 L100.92 623.55 L101.41 622.56 L101.9 623.51 L102.39 623.4 L102.89 622.18 L103.38 620.65 L103.87 620.56 L104.36 622.25 L104.85 623.38 L105.34 622.61 L105.83 620.89 L106.32 622.09 L106.81 619.14 L107.3 622.25 L107.79 619.65 L108.28 623.89 L108.77 623.03 L109.26 623.78 L109.75 623.79 L110.24 623.12 L110.73 623.25 L111.22 619.81 L111.71 624.71 L112.2 622.04 L112.7 624.64 L113.19 623.36 L113.68 616.71 L114.17 620.39 L114.66 624 L115.15 620.52 L115.64 626.92 L116.13 620.66 L116.62 623.75 L117.11 621.88 L117.6 625.7 L118.09 622.59 L118.58 623.48 L119.07 621.84 L119.56 622.53 L120.05 623.49 L120.54 623.07 L121.03 620.24 L121.52 622.87 L122.01 621.79 L122.51 623.57 L123 624.85 L123.49 623.21 L123.98 622.06 L124.47 622.46 L124.96 627.11 L125.45 620.85 L125.94 623.03 L126.43 622.92 L126.92 623.01 L127.41 621.92 L127.9 621.12 L128.39 624.08 L128.88 623.75 L129.37 620.48 L129.86 618.84 L130.35 619.52 L130.84 621.19 L131.33 622.79 L131.82 621.43 L132.31 622.49 L132.81 624.69 L133.3 621.55 L133.79 621.73 L134.28 622.62 L134.77 623.62 L135.26 621.69 L135.75 622.21 L136.24 623.42 L136.73 622.54 L137.22 620.79 L137.71 620.75 L138.2 622.41 L138.69 623.35 L139.18 624.65 L139.67 623.03 L140.16 618.97 L140.65 623.91 L141.14 623.97 L141.63 623.44 L142.12 623.45 L142.62 622.74 L143.11 624.06 L143.6 620.53 L144.09 624.66 L144.58 624.31 L145.07 623.23 L145.56 622.35 L146.05 623.79 L146.54 623.79 L147.03 624.98 L147.52 623.95 L148.01 620.79 L148.5 619.99 L148.99 624.79 L149.48 623.1 L149.97 621.96 L150.46 622.39 L150.95 620.76 L151.44 622.11 L151.94 623.18 L152.43 621.23 L152.92 625.4 L153.41 622.65 L153.9 624.25 L154.39 622.52 L154.88 623.76 L155.37 625.06 L155.86 622.67 L156.35 622.21 L156.84 624.17 L157.33 622.06 L157.82 620.61 L158.31 622.58 L158.8 620.38 L159.29 623.36 L159.78 623.98 L160.27 622.2 L160.76 622.62 L161.25 623.27 L161.75 626.12 L162.24 622.59 L162.73 623.31 L163.22 621.55 L163.71 625.64 L164.2 619.67 L164.69 628.57 L165.18 622.01 L165.67 621.53 L166.16 624.5 L166.65 622.11 L167.14 622.65 L167.63 619.76 L168.12 623.64 L168.61 625.53 L169.1 621.06 L169.59 622.77 L170.08 623.74 L170.57 623.18 L171.06 624.3 L171.56 622.27 L172.05 623.77 L172.54 622.08 L173.03 622.18 L173.52 621.61 L174.01 621.97 L174.5 624.89 L174.99 621.42 L175.48 623.83 L175.97 627.34 L176.46 621.51 L176.95 625.73 L177.44 622.95 L177.93 625.81 L178.42 623.39 L178.91 625.12 L179.4 624.17 L179.89 618.91 L180.38 624.78 L180.87 624.69 L181.37 621.95 L181.86 624.69 L182.35 624.57 L182.84 624.15 L183.33 625.6 L183.82 621.76 L184.31 621.26 L184.8 626.52 L185.29 624.35 L185.78 623.19 L186.27 625.37 L186.76 618.3 L187.25 625.75" fill="none" stroke="#bdbdbd" stroke-width="0.6" stroke-linejoin="round"/>
<path d="M53.84 628.99 L54.33 629.93 L54.82 629.8 L55.31 628.75 L55.8 628.97 L56.29 627.04 L56.78 628.68 L57.27 632.8 L57.76 629.64 L58.25 628.71 L58.74 628.78 L59.23 628.38 L59.72 627.72 L60.21 628.25 L60.7 629.06 L61.19 623.07 L61.68 628.11 L62.17 626.84 L62.66 627.8 L63.15 626.41 L63.65 626.26 L64.14 626.45 L64.63 624.05 L65.12 625.15 L65.61 622.39 L66.1 623.04 L66.59 623.5 L67.08 616.49 L67.57 622.53 L68.06 620.48 L68.55 617.16 L69.04 617.04 L69.53 614.13 L70.02 613.07 L70.51 609.45 L71 602.53 L71.49 598.76 L71.98 589.53 L72.47 583.63 L72.96 578.24 L73.46 572.69 L73.95 591.65 L74.44 597.86 L74.93 607 L75.42 610.61 L75.91 614.35 L76.4 612.8 L76.89 615.55 L77.38 612.73 L77.87 610.98 L78.36 614.41 L78.85 617.05 L79.34 614.45 L79.83 615.26 L80.32 614.98 L80.81 611.88 L81.3 617 L81.79 617.66 L82.28 616.65 L82.77 614.45 L83.27 613.32 L83.76 616.04 L84.25 616.78 L84.74 615.53 L85.23 617.06 L85.72 616.9 L86.21 615.7 L86.7 615.11 L87.19 614.05 L87.68 613.75 L88.17 613.73 L88.66 615.87 L89.15 615.68 L89.64 613.83 L90.13 616.99 L90.62 616.36 L91.11 617.83 L91.6 619.84 L92.09 616.86 L92.58 617.22 L93.08 616.01 L93.57 612.75 L94.06 616.13 L94.55 614.45 L95.04 614.56 L95.53 613.76 L96.02 614.92 L96.51 614.32 L97 615.08 L97.49 616.21 L97.98 617.15 L98.47 616.74 L98.96 618.57 L99.45 615.66 L99.94 614.24 L100.43 614.35 L100.92 617.87 L101.41 616.89 L101.9 616.97 L102.39 616.67 L102.89 618.89 L103.38 618.02 L103.87 616.54 L104.36 619.31 L104.85 617.45 L105.34 619.79 L105.83 617.17 L106.32 617.32 L106.81 616.92 L107.3 614.57 L107.79 617.17 L108.28 620.85 L108.77 621.83 L109.26 617.99 L109.75 622.81 L110.24 615.71 L110.73 617.02 L111.22 617.09 L111.71 617.56 L112.2 616.14 L112.7 616.57 L113.19 616.31 L113.68 613.91 L114.17 615.41 L114.66 618.14 L115.15 616.79 L115.64 616.19 L116.13 622.27 L116.62 616.94 L117.11 619.29 L117.6 617.47 L118.09 614.38 L118.58 616.05 L119.07 616.34 L119.56 617.35 L120.05 616.52 L120.54 611.64 L121.03 624.52 L121.52 619.12 L122.01 615.45 L122.51 614.25 L123 617.5 L123.49 616.82 L123.98 617.2 L124.47 617.02 L124.96 616.73 L125.45 617.6 L125.94 616.59 L126.43 617.47 L126.92 619.54 L127.41 615.9 L127.9 619.3 L128.39 619.99 L128.88 616.16 L129.37 617.48 L129.86 619.67 L130.35 618.22 L130.84 611.4 L131.33 617.51 L131.82 620.01 L132.31 617.55 L132.81 621.09 L133.3 621.69 L133.79 618.95 L134.28 618.02 L134.77 619.38 L135.26 617.8 L135.75 616.81 L136.24 616.51 L136.73 619.61 L137.22 617.87 L137.71 620.98 L138.2 613.73 L138.69 619.81 L139.18 619.63 L139.67 617.98 L140.16 615.7 L140.65 619.49 L141.14 618.86 L141.63 613.35 L142.12 616.65 L142.62 619.5 L143.11 620.22 L143.6 617.73 L144.09 619.74 L144.58 619.79 L145.07 619.21 L145.56 618.09 L146.05 617.63 L146.54 621.63 L147.03 620.14 L147.52 616.2 L148.01 616.55 L148.5 624.66 L148.99 618.93 L149.48 617.12 L149.97 620.92 L150.46 622.83 L150.95 619.47 L151.44 619.78 L151.94 620.64 L152.43 618.26 L152.92 619.53 L153.41 618 L153.9 613.12 L154.39 620.26 L154.88 616.3 L155.37 618.95 L155.86 620.22 L156.35 618.46 L156.84 620.63 L157.33 620.39 L157.82 615.98 L158.31 619.28 L158.8 617.94 L159.29 620.34 L159.78 623.01 L160.27 621.74 L160.76 619.5 L161.25 619.9 L161.75 616.51 L162.24 617.81 L162.73 618.28 L163.22 619.89 L163.71 614.22 L164.2 621.2 L164.69 619.55 L165.18 620.25 L165.67 621.12 L166.16 622.71 L166.65 619.6 L167.14 621.22 L167.63 618.59 L168.12 620.95 L168.61 621.74 L169.1 618.69 L169.59 619.53 L170.08 621.59 L170.57 621.26 L171.06 621.25 L171.56 619.73 L172.05 620.37 L172.54 621.62 L173.03 619.23 L173.52 618.6 L174.01 621.08 L174.5 617.07 L174.99 617.73 L175.48 624.64 L175.97 619.19 L176.46 622.57 L176.95 618.94 L177.44 622.7 L177.93 623.39 L178.42 620.17 L178.91 621.87 L179.4 621.24 L179.89 619.25 L180.38 619.33 L180.87 617.79 L181.37 622.07 L181.86 623.32 L182.35 619.21 L182.84 620 L183.33 621.58 L183.82 622.33 L184.31 621.1 L184.8 617.92 L185.29 619.46 L185.78 618.98 L186.27 618.26 L186.76 622.67 L187.25 622.61" fill="none" stroke="#bdbdbd" stroke-width="0.6" stroke-linejoin="round"/>
<path d="M53.84 630.99 L54.33 628.66 L54.82 628.03 L55.31 628.72 L55.8 630.88 L56.29 628.75 L56.78 629.11 L57.27 626.51 L57.76 628.53 L58.25 627.09 L58.74 628 L59.23 625.92 L59.72 627.9 L60.21 629.49 L60.7 629.54 L61.19 628.05 L61.68 626.03 L62.17 630.14 L62.66 629.14 L63.15 627.1 L63.65 625.61 L64.14 626.36 L64.63 625.11 L65.12 623.21 L65.61 620.06 L66.1 621.03 L66.59 618.14 L67.08 624.55 L67.57 618.84 L68.06 619.11 L68.55 617.21 L69.04 617.55 L69.53 616.39 L70.02 614.49 L70.51 611.88 L71 609.68 L71.49 608.37 L71.98 607.85 L72.47 597.09 L72.96 598.97 L73.46 592.46 L73.95 606.26 L74.44 607.71 L74.93 608.14 L75.42 614.04 L75.91 613.21 L76.4 613.63 L76.89 612.91 L77.38 616.12 L77.87 617.08 L78.36 614 L78.85 618.73 L79.34 615.62 L79.83 612.35 L80.32 617.48 L80.81 617.94 L81.3 616.49 L81.79 616.6 L82.28 615.71 L82.77 614.15 L83.27 615.11 L83.76 612.74 L84.25 613.48 L84.74 618.19 L85.23 616.69 L85.72 615.14 L86.21 617.2 L86.7 614.29 L87.19 613.5 L87.68 615.71 L88.17 617.01 L88.66 614.16 L89.15 614.28 L89.64 618.5 L90.13 618.41 L90.62 614.89 L91.11 615.39 L91.6 615.12 L92.09 615.48 L92.58 615.2 L93.08 613.5 L93.57 614.66 L94.06 620.53 L94.55 615.22 L95.04 616.18 L95.53 616.72 L96.02 616.64 L96.51 621.81 L97 613.8 L97.49 617.89 L97.98 615.91 L98.47 615.47 L98.96 615.7 L99.45 616.1 L99.94 612.92 L100.43 616.62 L100.92 618.32 L101.41 616.52 L101.9 616.48 L102.39 615.18 L102.89 615.55 L103.38 615.15 L103.87 615.54 L104.36 618.11 L104.85 616.14 L105.34 615.86 L105.83 616.06 L106.32 615.96 L106.81 614.91 L107.3 617.23 L107.79 616.81 L108.28 620.18 L108.77 616.26 L109.26 610.69 L109.75 617.85 L110.24 616.5 L110.73 615.27 L111.22 615.22 L111.71 615.67 L112.2 614.32 L112.7 617.62 L113.19 616.6 L113.68 617.82 L114.17 615.62 L114.66 616.56 L115.15 617.91 L115.64 614.54 L116.13 616.27 L116.62 618.52 L117.11 617.62 L117.6 614.95 L118.09 616.02 L118.58 617.07 L119.07 620.26 L119.56 617.76 L120.05 621.34 L120.54 620.54 L121.03 615.27 L121.52 618.55 L122.01 615.16 L122.51 617.73 L123 615.97 L123.49 617.51 L123.98 616.53 L124.47 617.33 L124.96 618.77 L125.45 618.67 L125.94 616.75 L126.43 620.78 L126.92 616.78 L127.41 617.06 L127.9 618.38 L128.39 618.77 L128.88 620.37 L129.37 616.45 L129.86 617.74 L130.35 618.32 L130.84 616.44 L131.33 618.76 L131.82 619.49 L132.31 615.9 L132.81 618.37 L133.3 616.54 L133.79 617.06 L134.28 617.38 L134.77 615.44 L135.26 616.65 L135.75 619.3 L136.24 616.33 L136.73 617.54 L137.22 617.7 L137.71 616.47 L138.2 618.17 L138.69 617.61 L139.18 618.98 L139.67 617.08 L140.16 617.23 L140.65 619.79 L141.14 616.3 L141.63 617.74 L142.12 616.63 L142.62 616.5 L143.11 617.57 L143.6 616.57 L144.09 617.85 L144.58 618.32 L145.07 618.81 L145.56 617.72 L146.05 617.29 L146.54 617 L147.03 617.71 L147.52 618.84 L148.01 618.52 L148.5 621.08 L148.99 619.51 L149.48 615.7 L149.97 616.19 L150.46 617.05 L150.95 612.33 L151.44 616.08 L151.94 619.37 L152.43 619 L152.92 619.06 L153.41 616.52 L153.9 617.67 L154.39 620.69 L154.88 618.79 L155.37 624.39 L155.86 620.46 L156.35 617.85 L156.84 617.69 L157.33 618.97 L157.82 618.43 L158.31 615.52 L158.8 625.21 L159.29 619.75 L159.78 615.02 L160.27 623.4 L160.76 615.05 L161.25 620.71 L161.75 618.75 L162.24 616.99 L162.73 619.15 L163.22 617.36 L163.71 613.59 L164.2 617.87 L164.69 619.46 L165.18 619.32 L165.67 619.47 L166.16 619.21 L166.65 619.26 L167.14 621.07 L167.63 618.76 L168.12 619.27 L168.61 618.6 L169.1 618.2 L169.59 618.04 L170.08 618.41 L170.57 619.06 L171.06 620.89 L171.56 619.04 L172.05 617.17 L172.54 622.35 L173.03 619.95 L173.52 619.32 L174.01 618.4 L174.5 619.49 L174.99 618.6 L175.48 620.78 L175.97 618.95 L176.46 621.71 L176.95 619.66 L177.44 617.63 L177.93 616.78 L178.42 618.22 L178.91 618.91 L179.4 617.83 L179.89 621.08 L180.38 622.55 L180.87 622.09 L181.37 616.31 L181.86 619.74 L182.35 623.66 L182.84 621.79 L183.33 620.34 L183.82 620.72 L184.31 619.65 L184.8 620.5 L185.29 621.54 L185.78 618.09 L186.27 620.23 L186.76 623.26 L187.25 620.44" fill="none" stroke="#bdbdbd" stroke-width="0.6" stroke-linejoin="round"/>
<path d="M53.84 629.47 L54.33 626.98 L54.82 629.63 L55.31 626.12 L55.8 628.29 L56.29 630.01 L56.78 629.06 L57.27 626.79 L57.76 630.67 L58.25 629.94 L58.74 624.59 L59.23 629.28 L59.72 625.19 L60.21 629.09 L60.7 628.44 L61.19 628.51 L61.68 627.52 L62.17 628.27 L62.66 627.2 L63.15 626.74 L63.65 625.15 L64.14 625.39 L64.63 625.18 L65.12 622.48 L65.61 622.62 L66.1 626.49 L66.59 622.16 L67.08 618.77 L67.57 621.73 L68.06 620.15 L68.55 618.07 L69.04 616.31 L69.53 617.11 L70.02 615.3 L70.51 610.25 L71 611.56 L71.49 607.94 L71.98 603.48 L72.47 604.29 L72.96 596.33 L73.46 601.42 L73.95 604.05 L74.44 607.14 L74.93 610.52 L75.42 611.75 L75.91 615.92 L76.4 618.68 L76.89 615.81 L77.38 616.38 L77.87 615.23 L78.36 616.86 L78.85 615.69 L79.34 611.92 L79.83 619.77 L80.32 613.51 L80.81 618.36 L81.3 618.11 L81.79 616.21 L82.28 610.54 L82.77 614.91 L83.27 617.14 L83.76 612.89 L84.25 617.03 L84.74 615.04 L85.23 616.68 L85.72 617.42 L86.21 615.03 L86.7 617.69 L87.19 617.92 L87.68 614.21 L88.17 614.71 L88.66 613.42 L89.15 614.09 L89.64 616.57 L90.13 616.56 L90.62 618.4 L91.11 615.43 L91.6 616.3 L92.09 616.13 L92.58 615.05 L93.08 614.49 L93.57 613.91 L94.06 616.29 L94.55 617.6 L95.04 615.02 L95.53 615.02 L96.02 613.43 L96.51 618.49 L97 615.9 L97.49 617.45 L97.98 617.29 L98.47 615.32 L98.96 615.21 L99.45 617.31 L99.94 616.49 L100.43 617.64 L100.92 614.22 L101.41 616.74 L101.9 616.66 L102.39 614.51 L102.89 615.45 L103.38 615.34 L103.87 618.3 L104.36 614.41 L104.85 614.55 L105.34 614.14 L105.83 617.07 L106.32 617.21 L106.81 618.14 L107.3 616.52 L107.79 616.21 L108.28 617.67 L108.77 618.89 L109.26 619.86 L109.75 614.26 L110.24 616.08 L110.73 618.46 L111.22 616.86 L111.71 618.23 L112.2 617.71 L112.7 617.24 L113.19 618.52 L113.68 610.63 L114.17 617.26 L114.66 617.74 L115.15 618.12 L115.64 615.1 L116.13 617.89 L116.62 615.42 L117.11 616.93 L117.6 617.96 L118.09 617.13 L118.58 617.09 L119.07 618.78 L119.56 617.14 L120.05 618.47 L120.54 618.83 L121.03 616.96 L121.52 617.2 L122.01 616.41 L122.51 616.9 L123 615.94 L123.49 615.39 L123.98 614.82 L124.47 617.45 L124.96 618.63 L125.45 617.58 L125.94 620.72 L126.43 617.72 L126.92 617.52 L127.41 614.9 L127.9 620.01 L128.39 618.66 L128.88 618.22 L129.37 619.71 L129.86 617.06 L130.35 619.53 L130.84 621.57 L131.33 617.32 L131.82 618.57 L132.31 617.78 L132.81 615.41 L133.3 615.36 L133.79 621.03 L134.28 620.09 L134.77 617.75 L135.26 619.78 L135.75 622.01 L136.24 616.78 L136.73 619.42 L137.22 617.84 L137.71 617.45 L138.2 619.24 L138.69 623.24 L139.18 619.39 L139.67 617.22 L140.16 619.23 L140.65 618.22 L141.14 618.95 L141.63 617.08 L142.12 619.95 L142.62 619.49 L143.11 620.32 L143.6 618.33 L144.09 622.81 L144.58 617.53 L145.07 620.04 L145.56 616.93 L146.05 614.2 L146.54 620.21 L147.03 617.5 L147.52 619.53 L148.01 620.88 L148.5 619.59 L148.99 618.04 L149.48 617.81 L149.97 620.8 L150.46 620.14 L150.95 620.4 L151.44 619.46 L151.94 612.53 L152.43 620.63 L152.92 615.36 L153.41 617.35 L153.9 619.85 L154.39 617.9 L154.88 619.27 L155.37 617.8 L155.86 617.67 L156.35 620.19 L156.84 618.9 L157.33 623.02 L157.82 619.39 L158.31 620.14 L158.8 620.05 L159.29 619.1 L159.78 618.78 L160.27 618.93 L160.76 619.34 L161.25 615.78 L161.75 619.99 L162.24 619.11 L162.73 625.67 L163.22 617.71 L163.71 620.09 L164.2 620.15 L164.69 621.34 L165.18 621.06 L165.67 618.15 L166.16 619.93 L166.65 619.31 L167.14 615.83 L167.63 619.37 L168.12 618.99 L168.61 619.88 L169.1 620.37 L169.59 618.35 L170.08 619.58 L170.57 622.81 L171.06 619.05 L171.56 622.76 L172.05 617.87 L172.54 620.78 L173.03 620.35 L173.52 620.13 L174.01 620.23 L174.5 620.28 L174.99 620.16 L175.48 621.09 L175.97 621.85 L176.46 616.69 L176.95 621.15 L177.44 620.84 L177.93 618.99 L178.42 619.64 L178.91 622.82 L179.4 620.84 L179.89 621.57 L180.38 621.06 L180.87 620.98 L181.37 623.77 L181.86 617.21 L182.35 623.36 L182.84 621.94 L183.33 619.98 L183.82 620.83 L184.31 620.72 L184.8 619.91 L185.29 620.81 L185.78 621.78 L186.27 619.3 L186.76 619.73 L187.25 621.4" fill="none" stroke="#bdbdbd" stroke-width="0.6" stroke-linejoin="round"/>
<path d="M53.84 629.55 L54.33 630.28 L54.82 627.73 L55.31 631.38 L55.8 627.78 L56.29 629.3 L56.78 628.45 L57.27 628.78 L57.76 629.01 L58.25 628.62 L58.74 629.35 L59.23 626.06 L59.72 628.85 L60.21 627.71 L60.7 630.34 L61.19 628.26 L61.68 627.85 L62.17 627.28 L62.66 624.59 L63.15 622.99 L63.65 623.61 L64.14 620.53 L64.63 620.55 L65.12 616.22 L65.61 617.9 L66.1 610.9 L66.59 616.42 L67.08 614.16 L67.57 614.21 L68.06 608.93 L68.55 611.6 L69.04 610.43 L69.53 607.21 L70.02 605.53 L70.51 600.09 L71 598.68 L71.49 592.47 L71.98 585.23 L72.47 581.17 L72.96 572.29 L73.46 571.3 L73.95 588.81 L74.44 593.12 L74.93 600.37 L75.42 602.64 L75.91 605.53 L76.4 606.88 L76.89 603.27 L77.38 605.96 L77.87 605 L78.36 604.36 L78.85 606.85 L79.34 610.65 L79.83 605.58 L80.32 604.98 L80.81 605.06 L81.3 603.98 L81.79 605.21 L82.28 605.98 L82.77 606.54 L83.27 607.62 L83.76 606.93 L84.25 606.26 L84.74 605.25 L85.23 606.74 L85.72 608.27 L86.21 607.49 L86.7 607.03 L87.19 603.31 L87.68 606.51 L88.17 605.63 L88.66 602.03 L89.15 607.89 L89.64 607.09 L90.13 607.36 L90.62 608.68 L91.11 604.31 L91.6 606.33 L92.09 606.14 L92.58 605.96 L93.08 605.47 L93.57 611.55 L94.06 606.07 L94.55 606.94 L95.04 607.19 L95.53 606.76 L96.02 609.96 L96.51 607.69 L97 607.25 L97.49 603.23 L97.98 609.02 L98.47 607.61 L98.96 604.99 L99.45 602.37 L99.94 606.44 L100.43 608.09 L100.92 606.48 L101.41 613.39 L101.9 607.41 L102.39 607.97 L102.89 610.59 L103.38 607.49 L103.87 607.87 L104.36 607.5 L104.85 606.69 L105.34 608.22 L105.83 606.57 L106.32 608.87 L106.81 610.33 L107.3 609.49 L107.79 608.64 L108.28 604.99 L108.77 609.57 L109.26 608.2 L109.75 608.1 L110.24 608.02 L110.73 608.98 L111.22 607.95 L111.71 606.71 L112.2 609.69 L112.7 605.56 L113.19 607.83 L113.68 607.64 L114.17 609.61 L114.66 613.57 L115.15 609.3 L115.64 608.7 L116.13 610.48 L116.62 607.39 L117.11 609.96 L117.6 609.1 L118.09 610.34 L118.58 608.97 L119.07 609.52 L119.56 611.23 L120.05 608.25 L120.54 609.25 L121.03 610.99 L121.52 606.8 L122.01 613.04 L122.51 611.84 L123 610.74 L123.49 610.29 L123.98 610.69 L124.47 608.79 L124.96 609.84 L125.45 608.93 L125.94 612.02 L126.43 609.13 L126.92 610.64 L127.41 607.81 L127.9 611.43 L128.39 610.5 L128.88 611.28 L129.37 609.62 L129.86 609.82 L130.35 612.09 L130.84 611.93 L131.33 610.26 L131.82 610.64 L132.31 613.14 L132.81 610.35 L133.3 612.94 L133.79 607.88 L134.28 612.05 L134.77 613.39 L135.26 612.98 L135.75 610.72 L136.24 612.42 L136.73 611.27 L137.22 612.17 L137.71 610.94 L138.2 611.6 L138.69 614.61 L139.18 609.66 L139.67 610.29 L140.16 609.8 L140.65 609.54 L141.14 615.41 L141.63 612.53 L142.12 611.3 L142.62 609.46 L143.11 609.66 L143.6 609.9 L144.09 612.54 L144.58 612.02 L145.07 612.72 L145.56 609.79 L146.05 611.59 L146.54 616.11 L147.03 612.67 L147.52 609.7 L148.01 612.88 L148.5 610.97 L148.99 611.52 L149.48 611.91 L149.97 612.62 L150.46 612.36 L150.95 609.71 L151.44 612.92 L151.94 612.39 L152.43 613.03 L152.92 610.26 L153.41 611.47 L153.9 612.39 L154.39 612.43 L154.88 615.73 L155.37 612.8 L155.86 613.71 L156.35 612.83 L156.84 611.47 L157.33 610.31 L157.82 608.27 L158.31 613.85 L158.8 611.14 L159.29 612.54 L159.78 611.91 L160.27 612.85 L160.76 614.31 L161.25 614.62 L161.75 611.9 L162.24 610.54 L162.73 611.89 L163.22 614.78 L163.71 615.32 L164.2 613.13 L164.69 615.02 L165.18 614.92 L165.67 612.88 L166.16 614.88 L166.65 615.48 L167.14 613.76 L167.63 615.77 L168.12 614.29 L168.61 614.65 L169.1 615.26 L169.59 616.4 L170.08 614.16 L170.57 613.64 L171.06 614.66 L171.56 612.49 L172.05 613.81 L172.54 613.15 L173.03 613.62 L173.52 613.53 L174.01 615.62 L174.5 612.82 L174.99 614.57 L175.48 616.84 L175.97 614.11 L176.46 616.73 L176.95 618.78 L177.44 613.94 L177.93 616.72 L178.42 614.01 L178.91 614.1 L179.4 616.4 L179.89 614.33 L180.38 617.41 L180.87 614.59 L181.37 609.21 L181.86 615.33 L182.35 611.74 L182.84 621.28 L183.33 613.48 L183.82 615.45 L184.31 616.97 L184.8 612.07 L185.29 616.98 L185.78 614.57 L186.27 614.25 L186.76 617.01 L187.25 615.86" fill="none" stroke="#bdbdbd" stroke-width="0.6" stroke-linejoin="round"/>
<path d="M53.84 628.54 L54.33 626.32 L54.82 627.83 L55.31 625.02 L55.8 628.91 L56.29 628.58 L56.78 627.6 L57.27 629.54 L57.76 628.81 L58.25 630.7 L58.74 626.72 L59.23 625.88 L59.72 628.35 L60.21 629.52 L60.7 628.32 L61.19 629.17 L61.68 629.99 L62.17 627.81 L62.66 626.3 L63.15 624.53 L63.65 622.11 L64.14 623.16 L64.63 618.38 L65.12 617.07 L65.61 617.15 L66.1 618.64 L66.59 617.08 L67.08 617.59 L67.57 614.91 L68.06 611.56 L68.55 612.05 L69.04 609.66 L69.53 609.95 L70.02 610.34 L70.51 604.72 L71 603.07 L71.49 604.12 L71.98 597.9 L72.47 595.88 L72.96 588.73 L73.46 592.1 L73.95 596.87 L74.44 601.26 L74.93 604.32 L75.42 604.34 L75.91 602.58 L76.4 605.73 L76.89 607.38 L77.38 606.57 L77.87 604.84 L78.36 606.93 L78.85 606.18 L79.34 605.14 L79.83 608.32 L80.32 608.52 L80.81 606.62 L81.3 603.95 L81.79 611.32 L82.28 607.27 L82.77 606.83 L83.27 605.15 L83.76 605.76 L84.25 604.43 L84.74 606.35 L85.23 607.33 L85.72 606.47 L86.21 606.8 L86.7 607.69 L87.19 606.93 L87.68 607.06 L88.17 607.94 L88.66 607.66 L89.15 607.54 L89.64 604.48 L90.13 606.78 L90.62 605.27 L91.11 607.36 L91.6 608.56 L92.09 608.74 L92.58 607.29 L93.08 608.51 L93.57 603.74 L94.06 606.89 L94.55 603.65 L95.04 606.79 L95.53 608.83 L96.02 607.27 L96.51 607.38 L97 607.24 L97.49 606.24 L97.98 606.78 L98.47 606.39 L98.96 607.02 L99.45 608.58 L99.94 606.43 L100.43 607.69 L100.92 613.47 L101.41 609.31 L101.9 607.07 L102.39 610.64 L102.89 607.97 L103.38 608.13 L103.87 607.62 L104.36 605.67 L104.85 609.41 L105.34 607.94 L105.83 603.06 L106.32 610.57 L106.81 606.57 L107.3 607.8 L107.79 609.03 L108.28 607.09 L108.77 609.21 L109.26 606.97 L109.75 609.31 L110.24 609.45 L110.73 608.92 L111.22 608.34 L111.71 609.38 L112.2 610.54 L112.7 609.81 L113.19 605.18 L113.68 608.24 L114.17 609.74 L114.66 607.95 L115.15 604.58 L115.64 610.04 L116.13 609.74 L116.62 609.69 L117.11 607.6 L117.6 609.82 L118.09 610.36 L118.58 611.86 L119.07 614.26 L119.56 611.59 L120.05 608.51 L120.54 613.65 L121.03 611.51 L121.52 611.23 L122.01 609.23 L122.51 611.46 L123 613.31 L123.49 610.34 L123.98 612.59 L124.47 609.49 L124.96 611.17 L125.45 610.96 L125.94 609.17 L126.43 609.3 L126.92 612.36 L127.41 611.53 L127.9 611.08 L128.39 609.4 L128.88 608.83 L129.37 612.15 L129.86 608.35 L130.35 611.07 L130.84 610.8 L131.33 608.09 L131.82 614.22 L132.31 610.96 L132.81 609.17 L133.3 611.49 L133.79 611.77 L134.28 613.78 L134.77 610.63 L135.26 612.7 L135.75 612.81 L136.24 610.56 L136.73 610.33 L137.22 608.14 L137.71 610.88 L138.2 610.92 L138.69 613.44 L139.18 612.21 L139.67 611.29 L140.16 609.92 L140.65 612.76 L141.14 611.65 L141.63 613.54 L142.12 612.31 L142.62 611.42 L143.11 612.09 L143.6 609.94 L144.09 611.09 L144.58 610.97 L145.07 610.71 L145.56 612.38 L146.05 610.59 L146.54 606.47 L147.03 610.69 L147.52 618.65 L148.01 612.22 L148.5 614.54 L148.99 614.14 L149.48 612.65 L149.97 613.66 L150.46 611.03 L150.95 617.5 L151.44 612.72 L151.94 614.66 L152.43 609.05 L152.92 611.62 L153.41 612.99 L153.9 611.47 L154.39 612.46 L154.88 613.8 L155.37 612.9 L155.86 613.93 L156.35 613.8 L156.84 606.92 L157.33 613.68 L157.82 611.13 L158.31 614.89 L158.8 614.88 L159.29 614.33 L159.78 614.69 L160.27 614.63 L160.76 616.76 L161.25 615.17 L161.75 612.3 L162.24 613.65 L162.73 611.99 L163.22 614.44 L163.71 616.32 L164.2 610.44 L164.69 614.93 L165.18 616.6 L165.67 613.69 L166.16 613.34 L166.65 614.43 L167.14 616.74 L167.63 615.07 L168.12 615.04 L168.61 613.29 L169.1 613.67 L169.59 613.74 L170.08 613.39 L170.57 615.08 L171.06 613.43 L171.56 614.13 L172.05 617.87 L172.54 613.64 L173.03 614.36 L173.52 612.12 L174.01 614.32 L174.5 615.11 L174.99 616.86 L175.48 614.57 L175.97 615.81 L176.46 612.27 L176.95 614.28 L177.44 614.75 L177.93 614.02 L178.42 611.49 L178.91 616.06 L179.4 615.99 L179.89 617.04 L180.38 618.19 L180.87 614.88 L181.37 616.84 L181.86 616.75 L182.35 612.93 L182.84 615.54 L183.33 614.67 L183.82 615.96 L184.31 617.21 L184.8 618.49 L185.29 614.92 L185.78 615.38 L186.27 616.09 L186.76 616.36 L187.25 611.25" fill="none" stroke="#bdbdbd" stroke-width="0.6" stroke-linejoin="round"/>
<path d="M53.84 627.43 L54.33 629.9 L54.82 629.39 L55.31 630.42 L55.8 623.28 L56.29 628.64 L56.78 629.59 L57.27 627.2 L57.76 630.15 L58.25 625.52 L58.74 630.21 L59.23 627.84 L59.72 629.43 L60.21 631.07 L60.7 628.6 L61.19 626.9 L61.68 628.67 L62.17 626.9 L62.66 627.26 L63.15 625.03 L63.65 626.68 L64.14 623.21 L64.63 620.84 L65.12 616.8 L65.61 620.03 L66.1 616.51 L66.59 616.46 L67.08 614.28 L67.57 612.16 L68.06 613.07 L68.55 613.48 L69.04 613.95 L69.53 612.06 L70.02 609.13 L70.51 608.4 L71 601.02 L71.49 600 L71.98 599.94 L72.47 598.41 L72.96 601.73 L73.46 588.63 L73.95 592.17 L74.44 602.73 L74.93 606.88 L75.42 609.71 L75.91 604.74 L76.4 608.56 L76.89 607.21 L77.38 602.93 L77.87 607.66 L78.36 605.85 L78.85 606.34 L79.34 605.06 L79.83 609.07 L80.32 605.42 L80.81 609.1 L81.3 606.51 L81.79 608.57 L82.28 609.36 L82.77 608.35 L83.27 602.82 L83.76 609.77 L84.25 607.07 L84.74 608.91 L85.23 608.49 L85.72 609.62 L86.21 608.74 L86.7 607.63 L87.19 608.5 L87.68 608.22 L88.17 610.24 L88.66 609.37 L89.15 609.75 L89.64 609.24 L90.13 609.05 L90.62 607.52 L91.11 609.39 L91.6 609.19 L92.09 606.49 L92.58 608.04 L93.08 610.67 L93.57 609.71 L94.06 608.77 L94.55 609.12 L95.04 608.73 L95.53 608.67 L96.02 608.23 L96.51 610.41 L97 607.7 L97.49 609.04 L97.98 610.68 L98.47 607.28 L98.96 610.82 L99.45 610.5 L99.94 607.57 L100.43 609.21 L100.92 608.4 L101.41 609.59 L101.9 608.19 L102.39 609.92 L102.89 607.9 L103.38 611.04 L103.87 608.14 L104.36 610.31 L104.85 609.52 L105.34 611.01 L105.83 603.89 L106.32 609.44 L106.81 611.78 L107.3 607.99 L107.79 612.38 L108.28 607.88 L108.77 609.67 L109.26 609.5 L109.75 611.4 L110.24 609.55 L110.73 608.4 L111.22 606.2 L111.71 608.28 L112.2 613.5 L112.7 610.75 L113.19 611.36 L113.68 610.67 L114.17 608.51 L114.66 611.33 L115.15 609.42 L115.64 611.11 L116.13 610.24 L116.62 609.1 L117.11 609.43 L117.6 612.99 L118.09 608 L118.58 608.86 L119.07 611.28 L119.56 612.37 L120.05 611.15 L120.54 611.64 L121.03 610.7 L121.52 612.85 L122.01 611.65 L122.51 607.38 L123 614.95 L123.49 609.67 L123.98 609.53 L124.47 610.42 L124.96 608.3 L125.45 611.31 L125.94 607.5 L126.43 612.81 L126.92 612.74 L127.41 611.58 L127.9 609.82 L128.39 611.54 L128.88 613.33 L129.37 611.88 L129.86 612.6 L130.35 613.72 L130.84 614.57 L131.33 613.61 L131.82 610.57 L132.31 610.36 L132.81 614.76 L133.3 610.65 L133.79 612.5 L134.28 611.83 L134.77 612.91 L135.26 612.02 L135.75 611.85 L136.24 614.2 L136.73 607.95 L137.22 611.63 L137.71 613.51 L138.2 615.02 L138.69 612.96 L139.18 613.86 L139.67 612.78 L140.16 613.84 L140.65 611.65 L141.14 616.85 L141.63 611.26 L142.12 611.68 L142.62 612.86 L143.11 614.96 L143.6 614.54 L144.09 615.03 L144.58 613.28 L145.07 615.31 L145.56 614.81 L146.05 612.75 L146.54 614.73 L147.03 612.6 L147.52 613.39 L148.01 613.52 L148.5 615.57 L148.99 613.14 L149.48 610.84 L149.97 613.56 L150.46 619.62 L150.95 613.65 L151.44 614.04 L151.94 611.76 L152.43 614.87 L152.92 613.41 L153.41 613.7 L153.9 614.76 L154.39 614.59 L154.88 618.47 L155.37 613.54 L155.86 616.39 L156.35 616.03 L156.84 615.29 L157.33 612.37 L157.82 615.57 L158.31 615.64 L158.8 613.04 L159.29 614.32 L159.78 615.58 L160.27 611.38 L160.76 616.04 L161.25 613.7 L161.75 613.94 L162.24 615.15 L162.73 614.67 L163.22 614.44 L163.71 613.98 L164.2 616.23 L164.69 615.27 L165.18 615.04 L165.67 616.08 L166.16 614.56 L166.65 615.82 L167.14 615.09 L167.63 614.15 L168.12 616.84 L168.61 614.57 L169.1 614.3 L169.59 616.48 L170.08 613.88 L170.57 615.94 L171.06 615.84 L171.56 615 L172.05 616.34 L172.54 617.41 L173.03 615.33 L173.52 614.77 L174.01 613.7 L174.5 613.35 L174.99 615.14 L175.48 615.36 L175.97 613.46 L176.46 616.46 L176.95 616.42 L177.44 616.77 L177.93 612.85 L178.42 615.09 L178.91 618.27 L179.4 616.35 L179.89 615.8 L180.38 617.59 L180.87 618.65 L181.37 615.13 L181.86 617.32 L182.35 619.09 L182.84 618.61 L183.33 618.25 L183.82 617.7 L184.31 614.32 L184.8 616.36 L185.29 615.57 L185.78 616 L186.27 615.33 L186.76 615.87 L187.25 614.5" fill="none" stroke="#bdbdbd" stroke-width="0.6" stroke-linejoin="round"/>
<path d="M53.84 630.41 L54.33 628.3 L54.82 628.99 L55.31 624.01 L55.8 628.07 L56.29 628.49 L56.78 627.33 L57.27 631.23 L57.76 626.89 L58.25 625.99 L58.74 628.83 L59.23 627.7 L59.72 628.05 L60.21 627.45 L60.7 628.49 L61.19 627.17 L61.68 629.84 L62.17 632.14 L62.66 624.5 L63.15 621.28 L63.65 617.31 L64.14 615.4 L64.63 616.38 L65.12 605.46 L65.61 610.41 L66.1 606.93 L66.59 609.06 L67.08 604.54 L67.57 606.47 L68.06 603.18 L68.55 602.25 L69.04 601.59 L69.53 599.64 L70.02 596.59 L70.51 597.15 L71 591.66 L71.49 583.77 L71.98 582.25 L72.47 577.31 L72.96 570.84 L73.46 573.28 L73.95 579.37 L74.44 592.52 L74.93 598.82 L75.42 594.3 L75.91 597.66 L76.4 595.59 L76.89 599.7 L77.38 598.93 L77.87 598.04 L78.36 597.77 L78.85 599.32 L79.34 596.08 L79.83 599.28 L80.32 597.23 L80.81 595.81 L81.3 598.16 L81.79 598.1 L82.28 597.07 L82.77 597.03 L83.27 596.55 L83.76 597.42 L84.25 598.92 L84.74 598.24 L85.23 599.97 L85.72 599.13 L86.21 600.9 L86.7 595.42 L87.19 598.49 L87.68 599.33 L88.17 597.81 L88.66 597.86 L89.15 598.02 L89.64 596.21 L90.13 597.63 L90.62 599.07 L91.11 601.09 L91.6 597.84 L92.09 600.01 L92.58 600.13 L93.08 600.08 L93.57 599.22 L94.06 596.26 L94.55 601.05 L95.04 601.17 L95.53 598.39 L96.02 602.75 L96.51 601.59 L97 597.2 L97.49 601.14 L97.98 599.87 L98.47 604.56 L98.96 599.06 L99.45 600.52 L99.94 599.43 L100.43 600.5 L100.92 597.34 L101.41 599.07 L101.9 599.04 L102.39 599.96 L102.89 603.7 L103.38 602.38 L103.87 603.62 L104.36 600.85 L104.85 599.05 L105.34 603.22 L105.83 598.18 L106.32 600.64 L106.81 600.36 L107.3 599.34 L107.79 602.95 L108.28 599.28 L108.77 601.64 L109.26 599.66 L109.75 598.25 L110.24 599.75 L110.73 599.44 L111.22 601.03 L111.71 604.39 L112.2 600.54 L112.7 603.28 L113.19 604.7 L113.68 604.12 L114.17 601.66 L114.66 600.13 L115.15 603.58 L115.64 606.04 L116.13 607.46 L116.62 602.41 L117.11 601.19 L117.6 603.47 L118.09 601.35 L118.58 603.33 L119.07 604.23 L119.56 601.42 L120.05 601.91 L120.54 601.29 L121.03 601.78 L121.52 601.94 L122.01 601.94 L122.51 605.65 L123 603.14 L123.49 602.95 L123.98 602.15 L124.47 601.86 L124.96 603.85 L125.45 605.48 L125.94 605.66 L126.43 602.52 L126.92 604.05 L127.41 605.8 L127.9 606.57 L128.39 603.71 L128.88 604.36 L129.37 604.44 L129.86 606.5 L130.35 601.05 L130.84 604.56 L131.33 603.93 L131.82 604.98 L132.31 605.22 L132.81 603.94 L133.3 604 L133.79 605.37 L134.28 602.7 L134.77 603.28 L135.26 601.3 L135.75 608.68 L136.24 605.32 L136.73 603.94 L137.22 602.73 L137.71 604.88 L138.2 605.99 L138.69 604.55 L139.18 604.36 L139.67 610.21 L140.16 605.76 L140.65 606 L141.14 606.34 L141.63 608.64 L142.12 609.3 L142.62 605.97 L143.11 606.98 L143.6 608.11 L144.09 607.65 L144.58 609.98 L145.07 608.5 L145.56 611.17 L146.05 606.4 L146.54 605.38 L147.03 605.27 L147.52 606.21 L148.01 609.13 L148.5 606.86 L148.99 607.77 L149.48 605.76 L149.97 606.16 L150.46 608 L150.95 608.59 L151.44 610.67 L151.94 609.01 L152.43 610.81 L152.92 607.99 L153.41 610.26 L153.9 608.98 L154.39 608.28 L154.88 606.4 L155.37 609.39 L155.86 605.09 L156.35 606.23 L156.84 609.04 L157.33 605.09 L157.82 607.7 L158.31 610.02 L158.8 614.8 L159.29 608.98 L159.78 607.93 L160.27 609.2 L160.76 610.35 L161.25 606.6 L161.75 609.82 L162.24 611.4 L162.73 609.2 L163.22 608.15 L163.71 610.73 L164.2 606.67 L164.69 608.33 L165.18 606.54 L165.67 611.08 L166.16 609.28 L166.65 610.95 L167.14 610.88 L167.63 607.24 L168.12 609.15 L168.61 608.96 L169.1 608.48 L169.59 608.57 L170.08 612.3 L170.57 609.98 L171.06 608.02 L171.56 610.49 L172.05 609.6 L172.54 609.35 L173.03 609.3 L173.52 613.08 L174.01 610.76 L174.5 611.25 L174.99 610.64 L175.48 609.31 L175.97 609.95 L176.46 609.77 L176.95 610.17 L177.44 610.13 L177.93 610.73 L178.42 608.7 L178.91 609.75 L179.4 612.35 L179.89 611.35 L180.38 612.78 L180.87 610.39 L181.37 611.07 L181.86 613.17 L182.35 607.67 L182.84 612.48 L183.33 612.99 L183.82 612.28 L184.31 611.27 L184.8 609.49 L185.29 612.45 L185.78 614.15 L186.27 611.6 L186.76 613.1 L187.25 610.6" fill="none" stroke="#bdbdbd" stroke-width="0.6" stroke-linejoin="round"/>
<path d="M53.84 629.15 L54.33 628.82 L54.82 631.44 L55.31 626.94 L55.8 628.88 L56.29 629.76 L56.78 626.55 L57.27 629.34 L57.76 627.54 L58.25 628.53 L58.74 628.72 L59.23 629.58 L59.72 627.49 L60.21 630.35 L60.7 627.86 L61.19 630.85 L61.68 633.85 L62.17 627.82 L62.66 624.2 L63.15 621.62 L63.65 619.08 L64.14 616.19 L64.63 610.45 L65.12 615.65 L65.61 609.47 L66.1 608.07 L66.59 607.39 L67.08 606.19 L67.57 606.99 L68.06 605.1 L68.55 600.32 L69.04 604.5 L69.53 598.58 L70.02 594.95 L70.51 596.05 L71 597.57 L71.49 599.76 L71.98 595.81 L72.47 595.71 L72.96 585.22 L73.46 587.29 L73.95 590.67 L74.44 593.45 L74.93 599.51 L75.42 597.15 L75.91 600.24 L76.4 598.11 L76.89 598.4 L77.38 598.38 L77.87 597.09 L78.36 598.55 L78.85 592.77 L79.34 598.03 L79.83 596.43 L80.32 597.04 L80.81 600.06 L81.3 598.55 L81.79 594.75 L82.28 593.98 L82.77 599.08 L83.27 598.88 L83.76 600.63 L84.25 600.72 L84.74 598.84 L85.23 597.28 L85.72 598.25 L86.21 599.08 L86.7 598.6 L87.19 599.38 L87.68 593.85 L88.17 596.2 L88.66 599.54 L89.15 599.58 L89.64 599.31 L90.13 601.36 L90.62 600.01 L91.11 600.22 L91.6 599.27 L92.09 601.62 L92.58 600.87 L93.08 600.51 L93.57 601.11 L94.06 598.97 L94.55 600.77 L95.04 600.95 L95.53 599.38 L96.02 599.98 L96.51 599.73 L97 601.98 L97.49 600.62 L97.98 598.88 L98.47 600.52 L98.96 602.46 L99.45 599.18 L99.94 603.57 L100.43 595.82 L100.92 600.11 L101.41 601.42 L101.9 601.92 L102.39 602.01 L102.89 603.02 L103.38 601.34 L103.87 601.01 L104.36 599.8 L104.85 602.36 L105.34 602.75 L105.83 601.77 L106.32 601.8 L106.81 601.76 L107.3 603.07 L107.79 603.11 L108.28 598.02 L108.77 602.64 L109.26 602.48 L109.75 602.15 L110.24 602.56 L110.73 602.53 L111.22 603.18 L111.71 602.64 L112.2 601.07 L112.7 599.33 L113.19 604.45 L113.68 601.5 L114.17 603.18 L114.66 602.21 L115.15 602.58 L115.64 604.46 L116.13 604.12 L116.62 600.87 L117.11 603.85 L117.6 606.18 L118.09 602.79 L118.58 602.75 L119.07 604.35 L119.56 602.46 L120.05 601.34 L120.54 604.97 L121.03 602.47 L121.52 602.24 L122.01 603.4 L122.51 601.94 L123 604.7 L123.49 604.13 L123.98 605.78 L124.47 599.64 L124.96 603.42 L125.45 603.71 L125.94 600.66 L126.43 604.32 L126.92 601.11 L127.41 602.56 L127.9 603.36 L128.39 606.08 L128.88 606.06 L129.37 601.25 L129.86 602 L130.35 603.07 L130.84 605.42 L131.33 602.35 L131.82 605.06 L132.31 606.21 L132.81 605 L133.3 607.98 L133.79 605.63 L134.28 604.87 L134.77 607.21 L135.26 602.71 L135.75 605.19 L136.24 605.16 L136.73 602.35 L137.22 606.19 L137.71 609.43 L138.2 604.98 L138.69 606.66 L139.18 607.67 L139.67 604.01 L140.16 606.72 L140.65 607.53 L141.14 607.33 L141.63 606.36 L142.12 606.16 L142.62 603.06 L143.11 606.93 L143.6 604.61 L144.09 606.42 L144.58 608.41 L145.07 606.87 L145.56 609.06 L146.05 604.4 L146.54 606.28 L147.03 605.45 L147.52 606.56 L148.01 604.37 L148.5 606.92 L148.99 611.97 L149.48 607.54 L149.97 609.25 L150.46 607.78 L150.95 607.06 L151.44 610.12 L151.94 608.39 L152.43 609.79 L152.92 613.13 L153.41 601.79 L153.9 607.09 L154.39 607.59 L154.88 608.28 L155.37 608.14 L155.86 606.58 L156.35 609.46 L156.84 607.51 L157.33 607.39 L157.82 608.64 L158.31 606.94 L158.8 606.61 L159.29 607.67 L159.78 609.11 L160.27 607.33 L160.76 609.78 L161.25 608.49 L161.75 606.96 L162.24 607.42 L162.73 609.24 L163.22 610.24 L163.71 607.49 L164.2 608.9 L164.69 606.46 L165.18 611.52 L165.67 608.86 L166.16 608.95 L166.65 609.22 L167.14 609.39 L167.63 611.45 L168.12 613.05 L168.61 604.92 L169.1 608.89 L169.59 610.95 L170.08 609.96 L170.57 609.01 L171.06 613.72 L171.56 610.35 L172.05 610.48 L172.54 611.22 L173.03 610.59 L173.52 609.26 L174.01 612.35 L174.5 611.58 L174.99 610.88 L175.48 609.13 L175.97 612.66 L176.46 612.65 L176.95 607.34 L177.44 611.34 L177.93 611.78 L178.42 612.19 L178.91 610.11 L179.4 610.85 L179.89 609.4 L180.38 611.5 L180.87 613.09 L181.37 611.07 L181.86 616.54 L182.35 614.42 L182.84 615.09 L183.33 615.02 L183.82 608.99 L184.31 615.23 L184.8 611.33 L185.29 612.81 L185.78 613.43 L186.27 612.62 L186.76 611.37 L187.25 615.03" fill="none" stroke="#bdbdbd" stroke-width="0.6" stroke-linejoin="round"/>
<path d="M53.84 626.7 L54.33 626.77 L54.82 627.02 L55.31 628.15 L55.8 627.23 L56.29 627.81 L56.78 627.22 L57.27 628.19 L57.76 629.59 L58.25 633.69 L58.74 630 L59.23 626.26 L59.72 628.06 L60.21 630.1 L60.7 629.6 L61.19 633.1 L61.68 629.99 L62.17 631.02 L62.66 625.34 L63.15 618.56 L63.65 616.03 L64.14 614.55 L64.63 613.24 L65.12 609.86 L65.61 608.16 L66.1 605.03 L66.59 604.74 L67.08 603.56 L67.57 602.11 L68.06 602.32 L68.55 599.92 L69.04 600.08 L69.53 599.05 L70.02 593.9 L70.51 595.52 L71 591.53 L71.49 592.5 L71.98 593.4 L72.47 585.99 L72.96 586.91 L73.46 584.11 L73.95 584.44 L74.44 594.53 L74.93 595.27 L75.42 594.7 L75.91 595.96 L76.4 597.91 L76.89 596.63 L77.38 596.99 L77.87 594.72 L78.36 594.6 L78.85 593.62 L79.34 593.65 L79.83 599.65 L80.32 592.73 L80.81 598.33 L81.3 596.43 L81.79 596.68 L82.28 595.16 L82.77 595.82 L83.27 600.52 L83.76 596.64 L84.25 594.19 L84.74 598.5 L85.23 596.42 L85.72 595.99 L86.21 598.17 L86.7 598.12 L87.19 597.05 L87.68 597.98 L88.17 598.23 L88.66 598.37 L89.15 598 L89.64 599.63 L90.13 597.8 L90.62 598.14 L91.11 598.24 L91.6 599.31 L92.09 598.11 L92.58 598.75 L93.08 599.22 L93.57 598.94 L94.06 597.32 L94.55 599.34 L95.04 602.94 L95.53 596.8 L96.02 601.15 L96.51 598.33 L97 599.71 L97.49 598.65 L97.98 599.09 L98.47 595.35 L98.96 598.47 L99.45 601.36 L99.94 597.78 L100.43 603.85 L100.92 599.69 L101.41 601.73 L101.9 600.65 L102.39 599.76 L102.89 598.51 L103.38 601.73 L103.87 598.73 L104.36 600.98 L104.85 600.4 L105.34 599.75 L105.83 599.52 L106.32 599.33 L106.81 599.18 L107.3 599.21 L107.79 602.66 L108.28 606.65 L108.77 600.77 L109.26 600.09 L109.75 598.73 L110.24 601.51 L110.73 606.1 L111.22 599.46 L111.71 601.65 L112.2 602.48 L112.7 601.43 L113.19 603.27 L113.68 597.65 L114.17 601.51 L114.66 601.62 L115.15 603.04 L115.64 598.07 L116.13 603.76 L116.62 603.39 L117.11 596.67 L117.6 599.05 L118.09 602.69 L118.58 603.52 L119.07 605.38 L119.56 601.65 L120.05 603.41 L120.54 604.09 L121.03 600.65 L121.52 605.99 L122.01 604.38 L122.51 602 L123 604.97 L123.49 601.32 L123.98 607.04 L124.47 605.17 L124.96 600.79 L125.45 605.02 L125.94 603.43 L126.43 605.71 L126.92 605.18 L127.41 602.83 L127.9 605.24 L128.39 604.69 L128.88 606.64 L129.37 605.3 L129.86 604.97 L130.35 602.92 L130.84 603.19 L131.33 604.72 L131.82 603.72 L132.31 605.69 L132.81 605.23 L133.3 605 L133.79 602.98 L134.28 608.05 L134.77 601.83 L135.26 604.21 L135.75 603.73 L136.24 604.46 L136.73 603.16 L137.22 605.23 L137.71 604.19 L138.2 606.96 L138.69 604 L139.18 607.68 L139.67 601.34 L140.16 608.14 L140.65 605.92 L141.14 605.81 L141.63 604.55 L142.12 607.31 L142.62 601.05 L143.11 607.08 L143.6 609.28 L144.09 604.83 L144.58 606.64 L145.07 606.7 L145.56 605.69 L146.05 607.47 L146.54 605.26 L147.03 604.5 L147.52 607.98 L148.01 605.83 L148.5 606.84 L148.99 607.73 L149.48 606.92 L149.97 607.07 L150.46 609.24 L150.95 606.39 L151.44 608.19 L151.94 605.11 L152.43 604.47 L152.92 606.44 L153.41 607.27 L153.9 610.78 L154.39 606.26 L154.88 607.88 L155.37 611.83 L155.86 607.79 L156.35 613.24 L156.84 607.75 L157.33 607.58 L157.82 606.24 L158.31 606.92 L158.8 612.38 L159.29 608.2 L159.78 608.27 L160.27 607.6 L160.76 609.04 L161.25 605.47 L161.75 607.96 L162.24 604.96 L162.73 605.96 L163.22 610.91 L163.71 612.81 L164.2 607.29 L164.69 605.65 L165.18 609.66 L165.67 604.48 L166.16 607.08 L166.65 610.16 L167.14 614.98 L167.63 609.58 L168.12 611.36 L168.61 611.66 L169.1 611.44 L169.59 611.51 L170.08 610.88 L170.57 610.26 L171.06 612.3 L171.56 608.55 L172.05 610.6 L172.54 608.71 L173.03 609.47 L173.52 610.83 L174.01 609.17 L174.5 610.4 L174.99 607.61 L175.48 609.72 L175.97 610.48 L176.46 609.69 L176.95 610.5 L177.44 608.69 L177.93 613.63 L178.42 610.91 L178.91 610.81 L179.4 609.97 L179.89 612.49 L180.38 611.86 L180.87 616.66 L181.37 610.25 L181.86 607.91 L182.35 612.04 L182.84 610.46 L183.33 610.45 L183.82 611.89 L184.31 616.25 L184.8 614.45 L185.29 613.95 L185.78 613.03 L186.27 613.66 L186.76 613.53 L187.25 611.52" fill="none" stroke="#bdbdbd" stroke-width="0.6" stroke-linejoin="round"/>
<path d="M53.84 627.27 L54.33 633.02 L54.82 627.13 L55.31 628.77 L55.8 628.75 L56.29 632.68 L56.78 626.66 L57.27 620.37 L57.76 634.05 L58.25 630.08 L58.74 626.69 L59.23 628.93 L59.72 629.42 L60.21 628.62 L60.7 625.87 L61.19 629.99 L61.68 628.02 L62.17 625.83 L62.66 621.73 L63.15 620.17 L63.65 612.46 L64.14 609.84 L64.63 610.39 L65.12 607.84 L65.61 602.07 L66.1 602.95 L66.59 602.16 L67.08 601.56 L67.57 597.95 L68.06 600.02 L68.55 593.8 L69.04 595.18 L69.53 597.89 L70.02 592.26 L70.51 589.44 L71 587.65 L71.49 580.7 L71.98 580.59 L72.47 579 L72.96 573.62 L73.46 572.95 L73.95 582.24 L74.44 581.09 L74.93 587.95 L75.42 593.78 L75.91 592.16 L76.4 590.71 L76.89 594.18 L77.38 594.45 L77.87 591 L78.36 592.12 L78.85 595.73 L79.34 595.5 L79.83 593.93 L80.32 592.72 L80.81 594.26 L81.3 591.73 L81.79 591.73 L82.28 592.52 L82.77 596 L83.27 594.91 L83.76 593.79 L84.25 595.49 L84.74 596.52 L85.23 595.33 L85.72 591.99 L86.21 595.35 L86.7 593.34 L87.19 594.53 L87.68 595.83 L88.17 595.96 L88.66 595.86 L89.15 594.92 L89.64 593.15 L90.13 594.31 L90.62 597.44 L91.11 593.81 L91.6 596.77 L92.09 596.06 L92.58 595.54 L93.08 598.72 L93.57 593.43 L94.06 596.03 L94.55 595.37 L95.04 594.96 L95.53 594.29 L96.02 594.37 L96.51 594.32 L97 597.26 L97.49 597.38 L97.98 595.36 L98.47 595.51 L98.96 599.11 L99.45 596.15 L99.94 596.08 L100.43 598.62 L100.92 592.24 L101.41 596.3 L101.9 599.36 L102.39 597.7 L102.89 596.23 L103.38 601.37 L103.87 597.05 L104.36 592.44 L104.85 596.9 L105.34 600.59 L105.83 597.15 L106.32 597.73 L106.81 596.35 L107.3 595.74 L107.79 595.39 L108.28 596.64 L108.77 596.77 L109.26 602.74 L109.75 604.1 L110.24 598.86 L110.73 596.17 L111.22 599.23 L111.71 600.86 L112.2 600.84 L112.7 597.85 L113.19 599.86 L113.68 596.95 L114.17 600.71 L114.66 594.48 L115.15 597.99 L115.64 599.67 L116.13 598.86 L116.62 598.2 L117.11 598.15 L117.6 598.01 L118.09 599.48 L118.58 597.84 L119.07 599.8 L119.56 600.47 L120.05 599.74 L120.54 593.92 L121.03 596.63 L121.52 599.33 L122.01 600.91 L122.51 599.55 L123 599.98 L123.49 600.06 L123.98 600.03 L124.47 598.66 L124.96 595.99 L125.45 601.34 L125.94 599.32 L126.43 598.75 L126.92 603.29 L127.41 600.66 L127.9 599.69 L128.39 599.6 L128.88 600.73 L129.37 601.08 L129.86 598.69 L130.35 600.57 L130.84 598.95 L131.33 599.68 L131.82 601.15 L132.31 608.46 L132.81 602.09 L133.3 602.11 L133.79 599.85 L134.28 601.56 L134.77 602.78 L135.26 600.74 L135.75 599.87 L136.24 601.76 L136.73 603.97 L137.22 600.49 L137.71 602.56 L138.2 604.5 L138.69 600.06 L139.18 605.48 L139.67 601.85 L140.16 602.26 L140.65 603.24 L141.14 599.96 L141.63 601.55 L142.12 601.14 L142.62 603.84 L143.11 605.38 L143.6 602.11 L144.09 603.95 L144.58 603.73 L145.07 596.92 L145.56 600.11 L146.05 601.81 L146.54 603.48 L147.03 605.45 L147.52 601.11 L148.01 601.37 L148.5 603.03 L148.99 601.76 L149.48 605.13 L149.97 603.48 L150.46 600.5 L150.95 604.21 L151.44 605.25 L151.94 602.54 L152.43 604.64 L152.92 601.93 L153.41 606.19 L153.9 604.08 L154.39 601.13 L154.88 604.22 L155.37 602.89 L155.86 607.14 L156.35 606.34 L156.84 603.1 L157.33 605.89 L157.82 604.07 L158.31 604.51 L158.8 605.31 L159.29 606.91 L159.78 605.79 L160.27 604.09 L160.76 606.19 L161.25 605.26 L161.75 602.46 L162.24 601.83 L162.73 606.18 L163.22 605.07 L163.71 605.46 L164.2 602.19 L164.69 606.03 L165.18 601.07 L165.67 604.06 L166.16 605.8 L166.65 606.14 L167.14 608.77 L167.63 604.42 L168.12 604.21 L168.61 606.2 L169.1 606.02 L169.59 607.14 L170.08 606.54 L170.57 606.2 L171.06 610.09 L171.56 607.38 L172.05 608.28 L172.54 605.4 L173.03 606.71 L173.52 606.68 L174.01 606.8 L174.5 610.96 L174.99 611.01 L175.48 606.06 L175.97 604.05 L176.46 606.73 L176.95 608.24 L177.44 606.03 L177.93 605.35 L178.42 608.88 L178.91 609.14 L179.4 608.19 L179.89 607.48 L180.38 608.4 L180.87 608.73 L181.37 609.02 L181.86 608.18 L182.35 606.29 L182.84 610.28 L183.33 610.57 L183.82 605.24 L184.31 610.19 L184.8 609.31 L185.29 605.44 L185.78 610.03 L186.27 610.11 L186.76 608.77 L187.25 611.29" fill="none" stroke="#bdbdbd" stroke-width="0.6" stroke-linejoin="round"/>
<path d="M53.84 631.82 L54.33 626.16 L54.82 629.77 L55.31 628.54 L55.8 627.52 L56.29 628.91 L56.78 630.51 L57.27 629.53 L57.76 628.56 L58.25 630.19 L58.74 629.33 L59.23 633.64 L59.72 628.6 L60.21 626.84 L60.7 625.91 L61.19 628.3 L61.68 627.43 L62.17 628.35 L62.66 619.88 L63.15 620.44 L63.65 616.47 L64.14 609.92 L64.63 607.63 L65.12 606.74 L65.61 602.95 L66.1 604.62 L66.59 598.36 L67.08 599.75 L67.57 598.4 L68.06 598.28 L68.55 593.32 L69.04 597.07 L69.53 592.69 L70.02 593.15 L70.51 591 L71 588.09 L71.49 586.68 L71.98 588.28 L72.47 582.54 L72.96 580.2 L73.46 586 L73.95 585.77 L74.44 588.5 L74.93 587.55 L75.42 590.51 L75.91 593.1 L76.4 593.57 L76.89 598.2 L77.38 593.52 L77.87 592.17 L78.36 589.72 L78.85 592.58 L79.34 590.09 L79.83 591.51 L80.32 592.35 L80.81 595.82 L81.3 590.87 L81.79 595.48 L82.28 590.89 L82.77 591.89 L83.27 591.18 L83.76 594.64 L84.25 592.01 L84.74 598.03 L85.23 594.71 L85.72 593.66 L86.21 592.64 L86.7 598.91 L87.19 596.7 L87.68 595.23 L88.17 595.99 L88.66 592.61 L89.15 592.21 L89.64 591.8 L90.13 594.03 L90.62 595.77 L91.11 596.75 L91.6 593.97 L92.09 594.6 L92.58 594.65 L93.08 596.9 L93.57 591.07 L94.06 593.69 L94.55 594.09 L95.04 596.74 L95.53 596.85 L96.02 598.35 L96.51 595.27 L97 593.55 L97.49 593.23 L97.98 592.53 L98.47 596.2 L98.96 596.38 L99.45 597.56 L99.94 595.05 L100.43 597.19 L100.92 595.63 L101.41 595.53 L101.9 597.44 L102.39 596.71 L102.89 596.11 L103.38 598.59 L103.87 598.69 L104.36 595.32 L104.85 597.09 L105.34 596.08 L105.83 596.51 L106.32 597.11 L106.81 597.55 L107.3 596.74 L107.79 597.41 L108.28 596.64 L108.77 597.9 L109.26 598.95 L109.75 593.96 L110.24 599.75 L110.73 599.52 L111.22 596.98 L111.71 597.72 L112.2 601.24 L112.7 598.5 L113.19 598.48 L113.68 596.52 L114.17 599.96 L114.66 598.03 L115.15 598.98 L115.64 599.14 L116.13 599.62 L116.62 598.06 L117.11 599.2 L117.6 595.84 L118.09 599.29 L118.58 598.47 L119.07 596.11 L119.56 598.88 L120.05 601.07 L120.54 598.51 L121.03 598.31 L121.52 597.81 L122.01 598.61 L122.51 601.03 L123 599.57 L123.49 600.98 L123.98 600.13 L124.47 599.74 L124.96 599.85 L125.45 603.26 L125.94 600.49 L126.43 603.45 L126.92 596.54 L127.41 599.52 L127.9 600.51 L128.39 598.46 L128.88 602.06 L129.37 601.43 L129.86 601.21 L130.35 601.38 L130.84 603.27 L131.33 600.57 L131.82 596.61 L132.31 600.37 L132.81 601 L133.3 601.35 L133.79 600.25 L134.28 600.47 L134.77 598.95 L135.26 597.72 L135.75 602.81 L136.24 602.38 L136.73 603.52 L137.22 603.07 L137.71 600.04 L138.2 601.82 L138.69 602.74 L139.18 602.56 L139.67 603.36 L140.16 602.66 L140.65 604.63 L141.14 599.99 L141.63 601.44 L142.12 606.65 L142.62 602.54 L143.11 604.66 L143.6 597.88 L144.09 604.04 L144.58 603.41 L145.07 602.2 L145.56 602.89 L146.05 605.58 L146.54 603.52 L147.03 605.88 L147.52 599.7 L148.01 603.27 L148.5 602.37 L148.99 603.06 L149.48 604.08 L149.97 603.83 L150.46 602.47 L150.95 600.66 L151.44 605.63 L151.94 604.01 L152.43 606.51 L152.92 602.6 L153.41 602.62 L153.9 604.55 L154.39 604.05 L154.88 605.69 L155.37 603.83 L155.86 603.58 L156.35 605.89 L156.84 607.14 L157.33 605.22 L157.82 606.38 L158.31 604.34 L158.8 605.98 L159.29 605.22 L159.78 602.94 L160.27 603.9 L160.76 609.19 L161.25 604.99 L161.75 606.81 L162.24 605.84 L162.73 606.9 L163.22 608.29 L163.71 602.79 L164.2 606.8 L164.69 606.44 L165.18 606.07 L165.67 607.5 L166.16 602.32 L166.65 608.14 L167.14 605.53 L167.63 606.52 L168.12 606.46 L168.61 608.62 L169.1 606.36 L169.59 607.08 L170.08 608.44 L170.57 607.03 L171.06 607.45 L171.56 607.35 L172.05 606.08 L172.54 607.24 L173.03 608.82 L173.52 607.87 L174.01 608.46 L174.5 606.26 L174.99 601.44 L175.48 608.85 L175.97 608.63 L176.46 608.8 L176.95 606.48 L177.44 609.22 L177.93 607.01 L178.42 610.77 L178.91 607.5 L179.4 608.97 L179.89 607.93 L180.38 608.05 L180.87 608.73 L181.37 608.91 L181.86 608.6 L182.35 607.5 L182.84 613.58 L183.33 607.33 L183.82 609.4 L184.31 607.16 L184.8 606.5 L185.29 608.65 L185.78 608.59 L186.27 610.17 L186.76 608.97 L187.25 612.49" fill="none" stroke="#bdbdbd" stroke-width="0.6" stroke-linejoin="round"/>
<path d="M53.84 625.26 L54.33 627.76 L54.82 633.66 L55.31 627.33 L55.8 629.26 L56.29 628.35 L56.78 631.68 L57.27 627.62 L57.76 627.16 L58.25 628.32 L58.74 629.65 L59.23 629.15 L59.72 625.88 L60.21 628.8 L60.7 627.09 L61.19 627.03 L61.68 631.69 L62.17 625.32 L62.66 621.95 L63.15 613.93 L63.65 615.64 L64.14 611.92 L64.63 608.48 L65.12 606.82 L65.61 603.53 L66.1 603.03 L66.59 601.6 L67.08 599.1 L67.57 599.9 L68.06 597.91 L68.55 594.88 L69.04 596.33 L69.53 592.37 L70.02 595.45 L70.51 593.08 L71 588 L71.49 589.93 L71.98 580.3 L72.47 584.31 L72.96 584.67 L73.46 579.15 L73.95 586.43 L74.44 590.74 L74.93 586.54 L75.42 593.39 L75.91 591.33 L76.4 592.92 L76.89 598.32 L77.38 594.03 L77.87 593.34 L78.36 591.02 L78.85 591.88 L79.34 592.46 L79.83 592.8 L80.32 595.41 L80.81 591.92 L81.3 591.63 L81.79 593.7 L82.28 594.06 L82.77 591.53 L83.27 594.55 L83.76 594.68 L84.25 594.62 L84.74 594.2 L85.23 594.76 L85.72 596.97 L86.21 592.64 L86.7 593.67 L87.19 593.12 L87.68 597.46 L88.17 591.93 L88.66 594.46 L89.15 589.45 L89.64 595.48 L90.13 591.33 L90.62 593.72 L91.11 593.59 L91.6 593.49 L92.09 601.27 L92.58 595.05 L93.08 593.41 L93.57 593.52 L94.06 593.28 L94.55 595.18 L95.04 596.93 L95.53 594 L96.02 593.79 L96.51 596.38 L97 594.83 L97.49 596.52 L97.98 595.49 L98.47 595.8 L98.96 595.14 L99.45 592.8 L99.94 595.49 L100.43 593.6 L100.92 595.55 L101.41 596.46 L101.9 595.94 L102.39 595.91 L102.89 597.29 L103.38 598.43 L103.87 596.75 L104.36 599.1 L104.85 591.03 L105.34 597.66 L105.83 596.69 L106.32 595.32 L106.81 595.8 L107.3 597.25 L107.79 595.02 L108.28 598.33 L108.77 598.05 L109.26 598.27 L109.75 599.16 L110.24 596.39 L110.73 599.71 L111.22 598.24 L111.71 596.73 L112.2 596.63 L112.7 596.84 L113.19 598.31 L113.68 597.05 L114.17 595.78 L114.66 596.32 L115.15 597.18 L115.64 598.82 L116.13 599.79 L116.62 599.77 L117.11 600.66 L117.6 598.06 L118.09 599.57 L118.58 597.93 L119.07 598.01 L119.56 600.22 L120.05 599.26 L120.54 600.79 L121.03 599.71 L121.52 600.83 L122.01 602.53 L122.51 601.54 L123 600.92 L123.49 600.55 L123.98 600.26 L124.47 599.91 L124.96 593.76 L125.45 602.64 L125.94 600.81 L126.43 599.28 L126.92 598.81 L127.41 601.68 L127.9 598.66 L128.39 599.9 L128.88 599.5 L129.37 601.45 L129.86 601.21 L130.35 598.42 L130.84 602.92 L131.33 599.47 L131.82 602.59 L132.31 600.56 L132.81 600.48 L133.3 602.17 L133.79 606.45 L134.28 602.04 L134.77 601.66 L135.26 601.38 L135.75 603.92 L136.24 602.11 L136.73 602.57 L137.22 599.78 L137.71 603.07 L138.2 605.61 L138.69 599.77 L139.18 603.79 L139.67 604.67 L140.16 604.43 L140.65 599.09 L141.14 601.37 L141.63 600.03 L142.12 603.2 L142.62 604.05 L143.11 601.54 L143.6 602.46 L144.09 602.14 L144.58 597.44 L145.07 603.28 L145.56 603.13 L146.05 604.36 L146.54 604.83 L147.03 603.8 L147.52 605.86 L148.01 602.33 L148.5 601.3 L148.99 603.39 L149.48 602.39 L149.97 602.88 L150.46 604.46 L150.95 602.78 L151.44 606.02 L151.94 604.58 L152.43 603.66 L152.92 606.07 L153.41 601.59 L153.9 603.66 L154.39 601.83 L154.88 603.03 L155.37 604.89 L155.86 604.59 L156.35 607.16 L156.84 607.14 L157.33 607.52 L157.82 603.15 L158.31 607.59 L158.8 604.57 L159.29 604.7 L159.78 606.51 L160.27 605.58 L160.76 603.98 L161.25 606.57 L161.75 604.23 L162.24 605.29 L162.73 605.04 L163.22 607.64 L163.71 605.15 L164.2 605.45 L164.69 608.08 L165.18 603.05 L165.67 607.19 L166.16 607.72 L166.65 606.05 L167.14 605.04 L167.63 607.51 L168.12 608.5 L168.61 606.7 L169.1 605.72 L169.59 607.05 L170.08 606.39 L170.57 608.9 L171.06 608.6 L171.56 606.57 L172.05 609.32 L172.54 607.27 L173.03 607.82 L173.52 606.06 L174.01 610.81 L174.5 607.81 L174.99 609.14 L175.48 608.51 L175.97 608.98 L176.46 606.6 L176.95 608.86 L177.44 607.14 L177.93 607.27 L178.42 608.39 L178.91 607.22 L179.4 607.89 L179.89 610.86 L180.38 607.19 L180.87 607.96 L181.37 608.65 L181.86 608.61 L182.35 606.95 L182.84 610.82 L183.33 609.59 L183.82 609.05 L184.31 607.08 L184.8 608.71 L185.29 608.39 L185.78 613.95 L186.27 613.23 L186.76 608.62 L187.25 613.18" fill="none" stroke="#bdbdbd" stroke-width="0.6" stroke-linejoin="round"/>
<path d="M53.51 628.57 L62.01 628.57 L62.66 628.09 L63.32 627.61 L63.97 627.13 L64.63 626.66 L65.28 626.19 L65.93 625.72 L66.59 625.26 L67.24 624.81 L67.9 624.35 L68.55 623.9 L69.2 623.46 L69.86 623.02 L70.51 622.58 L71.17 622.15 L71.82 621.72 L72.47 621.29 L73.13 620.87 L73.78 620.67 L74.44 620.69 L75.09 620.71 L75.74 620.73 L76.4 620.75 L77.05 620.77 L77.71 620.79 L78.36 620.81 L79.01 620.83 L79.67 620.86 L80.32 620.88 L80.98 620.9 L81.63 620.92 L82.28 620.94 L82.94 620.96 L83.59 620.98 L84.25 621 L84.9 621.02 L85.55 621.04 L86.21 621.06 L86.86 621.09 L87.52 621.11 L88.17 621.13 L88.82 621.15 L89.48 621.17 L90.13 621.19 L90.79 621.21 L91.44 621.23 L92.09 621.25 L92.75 621.27 L93.4 621.3 L94.06 621.32 L94.71 621.34 L95.36 621.36 L96.02 621.38 L96.67 621.4 L97.33 621.42 L97.98 621.44 L98.63 621.46 L99.29 621.48 L99.94 621.51 L100.6 621.53 L101.25 621.55 L101.9 621.57 L102.56 621.59 L103.21 621.61 L103.87 621.63 L104.52 621.65 L105.17 621.67 L105.83 621.69 L106.48 621.71 L107.14 621.74 L107.79 621.76 L108.44 621.78 L109.1 621.8 L109.75 621.82 L110.41 621.84 L111.06 621.86 L111.71 621.88 L112.37 621.9 L113.02 621.92 L113.68 621.95 L114.33 621.97 L114.98 621.99 L115.64 622.01 L116.29 622.03 L116.95 622.05 L117.6 622.07 L118.25 622.09 L118.91 622.11 L119.56 622.13 L120.22 622.16 L120.87 622.18 L121.52 622.2 L122.18 622.22 L122.83 622.24 L123.49 622.26 L124.14 622.28 L124.79 622.3 L125.45 622.32 L126.1 622.34 L126.76 622.37 L127.41 622.39 L128.06 622.41 L128.72 622.43 L129.37 622.45 L130.03 622.47 L130.68 622.49 L131.33 622.51 L131.99 622.53 L132.64 622.55 L133.3 622.57 L133.95 622.6 L134.6 622.62 L135.26 622.64 L135.91 622.66 L136.57 622.68 L137.22 622.7 L137.87 622.72 L138.53 622.74 L139.18 622.76 L139.84 622.78 L140.49 622.81 L141.14 622.83 L141.8 622.85 L142.45 622.87 L143.11 622.89 L143.76 622.91 L144.41 622.93 L145.07 622.95 L145.72 622.97 L146.38 622.99 L147.03 623.02 L147.68 623.04 L148.34 623.06 L148.99 623.08 L149.65 623.1 L150.3 623.12 L150.95 623.14 L151.61 623.16 L152.26 623.18 L152.92 623.2 L153.57 623.22 L154.22 623.25 L154.88 623.27 L155.53 623.29 L156.19 623.31 L156.84 623.33 L157.49 623.35 L158.15 623.37 L158.8 623.39 L159.46 623.41 L160.11 623.43 L160.76 623.46 L161.42 623.48 L162.07 623.5 L162.73 623.52 L163.38 623.54 L164.03 623.56 L164.69 623.58 L165.34 623.6 L166 623.62 L166.65 623.64 L167.3 623.67 L167.96 623.69 L168.61 623.71 L169.27 623.73 L169.92 623.75 L170.57 623.77 L171.23 623.79 L171.88 623.81 L172.54 623.83 L173.19 623.85 L173.84 623.87 L174.5 623.9 L175.15 623.92 L175.81 623.94 L176.46 623.96 L177.11 623.98 L177.77 624 L178.42 624.02 L179.08 624.04 L179.73 624.06 L180.38 624.08 L181.04 624.11 L181.69 624.13 L182.35 624.15 L183 624.17 L183.65 624.19 L184.31 624.21 L184.96 624.23 L185.62 624.25 L186.27 624.27 L186.92 624.29" fill="none" stroke="#f7941d" stroke-width="1.4" stroke-linejoin="round"/>
<path d="M53.51 628.57 L62.01 628.57 L62.66 627.49 L63.32 626.45 L63.97 625.45 L64.63 624.51 L65.28 623.6 L65.93 622.74 L66.59 621.91 L67.24 621.12 L67.9 620.37 L68.55 619.65 L69.2 618.96 L69.86 618.3 L70.51 617.67 L71.17 617.07 L71.82 616.5 L72.47 615.95 L73.13 615.43 L73.78 615.19 L74.44 615.22 L75.09 615.25 L75.74 615.29 L76.4 615.32 L77.05 615.35 L77.71 615.38 L78.36 615.41 L79.01 615.44 L79.67 615.47 L80.32 615.51 L80.98 615.54 L81.63 615.57 L82.28 615.6 L82.94 615.63 L83.59 615.66 L84.25 615.69 L84.9 615.73 L85.55 615.76 L86.21 615.79 L86.86 615.82 L87.52 615.85 L88.17 615.88 L88.82 615.91 L89.48 615.95 L90.13 615.98 L90.79 616.01 L91.44 616.04 L92.09 616.07 L92.75 616.1 L93.4 616.13 L94.06 616.17 L94.71 616.2 L95.36 616.23 L96.02 616.26 L96.67 616.29 L97.33 616.32 L97.98 616.35 L98.63 616.39 L99.29 616.42 L99.94 616.45 L100.6 616.48 L101.25 616.51 L101.9 616.54 L102.56 616.57 L103.21 616.61 L103.87 616.64 L104.52 616.67 L105.17 616.7 L105.83 616.73 L106.48 616.76 L107.14 616.79 L107.79 616.83 L108.44 616.86 L109.1 616.89 L109.75 616.92 L110.41 616.95 L111.06 616.98 L111.71 617.02 L112.37 617.05 L113.02 617.08 L113.68 617.11 L114.33 617.14 L114.98 617.17 L115.64 617.2 L116.29 617.24 L116.95 617.27 L117.6 617.3 L118.25 617.33 L118.91 617.36 L119.56 617.39 L120.22 617.42 L120.87 617.46 L121.52 617.49 L122.18 617.52 L122.83 617.55 L123.49 617.58 L124.14 617.61 L124.79 617.64 L125.45 617.68 L126.1 617.71 L126.76 617.74 L127.41 617.77 L128.06 617.8 L128.72 617.83 L129.37 617.86 L130.03 617.9 L130.68 617.93 L131.33 617.96 L131.99 617.99 L132.64 618.02 L133.3 618.05 L133.95 618.08 L134.6 618.12 L135.26 618.15 L135.91 618.18 L136.57 618.21 L137.22 618.24 L137.87 618.27 L138.53 618.3 L139.18 618.34 L139.84 618.37 L140.49 618.4 L141.14 618.43 L141.8 618.46 L142.45 618.49 L143.11 618.52 L143.76 618.56 L144.41 618.59 L145.07 618.62 L145.72 618.65 L146.38 618.68 L147.03 618.71 L147.68 618.75 L148.34 618.78 L148.99 618.81 L149.65 618.84 L150.3 618.87 L150.95 618.9 L151.61 618.93 L152.26 618.97 L152.92 619 L153.57 619.03 L154.22 619.06 L154.88 619.09 L155.53 619.12 L156.19 619.15 L156.84 619.19 L157.49 619.22 L158.15 619.25 L158.8 619.28 L159.46 619.31 L160.11 619.34 L160.76 619.37 L161.42 619.41 L162.07 619.44 L162.73 619.47 L163.38 619.5 L164.03 619.53 L164.69 619.56 L165.34 619.59 L166 619.63 L166.65 619.66 L167.3 619.69 L167.96 619.72 L168.61 619.75 L169.27 619.78 L169.92 619.81 L170.57 619.85 L171.23 619.88 L171.88 619.91 L172.54 619.94 L173.19 619.97 L173.84 620 L174.5 620.03 L175.15 620.07 L175.81 620.1 L176.46 620.13 L177.11 620.16 L177.77 620.19 L178.42 620.22 L179.08 620.25 L179.73 620.29 L180.38 620.32 L181.04 620.35 L181.69 620.38 L182.35 620.41 L183 620.44 L183.65 620.48 L184.31 620.51 L184.96 620.54 L185.62 620.57 L186.27 620.6 L186.92 620.63" fill="none" stroke="#5a2466" stroke-width="1.4" stroke-linejoin="round"/>
<path d="M53.51 628.57 L62.01 628.57 L62.66 626.27 L63.32 624.15 L63.97 622.19 L64.63 620.38 L65.28 618.71 L65.93 617.17 L66.59 615.75 L67.24 614.44 L67.9 613.22 L68.55 612.1 L69.2 611.07 L69.86 610.12 L70.51 609.24 L71.17 608.42 L71.82 607.67 L72.47 606.98 L73.13 606.34 L73.78 606.07 L74.44 606.13 L75.09 606.2 L75.74 606.26 L76.4 606.32 L77.05 606.39 L77.71 606.45 L78.36 606.51 L79.01 606.57 L79.67 606.64 L80.32 606.7 L80.98 606.76 L81.63 606.83 L82.28 606.89 L82.94 606.95 L83.59 607.02 L84.25 607.08 L84.9 607.14 L85.55 607.2 L86.21 607.27 L86.86 607.33 L87.52 607.39 L88.17 607.46 L88.82 607.52 L89.48 607.58 L90.13 607.64 L90.79 607.71 L91.44 607.77 L92.09 607.83 L92.75 607.9 L93.4 607.96 L94.06 608.02 L94.71 608.08 L95.36 608.15 L96.02 608.21 L96.67 608.27 L97.33 608.34 L97.98 608.4 L98.63 608.46 L99.29 608.52 L99.94 608.59 L100.6 608.65 L101.25 608.71 L101.9 608.78 L102.56 608.84 L103.21 608.9 L103.87 608.97 L104.52 609.03 L105.17 609.09 L105.83 609.15 L106.48 609.22 L107.14 609.28 L107.79 609.34 L108.44 609.41 L109.1 609.47 L109.75 609.53 L110.41 609.59 L111.06 609.66 L111.71 609.72 L112.37 609.78 L113.02 609.85 L113.68 609.91 L114.33 609.97 L114.98 610.03 L115.64 610.1 L116.29 610.16 L116.95 610.22 L117.6 610.29 L118.25 610.35 L118.91 610.41 L119.56 610.48 L120.22 610.54 L120.87 610.6 L121.52 610.66 L122.18 610.73 L122.83 610.79 L123.49 610.85 L124.14 610.92 L124.79 610.98 L125.45 611.04 L126.1 611.1 L126.76 611.17 L127.41 611.23 L128.06 611.29 L128.72 611.36 L129.37 611.42 L130.03 611.48 L130.68 611.54 L131.33 611.61 L131.99 611.67 L132.64 611.73 L133.3 611.8 L133.95 611.86 L134.6 611.92 L135.26 611.98 L135.91 612.05 L136.57 612.11 L137.22 612.17 L137.87 612.24 L138.53 612.3 L139.18 612.36 L139.84 612.43 L140.49 612.49 L141.14 612.55 L141.8 612.61 L142.45 612.68 L143.11 612.74 L143.76 612.8 L144.41 612.87 L145.07 612.93 L145.72 612.99 L146.38 613.05 L147.03 613.12 L147.68 613.18 L148.34 613.24 L148.99 613.31 L149.65 613.37 L150.3 613.43 L150.95 613.49 L151.61 613.56 L152.26 613.62 L152.92 613.68 L153.57 613.75 L154.22 613.81 L154.88 613.87 L155.53 613.94 L156.19 614 L156.84 614.06 L157.49 614.12 L158.15 614.19 L158.8 614.25 L159.46 614.31 L160.11 614.38 L160.76 614.44 L161.42 614.5 L162.07 614.56 L162.73 614.63 L163.38 614.69 L164.03 614.75 L164.69 614.82 L165.34 614.88 L166 614.94 L166.65 615 L167.3 615.07 L167.96 615.13 L168.61 615.19 L169.27 615.26 L169.92 615.32 L170.57 615.38 L171.23 615.44 L171.88 615.51 L172.54 615.57 L173.19 615.63 L173.84 615.7 L174.5 615.76 L175.15 615.82 L175.81 615.89 L176.46 615.95 L177.11 616.01 L177.77 616.07 L178.42 616.14 L179.08 616.2 L179.73 616.26 L180.38 616.33 L181.04 616.39 L181.69 616.45 L182.35 616.51 L183 616.58 L183.65 616.64 L184.31 616.7 L184.96 616.77 L185.62 616.83 L186.27 616.89 L186.92 616.95" fill="none" stroke="#3db54a" stroke-width="1.4" stroke-linejoin="round"/>
<path d="M53.51 628.57 L62.01 628.57 L62.66 623.76 L63.32 619.61 L63.97 616.03 L64.63 612.95 L65.28 610.29 L65.93 608 L66.59 606.03 L67.24 604.33 L67.9 602.86 L68.55 601.6 L69.2 600.51 L69.86 599.57 L70.51 598.76 L71.17 598.06 L71.82 597.46 L72.47 596.94 L73.13 596.5 L73.78 596.34 L74.44 596.43 L75.09 596.52 L75.74 596.61 L76.4 596.7 L77.05 596.8 L77.71 596.89 L78.36 596.98 L79.01 597.07 L79.67 597.16 L80.32 597.25 L80.98 597.34 L81.63 597.43 L82.28 597.52 L82.94 597.61 L83.59 597.7 L84.25 597.8 L84.9 597.89 L85.55 597.98 L86.21 598.07 L86.86 598.16 L87.52 598.25 L88.17 598.34 L88.82 598.43 L89.48 598.52 L90.13 598.61 L90.79 598.7 L91.44 598.79 L92.09 598.89 L92.75 598.98 L93.4 599.07 L94.06 599.16 L94.71 599.25 L95.36 599.34 L96.02 599.43 L96.67 599.52 L97.33 599.61 L97.98 599.7 L98.63 599.79 L99.29 599.89 L99.94 599.98 L100.6 600.07 L101.25 600.16 L101.9 600.25 L102.56 600.34 L103.21 600.43 L103.87 600.52 L104.52 600.61 L105.17 600.7 L105.83 600.79 L106.48 600.88 L107.14 600.98 L107.79 601.07 L108.44 601.16 L109.1 601.25 L109.75 601.34 L110.41 601.43 L111.06 601.52 L111.71 601.61 L112.37 601.7 L113.02 601.79 L113.68 601.88 L114.33 601.98 L114.98 602.07 L115.64 602.16 L116.29 602.25 L116.95 602.34 L117.6 602.43 L118.25 602.52 L118.91 602.61 L119.56 602.7 L120.22 602.79 L120.87 602.88 L121.52 602.97 L122.18 603.07 L122.83 603.16 L123.49 603.25 L124.14 603.34 L124.79 603.43 L125.45 603.52 L126.1 603.61 L126.76 603.7 L127.41 603.79 L128.06 603.88 L128.72 603.97 L129.37 604.07 L130.03 604.16 L130.68 604.25 L131.33 604.34 L131.99 604.43 L132.64 604.52 L133.3 604.61 L133.95 604.7 L134.6 604.79 L135.26 604.88 L135.91 604.97 L136.57 605.06 L137.22 605.16 L137.87 605.25 L138.53 605.34 L139.18 605.43 L139.84 605.52 L140.49 605.61 L141.14 605.7 L141.8 605.79 L142.45 605.88 L143.11 605.97 L143.76 606.06 L144.41 606.16 L145.07 606.25 L145.72 606.34 L146.38 606.43 L147.03 606.52 L147.68 606.61 L148.34 606.7 L148.99 606.79 L149.65 606.88 L150.3 606.97 L150.95 607.06 L151.61 607.15 L152.26 607.25 L152.92 607.34 L153.57 607.43 L154.22 607.52 L154.88 607.61 L155.53 607.7 L156.19 607.79 L156.84 607.88 L157.49 607.97 L158.15 608.06 L158.8 608.15 L159.46 608.25 L160.11 608.34 L160.76 608.43 L161.42 608.52 L162.07 608.61 L162.73 608.7 L163.38 608.79 L164.03 608.88 L164.69 608.97 L165.34 609.06 L166 609.15 L166.65 609.24 L167.3 609.34 L167.96 609.43 L168.61 609.52 L169.27 609.61 L169.92 609.7 L170.57 609.79 L171.23 609.88 L171.88 609.97 L172.54 610.06 L173.19 610.15 L173.84 610.24 L174.5 610.34 L175.15 610.43 L175.81 610.52 L176.46 610.61 L177.11 610.7 L177.77 610.79 L178.42 610.88 L179.08 610.97 L179.73 611.06 L180.38 611.15 L181.04 611.24 L181.69 611.33 L182.35 611.43 L183 611.52 L183.65 611.61 L184.31 611.7 L184.96 611.79 L185.62 611.88 L186.27 611.97 L186.92 612.06" fill="none" stroke="#115288" stroke-width="1.4" stroke-linejoin="round"/>
<path d="M53.51 628.57 L62.01 628.57 L62.66 622.1 L63.32 616.71 L63.97 612.22 L64.63 608.48 L65.28 605.37 L65.93 602.77 L66.59 600.61 L67.24 598.81 L67.9 597.31 L68.55 596.07 L69.2 595.03 L69.86 594.16 L70.51 593.44 L71.17 592.84 L71.82 592.34 L72.47 591.92 L73.13 591.58 L73.78 591.48 L74.44 591.58 L75.09 591.69 L75.74 591.79 L76.4 591.9 L77.05 592 L77.71 592.11 L78.36 592.21 L79.01 592.32 L79.67 592.42 L80.32 592.52 L80.98 592.63 L81.63 592.73 L82.28 592.84 L82.94 592.94 L83.59 593.05 L84.25 593.15 L84.9 593.26 L85.55 593.36 L86.21 593.47 L86.86 593.57 L87.52 593.68 L88.17 593.78 L88.82 593.89 L89.48 593.99 L90.13 594.1 L90.79 594.2 L91.44 594.31 L92.09 594.41 L92.75 594.52 L93.4 594.62 L94.06 594.73 L94.71 594.83 L95.36 594.94 L96.02 595.04 L96.67 595.15 L97.33 595.25 L97.98 595.36 L98.63 595.46 L99.29 595.57 L99.94 595.67 L100.6 595.78 L101.25 595.88 L101.9 595.98 L102.56 596.09 L103.21 596.19 L103.87 596.3 L104.52 596.4 L105.17 596.51 L105.83 596.61 L106.48 596.72 L107.14 596.82 L107.79 596.93 L108.44 597.03 L109.1 597.14 L109.75 597.24 L110.41 597.35 L111.06 597.45 L111.71 597.56 L112.37 597.66 L113.02 597.77 L113.68 597.87 L114.33 597.98 L114.98 598.08 L115.64 598.19 L116.29 598.29 L116.95 598.4 L117.6 598.5 L118.25 598.61 L118.91 598.71 L119.56 598.82 L120.22 598.92 L120.87 599.03 L121.52 599.13 L122.18 599.24 L122.83 599.34 L123.49 599.44 L124.14 599.55 L124.79 599.65 L125.45 599.76 L126.1 599.86 L126.76 599.97 L127.41 600.07 L128.06 600.18 L128.72 600.28 L129.37 600.39 L130.03 600.49 L130.68 600.6 L131.33 600.7 L131.99 600.81 L132.64 600.91 L133.3 601.02 L133.95 601.12 L134.6 601.23 L135.26 601.33 L135.91 601.44 L136.57 601.54 L137.22 601.65 L137.87 601.75 L138.53 601.86 L139.18 601.96 L139.84 602.07 L140.49 602.17 L141.14 602.28 L141.8 602.38 L142.45 602.49 L143.11 602.59 L143.76 602.7 L144.41 602.8 L145.07 602.91 L145.72 603.01 L146.38 603.11 L147.03 603.22 L147.68 603.32 L148.34 603.43 L148.99 603.53 L149.65 603.64 L150.3 603.74 L150.95 603.85 L151.61 603.95 L152.26 604.06 L152.92 604.16 L153.57 604.27 L154.22 604.37 L154.88 604.48 L155.53 604.58 L156.19 604.69 L156.84 604.79 L157.49 604.9 L158.15 605 L158.8 605.11 L159.46 605.21 L160.11 605.32 L160.76 605.42 L161.42 605.53 L162.07 605.63 L162.73 605.74 L163.38 605.84 L164.03 605.95 L164.69 606.05 L165.34 606.16 L166 606.26 L166.65 606.37 L167.3 606.47 L167.96 606.57 L168.61 606.68 L169.27 606.78 L169.92 606.89 L170.57 606.99 L171.23 607.1 L171.88 607.2 L172.54 607.31 L173.19 607.41 L173.84 607.52 L174.5 607.62 L175.15 607.73 L175.81 607.83 L176.46 607.94 L177.11 608.04 L177.77 608.15 L178.42 608.25 L179.08 608.36 L179.73 608.46 L180.38 608.57 L181.04 608.67 L181.69 608.78 L182.35 608.88 L183 608.99 L183.65 609.09 L184.31 609.2 L184.96 609.3 L185.62 609.41 L186.27 609.51 L186.92 609.62" fill="none" stroke="#c4202f" stroke-width="1.4" stroke-linejoin="round"/>
<rect x="0.6" y="0.6" width="518.8" height="666.8" fill="none" stroke="#141010" stroke-width="1.3"/>
</svg>
</body></html>
